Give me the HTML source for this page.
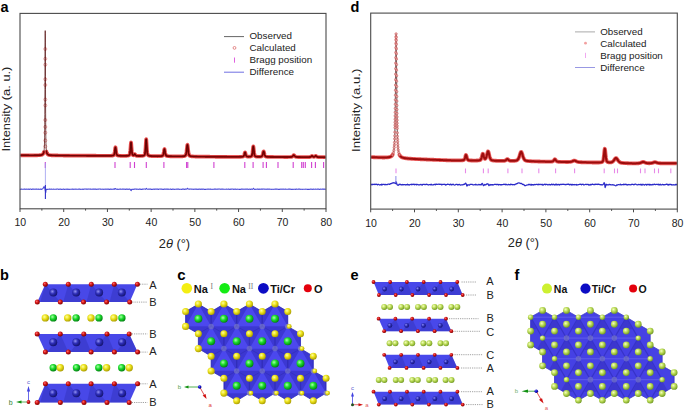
<!DOCTYPE html><html><head><meta charset="utf-8"><title>XRD refinement and crystal structures</title><style>
html,body{margin:0;padding:0;background:#fff;}
body{width:685px;height:411px;overflow:hidden;}
svg{display:block;}
text{font-family:"Liberation Sans",sans-serif;}
.tk{font-size:10.5px;fill:#222;}
.lg{font-size:9.8px;fill:#222;}
.yl{font-size:11.3px;fill:#222;}
.xl{font-size:12.8px;fill:#222;}
.pl{font-size:14.5px;font-weight:bold;fill:#000;}
.ab{font-size:11px;fill:#222;}
.lb{font-size:11px;font-weight:bold;fill:#111;}
.lf{font-size:10.5px;font-weight:bold;fill:#111;}
.rn{font-family:"Liberation Serif",serif;font-size:7.5px;fill:#777;}
.ax{font-size:6px;}
</style></head><body>
<svg width="685" height="411" viewBox="0 0 685 411">
<defs><radialGradient id="gyel" cx="0.38" cy="0.36" r="0.68"><stop offset="0" stop-color="#ffffa0"/><stop offset="0.45" stop-color="#ece21a"/><stop offset="1" stop-color="#a89a00"/></radialGradient><radialGradient id="ggrn" cx="0.38" cy="0.36" r="0.68"><stop offset="0" stop-color="#a8ffa8"/><stop offset="0.45" stop-color="#1cdc2c"/><stop offset="1" stop-color="#007a10"/></radialGradient><radialGradient id="gred" cx="0.38" cy="0.36" r="0.68"><stop offset="0" stop-color="#ff7070"/><stop offset="0.45" stop-color="#d01414"/><stop offset="1" stop-color="#780000"/></radialGradient><radialGradient id="gblu" cx="0.38" cy="0.36" r="0.68"><stop offset="0" stop-color="#7070ff"/><stop offset="0.45" stop-color="#1010d0"/><stop offset="1" stop-color="#00007a"/></radialGradient><radialGradient id="glim" cx="0.38" cy="0.36" r="0.68"><stop offset="0" stop-color="#f4ffc0"/><stop offset="0.45" stop-color="#bcdc58"/><stop offset="1" stop-color="#6e9620"/></radialGradient><radialGradient id="gti" cx="0.38" cy="0.36" r="0.68"><stop offset="0" stop-color="#9090f4"/><stop offset="0.45" stop-color="#2e2eb8"/><stop offset="1" stop-color="#12126a"/></radialGradient></defs>
<rect width="685" height="411" fill="#fff"/>
<text x="0.6" y="12.4" class="pl">a</text>
<text x="350.4" y="12.3" class="pl">d</text>
<text x="0" y="279.9" class="pl">b</text>
<clipPath id="clp20"><rect x="20.5" y="13.4" width="305" height="195.4"/></clipPath>
<g clip-path="url(#clp20)">
<path d="M20 155.3 L20.35 155.3 L20.7 155.3 L21.05 155.29 L21.4 155.3 L21.75 155.3 L22.1 155.3 L22.45 155.3 L22.8 155.3 L23.15 155.3 L23.5 155.31 L23.85 155.31 L24.2 155.31 L24.55 155.31 L24.9 155.31 L25.25 155.31 L25.6 155.31 L25.95 155.32 L26.29 155.32 L26.64 155.32 L26.99 155.32 L27.34 155.32 L27.69 155.32 L28.04 155.32 L28.39 155.32 L28.74 155.32 L29.09 155.33 L29.44 155.33 L29.79 155.33 L30.14 155.33 L30.49 155.33 L30.84 155.33 L31.19 155.33 L31.54 155.33 L31.89 155.33 L32.24 155.33 L32.59 155.33 L32.94 155.33 L33.29 155.33 L33.64 155.33 L33.99 155.32 L34.34 155.32 L34.69 155.32 L35.04 155.32 L35.39 155.32 L35.74 155.31 L36.09 155.31 L36.44 155.3 L36.79 155.3 L37.14 155.29 L37.49 155.28 L37.84 155.27 L38.19 155.26 L38.53 155.25 L38.88 155.23 L39.23 155.21 L39.58 155.19 L39.93 155.16 L40.28 155.13 L40.63 155.09 L40.98 155.03 L41.33 154.96 L41.68 154.87 L42.03 154.74 L42.38 154.57 L42.73 154.32 L43.08 153.93 L43.25 153.68 L43.4 153.38 L43.55 153.01 L43.68 152.58 L43.81 152.06 M46.54 151.61 L46.66 152.18 L46.78 152.66 L46.91 153.06 L47.05 153.4 L47.19 153.69 L47.35 153.93 L47.51 154.14 L47.69 154.32 L48.04 154.58 L48.39 154.77 L48.74 154.9 L49.08 155 L49.43 155.07 L49.78 155.13 L50.13 155.18 L50.48 155.22 L50.83 155.25 L51.18 155.28 L51.53 155.3 L51.88 155.32 L52.23 155.34 L52.58 155.36 L52.93 155.37 L53.28 155.38 L53.63 155.39 L53.98 155.4 L54.33 155.41 L54.68 155.42 L55.03 155.43 L55.38 155.43 L55.73 155.44 L56.08 155.45 L56.43 155.45 L56.78 155.46 L57.13 155.46 L57.48 155.47 L57.83 155.47 L58.18 155.48 L58.53 155.48 L58.88 155.48 L59.23 155.49 L59.58 155.49 L59.93 155.5 L60.28 155.5 L60.63 155.5 L60.98 155.51 L61.32 155.51 L61.67 155.51 L62.02 155.51 L62.37 155.52 L62.72 155.52 L63.07 155.52 L63.42 155.53 L63.77 155.53 L64.12 155.53 L64.47 155.53 L64.82 155.54 L65.17 155.54 L65.52 155.54 L65.87 155.55 L66.22 155.55 L66.57 155.55 L66.92 155.55 L67.27 155.55 L67.62 155.56 L67.97 155.56 L68.32 155.56 L68.67 155.56 L69.02 155.57 L69.37 155.57 L69.72 155.58 L70.07 155.59 L70.42 155.59 L70.77 155.59 L71.12 155.59 L71.47 155.59 L71.82 155.6 L72.17 155.6 L72.52 155.6 L72.87 155.6 L73.22 155.6 L73.56 155.61 L73.91 155.61 L74.26 155.61 L74.61 155.61 L74.96 155.61 L75.31 155.62 L75.66 155.62 L76.01 155.62 L76.36 155.62 L76.71 155.62 L77.06 155.62 L77.41 155.63 L77.76 155.63 L78.11 155.63 L78.46 155.63 L78.81 155.63 L79.16 155.64 L79.51 155.64 L79.86 155.64 L80.21 155.64 L80.56 155.64 L80.91 155.65 L81.26 155.65 L81.61 155.65 L81.96 155.65 L82.31 155.65 L82.66 155.65 L83.01 155.66 L83.36 155.66 L83.71 155.66 L84.06 155.66 L84.41 155.66 L84.76 155.67 L85.11 155.67 L85.46 155.67 L85.8 155.67 L86.15 155.67 L86.5 155.68 L86.85 155.68 L87.2 155.68 L87.55 155.68 L87.9 155.68 L88.25 155.69 L88.6 155.69 L88.95 155.69 L89.3 155.69 L89.65 155.69 L90 155.7 L90.35 155.7 L90.7 155.7 L91.05 155.7 L91.4 155.7 L91.75 155.7 L92.1 155.71 L92.45 155.71 L92.8 155.71 L93.15 155.71 L93.5 155.71 L93.85 155.71 L94.2 155.72 L94.55 155.72 L94.9 155.72 L95.25 155.72 L95.6 155.72 L95.95 155.72 L96.3 155.73 L96.65 155.73 L97 155.73 L97.35 155.73 L97.7 155.73 L98.04 155.73 L98.39 155.74 L98.74 155.74 L99.09 155.74 L99.44 155.74 L99.79 155.74 L100.14 155.74 L100.49 155.75 L100.84 155.75 L101.19 155.75 L101.54 155.75 L101.89 155.75 L102.24 155.75 L102.59 155.75 L102.94 155.75 L103.29 155.76 L103.64 155.76 L103.99 155.76 L104.34 155.76 L104.69 155.76 L105.04 155.76 L105.39 155.76 L105.74 155.76 L106.09 155.76 L106.44 155.76 L106.79 155.76 L107.14 155.76 L107.49 155.76 L107.84 155.76 L108.19 155.76 L108.54 155.76 L108.89 155.75 L109.24 155.75 L109.59 155.75 L109.94 155.74 L110.28 155.74 L110.63 155.73 L110.98 155.72 L111.33 155.7 L111.66 155.68 L111.97 155.66 L112.26 155.63 L112.54 155.6 L112.8 155.55 L113.04 155.5 L113.27 155.43 L113.48 155.33 L113.68 155.19 L113.87 154.99 L114.05 154.68 L114.21 154.25 L114.37 153.66 L114.52 152.93 L114.66 152.07 L114.79 151.12 L114.91 150.15 L115.02 149.22 L115.13 148.41 L115.23 147.79 L115.33 147.4 L115.42 147.26 L115.5 147.34 L115.59 147.64 L115.69 148.16 L115.79 148.86 L115.89 149.69 L116 150.59 L116.12 151.51 L116.25 152.38 L116.38 153.16 L116.52 153.82 L116.67 154.34 L116.83 154.74 L117 155.02 L117.17 155.22 L117.36 155.35 L117.56 155.45 L117.77 155.52 L118 155.58 L118.24 155.62 L118.49 155.66 L118.76 155.7 L119.04 155.72 L119.34 155.75 L119.66 155.77 L120 155.78 L120.35 155.8 L120.7 155.81 L121.05 155.82 L121.4 155.83 L121.75 155.83 L122.1 155.84 L122.45 155.84 L122.8 155.85 L123.15 155.85 L123.5 155.85 L123.84 155.85 L124.19 155.85 L124.54 155.85 L124.89 155.85 L125.24 155.84 L125.59 155.83 L125.94 155.82 L126.29 155.81 L126.64 155.79 L126.98 155.77 L127.31 155.74 L127.61 155.71 L127.89 155.67 L128.16 155.62 L128.41 155.56 L128.65 155.48 L128.87 155.38 L129.08 155.26 L129.27 155.09 L129.46 154.83 L129.63 154.46 L129.79 153.91 L129.95 153.14 L130.09 152.12 L130.23 150.89 L130.35 149.47 L130.47 147.94 L130.59 146.42 L130.69 145 L130.79 143.81 L130.88 142.95 L130.97 142.47 L131.05 142.37 L131.13 142.62 L131.22 143.22 L131.31 144.14 L131.4 145.33 L131.5 146.7 L131.61 148.14 L131.72 149.57 L131.84 150.9 L131.97 152.07 L132.11 153.03 L132.25 153.78 L132.4 154.33 L132.56 154.71 L132.73 154.97 L132.91 155.14 L133.1 155.24 L133.28 155.29 L133.45 155.3 L133.6 155.26 L133.75 155.18 L133.89 155.06 L134.02 154.91 L134.14 154.74 L134.26 154.56 L134.37 154.38 L134.47 154.22 L134.56 154.1 L134.65 154.03 L134.74 154.01 L134.82 154.03 L134.9 154.1 L134.99 154.21 L135.08 154.37 L135.18 154.55 L135.28 154.75 L135.39 154.95 L135.51 155.14 L135.64 155.31 L135.77 155.45 L135.91 155.57 L136.05 155.66 L136.21 155.73 L136.38 155.78 L136.55 155.81 L136.74 155.84 L136.94 155.86 L137.15 155.88 L137.37 155.89 L137.61 155.91 L137.86 155.92 L138.12 155.93 L138.41 155.93 L138.7 155.94 L139.02 155.94 L139.35 155.95 L139.7 155.95 L140.05 155.94 L140.4 155.94 L140.75 155.93 L141.1 155.92 L141.45 155.91 L141.8 155.89 L142.14 155.86 L142.47 155.83 L142.77 155.79 L143.05 155.74 L143.32 155.68 L143.57 155.6 L143.81 155.51 L144.03 155.39 L144.24 155.23 L144.44 155.02 L144.62 154.71 L144.8 154.25 L144.96 153.57 L145.11 152.61 L145.26 151.36 L145.39 149.82 L145.52 148.05 L145.64 146.15 L145.75 144.24 L145.86 142.46 L145.96 140.97 L146.05 139.88 L146.14 139.27 L146.22 139.14 L146.3 139.44 L146.38 140.18 L146.47 141.33 L146.57 142.81 L146.67 144.51 L146.78 146.32 L146.89 148.11 L147.01 149.78 L147.14 151.25 L147.27 152.46 L147.41 153.42 L147.57 154.12 L147.73 154.61 L147.9 154.95 L148.08 155.19 L148.27 155.36 L148.47 155.49 L148.68 155.6 L148.91 155.68 L149.15 155.76 L149.41 155.82 L149.68 155.87 L149.97 155.91 L150.27 155.95 L150.6 155.98 L150.94 156.01 L151.29 156.04 L151.64 156.06 L151.99 156.07 L152.34 156.09 L152.69 156.1 L153.04 156.11 L153.39 156.12 L153.74 156.13 L154.09 156.14 L154.43 156.14 L154.78 156.15 L155.13 156.16 L155.48 156.16 L155.83 156.16 L156.18 156.17 L156.53 156.17 L156.88 156.17 L157.23 156.17 L157.58 156.18 L157.93 156.18 L158.28 156.17 L158.63 156.17 L158.98 156.17 L159.33 156.16 L159.68 156.16 L160.03 156.14 L160.38 156.13 L160.71 156.11 L161.03 156.09 L161.33 156.06 L161.6 156.02 L161.87 155.97 L162.11 155.91 L162.34 155.83 L162.56 155.7 L162.76 155.51 L162.96 155.24 L163.14 154.84 L163.31 154.32 L163.46 153.68 L163.61 152.93 L163.76 152.12 L163.89 151.3 L164.01 150.53 L164.13 149.87 L164.24 149.37 L164.34 149.08 L164.44 149 L164.53 149.1 L164.63 149.4 L164.73 149.87 L164.84 150.48 L164.96 151.21 L165.08 151.98 L165.21 152.75 L165.35 153.48 L165.5 154.13 L165.66 154.67 L165.82 155.09 L166 155.41 L166.18 155.63 L166.38 155.79 L166.59 155.9 L166.81 155.97 L167.04 156.03 L167.29 156.08 L167.55 156.12 L167.83 156.16 L168.13 156.18 L168.44 156.21 L168.78 156.23 L169.13 156.25 L169.48 156.26 L169.83 156.28 L170.17 156.29 L170.52 156.3 L170.87 156.31 L171.22 156.31 L171.57 156.32 L171.92 156.33 L172.27 156.33 L172.62 156.34 L172.97 156.34 L173.32 156.35 L173.67 156.35 L174.02 156.36 L174.37 156.36 L174.72 156.36 L175.07 156.37 L175.42 156.37 L175.77 156.37 L176.12 156.38 L176.47 156.38 L176.82 156.38 L177.17 156.38 L177.52 156.38 L177.87 156.38 L178.22 156.38 L178.57 156.38 L178.92 156.38 L179.27 156.38 L179.62 156.38 L179.97 156.38 L180.32 156.37 L180.67 156.37 L181.02 156.36 L181.37 156.36 L181.72 156.35 L182.07 156.33 L182.41 156.32 L182.76 156.3 L183.11 156.27 L183.46 156.24 L183.8 156.2 L184.12 156.14 L184.42 156.08 L184.7 156 L184.96 155.89 L185.21 155.74 L185.44 155.51 L185.66 155.18 L185.86 154.7 L186.06 154.02 L186.24 153.14 L186.41 152.05 L186.57 150.82 L186.72 149.49 L186.86 148.17 L187 146.95 L187.12 145.93 L187.24 145.2 L187.35 144.8 L187.46 144.74 L187.56 144.97 L187.66 145.51 L187.78 146.32 L187.9 147.37 L188.03 148.56 L188.16 149.82 L188.31 151.06 L188.46 152.21 L188.62 153.21 L188.79 154.05 L188.97 154.69 L189.17 155.17 L189.37 155.5 L189.59 155.73 L189.82 155.89 L190.06 156.01 L190.32 156.1 L190.59 156.18 L190.88 156.24 L191.19 156.29 L191.51 156.33 L191.86 156.37 L192.21 156.4 L192.56 156.42 L192.91 156.44 L193.26 156.46 L193.61 156.48 L193.96 156.49 L194.31 156.51 L194.66 156.52 L195.01 156.53 L195.36 156.54 L195.71 156.54 L196.05 156.55 L196.4 156.56 L196.75 156.57 L197.1 156.57 L197.45 156.58 L197.8 156.58 L198.15 156.59 L198.5 156.6 L198.85 156.6 L199.2 156.61 L199.55 156.61 L199.9 156.62 L200.25 156.62 L200.6 156.63 L200.95 156.63 L201.3 156.63 L201.65 156.64 L202 156.64 L202.35 156.65 L202.7 156.65 L203.05 156.65 L203.4 156.66 L203.75 156.66 L204.1 156.67 L204.45 156.67 L204.8 156.67 L205.15 156.68 L205.5 156.68 L205.85 156.68 L206.2 156.69 L206.55 156.69 L206.9 156.7 L207.25 156.7 L207.6 156.7 L207.95 156.71 L208.29 156.71 L208.64 156.71 L208.99 156.72 L209.34 156.72 L209.69 156.72 L210.04 156.73 L210.39 156.73 L210.74 156.73 L211.09 156.74 L211.44 156.74 L211.79 156.74 L212.14 156.75 L212.49 156.75 L212.84 156.75 L213.19 156.76 L213.54 156.76 L213.89 156.76 L214.24 156.77 L214.59 156.77 L214.94 156.77 L215.29 156.78 L215.64 156.78 L215.99 156.78 L216.34 156.79 L216.69 156.79 L217.04 156.79 L217.39 156.79 L217.74 156.79 L218.09 156.79 L218.44 156.8 L218.79 156.8 L219.14 156.8 L219.49 156.8 L219.84 156.8 L220.19 156.8 L220.53 156.8 L220.88 156.8 L221.23 156.81 L221.58 156.81 L221.93 156.81 L222.28 156.81 L222.63 156.81 L222.98 156.81 L223.33 156.81 L223.68 156.81 L224.03 156.82 L224.38 156.82 L224.73 156.82 L225.08 156.82 L225.43 156.82 L225.78 156.82 L226.13 156.82 L226.48 156.82 L226.83 156.82 L227.18 156.83 L227.53 156.83 L227.88 156.83 L228.23 156.83 L228.58 156.83 L228.93 156.83 L229.28 156.83 L229.63 156.83 L229.98 156.83 L230.33 156.83 L230.68 156.83 L231.03 156.84 L231.38 156.84 L231.73 156.84 L232.08 156.84 L232.43 156.84 L232.77 156.84 L233.12 156.84 L233.47 156.84 L233.82 156.84 L234.17 156.84 L234.52 156.84 L234.87 156.84 L235.22 156.84 L235.57 156.84 L235.92 156.84 L236.27 156.84 L236.62 156.84 L236.97 156.84 L237.32 156.84 L237.67 156.84 L238.02 156.83 L238.37 156.83 L238.72 156.83 L239.07 156.83 L239.42 156.82 L239.77 156.82 L240.12 156.81 L240.47 156.8 L240.82 156.79 L241.16 156.78 L241.49 156.76 L241.79 156.74 L242.08 156.72 L242.35 156.69 L242.6 156.66 L242.84 156.61 L243.06 156.54 L243.27 156.44 L243.47 156.3 L243.66 156.08 L243.83 155.79 L244 155.42 L244.15 154.98 L244.3 154.48 L244.43 153.96 L244.56 153.45 L244.68 153 L244.8 152.63 L244.9 152.38 L245 152.27 L245.1 152.28 L245.19 152.4 L245.29 152.64 L245.4 152.99 L245.51 153.42 L245.63 153.89 L245.76 154.38 L245.89 154.85 L246.04 155.29 L246.19 155.66 L246.35 155.96 L246.52 156.18 L246.7 156.35 L246.89 156.46 L247.1 156.54 L247.31 156.59 L247.54 156.62 L247.78 156.65 L248.04 156.67 L248.31 156.68 L248.6 156.68 L248.9 156.68 L249.22 156.67 L249.57 156.65 L249.88 156.63 L250.17 156.59 L250.44 156.55 L250.7 156.49 L250.94 156.42 L251.17 156.32 L251.39 156.18 L251.59 155.98 L251.78 155.67 L251.96 155.23 L252.12 154.61 L252.28 153.81 L252.43 152.83 L252.57 151.71 L252.7 150.52 L252.82 149.34 L252.94 148.25 L253.05 147.34 L253.15 146.7 L253.24 146.35 L253.33 146.31 L253.42 146.53 L253.52 147.02 L253.61 147.77 L253.72 148.72 L253.83 149.79 L253.95 150.92 L254.08 152.03 L254.21 153.06 L254.35 153.95 L254.5 154.69 L254.66 155.26 L254.82 155.68 L255 155.97 L255.19 156.18 L255.39 156.32 L255.6 156.42 L255.83 156.49 L256.06 156.56 L256.32 156.61 L256.58 156.65 L256.87 156.68 L257.17 156.71 L257.49 156.73 L257.82 156.75 L258.17 156.76 L258.52 156.77 L258.87 156.77 L259.22 156.76 L259.57 156.76 L259.92 156.74 L260.25 156.72 L260.55 156.69 L260.84 156.65 L261.11 156.6 L261.37 156.52 L261.61 156.4 L261.84 156.22 L262.05 155.97 L262.25 155.61 L262.43 155.16 L262.61 154.62 L262.78 154.02 L262.93 153.38 L263.08 152.77 L263.21 152.22 L263.34 151.78 L263.47 151.48 L263.58 151.35 L263.69 151.37 L263.8 151.53 L263.91 151.83 L264.03 152.26 L264.16 152.78 L264.3 153.37 L264.45 153.96 L264.6 154.54 L264.77 155.07 L264.94 155.52 L265.12 155.88 L265.32 156.16 L265.52 156.36 L265.74 156.5 L265.98 156.6 L266.22 156.67 L266.48 156.72 L266.76 156.76 L267.05 156.79 L267.36 156.82 L267.69 156.85 L268.04 156.87 L268.39 156.88 L268.74 156.9 L269.09 156.91 L269.44 156.92 L269.79 156.92 L270.14 156.93 L270.49 156.94 L270.84 156.94 L271.19 156.95 L271.54 156.95 L271.89 156.96 L272.24 156.96 L272.59 156.97 L272.94 156.97 L273.29 156.97 L273.64 156.98 L273.99 156.98 L274.34 156.98 L274.69 156.98 L275.04 156.99 L275.39 156.99 L275.74 156.99 L276.09 156.99 L276.44 157 L276.79 157 L277.14 157 L277.49 157 L277.84 157 L278.19 157 L278.54 157.01 L278.89 157.01 L279.23 157.01 L279.58 157.01 L279.93 157.01 L280.28 157.01 L280.63 157.02 L280.98 157.02 L281.33 157.02 L281.68 157.02 L282.03 157.02 L282.38 157.02 L282.73 157.02 L283.08 157.02 L283.43 157.02 L283.78 157.03 L284.13 157.03 L284.48 157.03 L284.83 157.03 L285.18 157.03 L285.53 157.03 L285.88 157.03 L286.23 157.03 L286.58 157.03 L286.93 157.03 L287.28 157.03 L287.63 157.03 L287.98 157.03 L288.33 157.02 L288.68 157.02 L289.03 157.02 L289.38 157.01 L289.73 157.01 L290.08 157 L290.42 156.99 L290.74 156.97 L291.04 156.95 L291.33 156.92 L291.6 156.88 L291.85 156.81 L292.09 156.71 L292.31 156.58 L292.52 156.42 L292.71 156.22 L292.9 156 L293.07 155.78 L293.24 155.56 L293.39 155.37 L293.53 155.22 L293.67 155.12 L293.8 155.08 L293.92 155.09 L294.04 155.15 L294.17 155.27 L294.31 155.43 L294.46 155.62 L294.61 155.83 L294.78 156.04 L294.95 156.24 L295.14 156.43 L295.33 156.59 L295.54 156.71 L295.76 156.81 L296 156.88 L296.25 156.93 L296.51 156.96 L296.79 156.98 L297.08 157 L297.4 157.02 L297.73 157.03 L298.08 157.04 L298.43 157.05 L298.78 157.05 L299.13 157.06 L299.48 157.07 L299.83 157.07 L300.18 157.07 L300.53 157.08 L300.88 157.08 L301.23 157.08 L301.58 157.09 L301.93 157.09 L302.28 157.09 L302.63 157.09 L302.98 157.09 L303.33 157.09 L303.68 157.1 L304.03 157.1 L304.38 157.1 L304.73 157.1 L305.07 157.1 L305.42 157.1 L305.77 157.1 L306.12 157.1 L306.47 157.1 L306.82 157.1 L307.17 157.1 L307.52 157.1 L307.87 157.09 L308.22 157.09 L308.55 157.08 L308.87 157.08 L309.16 157.07 L309.44 157.06 L309.7 157.04 L309.94 157.02 L310.17 156.98 L310.38 156.93 L310.59 156.86 L310.78 156.77 L310.96 156.66 L311.12 156.53 L311.28 156.39 L311.43 156.26 L311.57 156.13 L311.7 156.03 L311.83 155.96 L311.94 155.92 L312.05 155.91 L312.16 155.94 L312.27 155.99 L312.39 156.07 L312.52 156.18 L312.66 156.3 L312.8 156.42 L312.95 156.54 L313.11 156.65 L313.28 156.74 L313.46 156.81 L313.66 156.86 L313.86 156.87 L314.08 156.85 L314.28 156.8 L314.47 156.72 L314.65 156.61 L314.82 156.48 L314.98 156.34 L315.13 156.2 L315.27 156.07 L315.4 155.96 L315.53 155.88 L315.64 155.84 L315.75 155.83 L315.86 155.86 L315.97 155.92 L316.09 156.01 L316.22 156.12 L316.36 156.26 L316.5 156.4 L316.65 156.53 L316.81 156.66 L316.98 156.78 L317.16 156.87 L317.35 156.94 L317.55 157 L317.77 157.04 L317.99 157.07 L318.24 157.09 L318.49 157.1 L318.76 157.11 L319.05 157.12 L319.35 157.13 L319.68 157.14 L320.02 157.14 L320.37 157.15 L320.72 157.15 L321.07 157.16 L321.42 157.16 L321.77 157.16 L322.12 157.17 L322.46 157.17 L322.81 157.17 L323.16 157.18 L323.51 157.18 L323.86 157.18 L324.21 157.18 L324.56 157.18 L324.91 157.19 L325.26 157.19 L325.61 157.19 L325.96 157.19" fill="none" stroke="#e42c2c" stroke-width="3.7" stroke-linejoin="round" stroke-linecap="round" opacity="0.8"/>
<path d="M20 155.3 L20.35 155.3 L20.7 155.3 L21.05 155.29 L21.4 155.3 L21.75 155.3 L22.1 155.3 L22.45 155.3 L22.8 155.3 L23.15 155.3 L23.5 155.31 L23.85 155.31 L24.2 155.31 L24.55 155.31 L24.9 155.31 L25.25 155.31 L25.6 155.31 L25.95 155.32 L26.29 155.32 L26.64 155.32 L26.99 155.32 L27.34 155.32 L27.69 155.32 L28.04 155.32 L28.39 155.32 L28.74 155.32 L29.09 155.33 L29.44 155.33 L29.79 155.33 L30.14 155.33 L30.49 155.33 L30.84 155.33 L31.19 155.33 L31.54 155.33 L31.89 155.33 L32.24 155.33 L32.59 155.33 L32.94 155.33 L33.29 155.33 L33.64 155.33 L33.99 155.32 L34.34 155.32 L34.69 155.32 L35.04 155.32 L35.39 155.32 L35.74 155.31 L36.09 155.31 L36.44 155.3 L36.79 155.3 L37.14 155.29 L37.49 155.28 L37.84 155.27 L38.19 155.26 L38.53 155.25 L38.88 155.23 L39.23 155.21 L39.58 155.19 L39.93 155.16 L40.28 155.13 L40.63 155.09 L40.98 155.03 L41.33 154.96 L41.68 154.87 L42.03 154.74 L42.38 154.57 L42.73 154.32 L43.08 153.93 L43.25 153.68 L43.4 153.38 L43.55 153.01 L43.68 152.58 L43.81 152.06 M46.54 151.61 L46.66 152.18 L46.78 152.66 L46.91 153.06 L47.05 153.4 L47.19 153.69 L47.35 153.93 L47.51 154.14 L47.69 154.32 L48.04 154.58 L48.39 154.77 L48.74 154.9 L49.08 155 L49.43 155.07 L49.78 155.13 L50.13 155.18 L50.48 155.22 L50.83 155.25 L51.18 155.28 L51.53 155.3 L51.88 155.32 L52.23 155.34 L52.58 155.36 L52.93 155.37 L53.28 155.38 L53.63 155.39 L53.98 155.4 L54.33 155.41 L54.68 155.42 L55.03 155.43 L55.38 155.43 L55.73 155.44 L56.08 155.45 L56.43 155.45 L56.78 155.46 L57.13 155.46 L57.48 155.47 L57.83 155.47 L58.18 155.48 L58.53 155.48 L58.88 155.48 L59.23 155.49 L59.58 155.49 L59.93 155.5 L60.28 155.5 L60.63 155.5 L60.98 155.51 L61.32 155.51 L61.67 155.51 L62.02 155.51 L62.37 155.52 L62.72 155.52 L63.07 155.52 L63.42 155.53 L63.77 155.53 L64.12 155.53 L64.47 155.53 L64.82 155.54 L65.17 155.54 L65.52 155.54 L65.87 155.55 L66.22 155.55 L66.57 155.55 L66.92 155.55 L67.27 155.55 L67.62 155.56 L67.97 155.56 L68.32 155.56 L68.67 155.56 L69.02 155.57 L69.37 155.57 L69.72 155.58 L70.07 155.59 L70.42 155.59 L70.77 155.59 L71.12 155.59 L71.47 155.59 L71.82 155.6 L72.17 155.6 L72.52 155.6 L72.87 155.6 L73.22 155.6 L73.56 155.61 L73.91 155.61 L74.26 155.61 L74.61 155.61 L74.96 155.61 L75.31 155.62 L75.66 155.62 L76.01 155.62 L76.36 155.62 L76.71 155.62 L77.06 155.62 L77.41 155.63 L77.76 155.63 L78.11 155.63 L78.46 155.63 L78.81 155.63 L79.16 155.64 L79.51 155.64 L79.86 155.64 L80.21 155.64 L80.56 155.64 L80.91 155.65 L81.26 155.65 L81.61 155.65 L81.96 155.65 L82.31 155.65 L82.66 155.65 L83.01 155.66 L83.36 155.66 L83.71 155.66 L84.06 155.66 L84.41 155.66 L84.76 155.67 L85.11 155.67 L85.46 155.67 L85.8 155.67 L86.15 155.67 L86.5 155.68 L86.85 155.68 L87.2 155.68 L87.55 155.68 L87.9 155.68 L88.25 155.69 L88.6 155.69 L88.95 155.69 L89.3 155.69 L89.65 155.69 L90 155.7 L90.35 155.7 L90.7 155.7 L91.05 155.7 L91.4 155.7 L91.75 155.7 L92.1 155.71 L92.45 155.71 L92.8 155.71 L93.15 155.71 L93.5 155.71 L93.85 155.71 L94.2 155.72 L94.55 155.72 L94.9 155.72 L95.25 155.72 L95.6 155.72 L95.95 155.72 L96.3 155.73 L96.65 155.73 L97 155.73 L97.35 155.73 L97.7 155.73 L98.04 155.73 L98.39 155.74 L98.74 155.74 L99.09 155.74 L99.44 155.74 L99.79 155.74 L100.14 155.74 L100.49 155.75 L100.84 155.75 L101.19 155.75 L101.54 155.75 L101.89 155.75 L102.24 155.75 L102.59 155.75 L102.94 155.75 L103.29 155.76 L103.64 155.76 L103.99 155.76 L104.34 155.76 L104.69 155.76 L105.04 155.76 L105.39 155.76 L105.74 155.76 L106.09 155.76 L106.44 155.76 L106.79 155.76 L107.14 155.76 L107.49 155.76 L107.84 155.76 L108.19 155.76 L108.54 155.76 L108.89 155.75 L109.24 155.75 L109.59 155.75 L109.94 155.74 L110.28 155.74 L110.63 155.73 L110.98 155.72 L111.33 155.7 L111.66 155.68 L111.97 155.66 L112.26 155.63 L112.54 155.6 L112.8 155.55 L113.04 155.5 L113.27 155.43 L113.48 155.33 L113.68 155.19 L113.87 154.99 L114.05 154.68 L114.21 154.25 L114.37 153.66 L114.52 152.93 L114.66 152.07 L114.79 151.12 L114.91 150.15 L115.02 149.22 L115.13 148.41 L115.23 147.79 L115.33 147.4 L115.42 147.26 L115.5 147.34 L115.59 147.64 L115.69 148.16 L115.79 148.86 L115.89 149.69 L116 150.59 L116.12 151.51 L116.25 152.38 L116.38 153.16 L116.52 153.82 L116.67 154.34 L116.83 154.74 L117 155.02 L117.17 155.22 L117.36 155.35 L117.56 155.45 L117.77 155.52 L118 155.58 L118.24 155.62 L118.49 155.66 L118.76 155.7 L119.04 155.72 L119.34 155.75 L119.66 155.77 L120 155.78 L120.35 155.8 L120.7 155.81 L121.05 155.82 L121.4 155.83 L121.75 155.83 L122.1 155.84 L122.45 155.84 L122.8 155.85 L123.15 155.85 L123.5 155.85 L123.84 155.85 L124.19 155.85 L124.54 155.85 L124.89 155.85 L125.24 155.84 L125.59 155.83 L125.94 155.82 L126.29 155.81 L126.64 155.79 L126.98 155.77 L127.31 155.74 L127.61 155.71 L127.89 155.67 L128.16 155.62 L128.41 155.56 L128.65 155.48 L128.87 155.38 L129.08 155.26 L129.27 155.09 L129.46 154.83 L129.63 154.46 L129.79 153.91 L129.95 153.14 L130.09 152.12 L130.23 150.89 L130.35 149.47 L130.47 147.94 L130.59 146.42 L130.69 145 L130.79 143.81 L130.88 142.95 L130.97 142.47 L131.05 142.37 L131.13 142.62 L131.22 143.22 L131.31 144.14 L131.4 145.33 L131.5 146.7 L131.61 148.14 L131.72 149.57 L131.84 150.9 L131.97 152.07 L132.11 153.03 L132.25 153.78 L132.4 154.33 L132.56 154.71 L132.73 154.97 L132.91 155.14 L133.1 155.24 L133.28 155.29 L133.45 155.3 L133.6 155.26 L133.75 155.18 L133.89 155.06 L134.02 154.91 L134.14 154.74 L134.26 154.56 L134.37 154.38 L134.47 154.22 L134.56 154.1 L134.65 154.03 L134.74 154.01 L134.82 154.03 L134.9 154.1 L134.99 154.21 L135.08 154.37 L135.18 154.55 L135.28 154.75 L135.39 154.95 L135.51 155.14 L135.64 155.31 L135.77 155.45 L135.91 155.57 L136.05 155.66 L136.21 155.73 L136.38 155.78 L136.55 155.81 L136.74 155.84 L136.94 155.86 L137.15 155.88 L137.37 155.89 L137.61 155.91 L137.86 155.92 L138.12 155.93 L138.41 155.93 L138.7 155.94 L139.02 155.94 L139.35 155.95 L139.7 155.95 L140.05 155.94 L140.4 155.94 L140.75 155.93 L141.1 155.92 L141.45 155.91 L141.8 155.89 L142.14 155.86 L142.47 155.83 L142.77 155.79 L143.05 155.74 L143.32 155.68 L143.57 155.6 L143.81 155.51 L144.03 155.39 L144.24 155.23 L144.44 155.02 L144.62 154.71 L144.8 154.25 L144.96 153.57 L145.11 152.61 L145.26 151.36 L145.39 149.82 L145.52 148.05 L145.64 146.15 L145.75 144.24 L145.86 142.46 L145.96 140.97 L146.05 139.88 L146.14 139.27 L146.22 139.14 L146.3 139.44 L146.38 140.18 L146.47 141.33 L146.57 142.81 L146.67 144.51 L146.78 146.32 L146.89 148.11 L147.01 149.78 L147.14 151.25 L147.27 152.46 L147.41 153.42 L147.57 154.12 L147.73 154.61 L147.9 154.95 L148.08 155.19 L148.27 155.36 L148.47 155.49 L148.68 155.6 L148.91 155.68 L149.15 155.76 L149.41 155.82 L149.68 155.87 L149.97 155.91 L150.27 155.95 L150.6 155.98 L150.94 156.01 L151.29 156.04 L151.64 156.06 L151.99 156.07 L152.34 156.09 L152.69 156.1 L153.04 156.11 L153.39 156.12 L153.74 156.13 L154.09 156.14 L154.43 156.14 L154.78 156.15 L155.13 156.16 L155.48 156.16 L155.83 156.16 L156.18 156.17 L156.53 156.17 L156.88 156.17 L157.23 156.17 L157.58 156.18 L157.93 156.18 L158.28 156.17 L158.63 156.17 L158.98 156.17 L159.33 156.16 L159.68 156.16 L160.03 156.14 L160.38 156.13 L160.71 156.11 L161.03 156.09 L161.33 156.06 L161.6 156.02 L161.87 155.97 L162.11 155.91 L162.34 155.83 L162.56 155.7 L162.76 155.51 L162.96 155.24 L163.14 154.84 L163.31 154.32 L163.46 153.68 L163.61 152.93 L163.76 152.12 L163.89 151.3 L164.01 150.53 L164.13 149.87 L164.24 149.37 L164.34 149.08 L164.44 149 L164.53 149.1 L164.63 149.4 L164.73 149.87 L164.84 150.48 L164.96 151.21 L165.08 151.98 L165.21 152.75 L165.35 153.48 L165.5 154.13 L165.66 154.67 L165.82 155.09 L166 155.41 L166.18 155.63 L166.38 155.79 L166.59 155.9 L166.81 155.97 L167.04 156.03 L167.29 156.08 L167.55 156.12 L167.83 156.16 L168.13 156.18 L168.44 156.21 L168.78 156.23 L169.13 156.25 L169.48 156.26 L169.83 156.28 L170.17 156.29 L170.52 156.3 L170.87 156.31 L171.22 156.31 L171.57 156.32 L171.92 156.33 L172.27 156.33 L172.62 156.34 L172.97 156.34 L173.32 156.35 L173.67 156.35 L174.02 156.36 L174.37 156.36 L174.72 156.36 L175.07 156.37 L175.42 156.37 L175.77 156.37 L176.12 156.38 L176.47 156.38 L176.82 156.38 L177.17 156.38 L177.52 156.38 L177.87 156.38 L178.22 156.38 L178.57 156.38 L178.92 156.38 L179.27 156.38 L179.62 156.38 L179.97 156.38 L180.32 156.37 L180.67 156.37 L181.02 156.36 L181.37 156.36 L181.72 156.35 L182.07 156.33 L182.41 156.32 L182.76 156.3 L183.11 156.27 L183.46 156.24 L183.8 156.2 L184.12 156.14 L184.42 156.08 L184.7 156 L184.96 155.89 L185.21 155.74 L185.44 155.51 L185.66 155.18 L185.86 154.7 L186.06 154.02 L186.24 153.14 L186.41 152.05 L186.57 150.82 L186.72 149.49 L186.86 148.17 L187 146.95 L187.12 145.93 L187.24 145.2 L187.35 144.8 L187.46 144.74 L187.56 144.97 L187.66 145.51 L187.78 146.32 L187.9 147.37 L188.03 148.56 L188.16 149.82 L188.31 151.06 L188.46 152.21 L188.62 153.21 L188.79 154.05 L188.97 154.69 L189.17 155.17 L189.37 155.5 L189.59 155.73 L189.82 155.89 L190.06 156.01 L190.32 156.1 L190.59 156.18 L190.88 156.24 L191.19 156.29 L191.51 156.33 L191.86 156.37 L192.21 156.4 L192.56 156.42 L192.91 156.44 L193.26 156.46 L193.61 156.48 L193.96 156.49 L194.31 156.51 L194.66 156.52 L195.01 156.53 L195.36 156.54 L195.71 156.54 L196.05 156.55 L196.4 156.56 L196.75 156.57 L197.1 156.57 L197.45 156.58 L197.8 156.58 L198.15 156.59 L198.5 156.6 L198.85 156.6 L199.2 156.61 L199.55 156.61 L199.9 156.62 L200.25 156.62 L200.6 156.63 L200.95 156.63 L201.3 156.63 L201.65 156.64 L202 156.64 L202.35 156.65 L202.7 156.65 L203.05 156.65 L203.4 156.66 L203.75 156.66 L204.1 156.67 L204.45 156.67 L204.8 156.67 L205.15 156.68 L205.5 156.68 L205.85 156.68 L206.2 156.69 L206.55 156.69 L206.9 156.7 L207.25 156.7 L207.6 156.7 L207.95 156.71 L208.29 156.71 L208.64 156.71 L208.99 156.72 L209.34 156.72 L209.69 156.72 L210.04 156.73 L210.39 156.73 L210.74 156.73 L211.09 156.74 L211.44 156.74 L211.79 156.74 L212.14 156.75 L212.49 156.75 L212.84 156.75 L213.19 156.76 L213.54 156.76 L213.89 156.76 L214.24 156.77 L214.59 156.77 L214.94 156.77 L215.29 156.78 L215.64 156.78 L215.99 156.78 L216.34 156.79 L216.69 156.79 L217.04 156.79 L217.39 156.79 L217.74 156.79 L218.09 156.79 L218.44 156.8 L218.79 156.8 L219.14 156.8 L219.49 156.8 L219.84 156.8 L220.19 156.8 L220.53 156.8 L220.88 156.8 L221.23 156.81 L221.58 156.81 L221.93 156.81 L222.28 156.81 L222.63 156.81 L222.98 156.81 L223.33 156.81 L223.68 156.81 L224.03 156.82 L224.38 156.82 L224.73 156.82 L225.08 156.82 L225.43 156.82 L225.78 156.82 L226.13 156.82 L226.48 156.82 L226.83 156.82 L227.18 156.83 L227.53 156.83 L227.88 156.83 L228.23 156.83 L228.58 156.83 L228.93 156.83 L229.28 156.83 L229.63 156.83 L229.98 156.83 L230.33 156.83 L230.68 156.83 L231.03 156.84 L231.38 156.84 L231.73 156.84 L232.08 156.84 L232.43 156.84 L232.77 156.84 L233.12 156.84 L233.47 156.84 L233.82 156.84 L234.17 156.84 L234.52 156.84 L234.87 156.84 L235.22 156.84 L235.57 156.84 L235.92 156.84 L236.27 156.84 L236.62 156.84 L236.97 156.84 L237.32 156.84 L237.67 156.84 L238.02 156.83 L238.37 156.83 L238.72 156.83 L239.07 156.83 L239.42 156.82 L239.77 156.82 L240.12 156.81 L240.47 156.8 L240.82 156.79 L241.16 156.78 L241.49 156.76 L241.79 156.74 L242.08 156.72 L242.35 156.69 L242.6 156.66 L242.84 156.61 L243.06 156.54 L243.27 156.44 L243.47 156.3 L243.66 156.08 L243.83 155.79 L244 155.42 L244.15 154.98 L244.3 154.48 L244.43 153.96 L244.56 153.45 L244.68 153 L244.8 152.63 L244.9 152.38 L245 152.27 L245.1 152.28 L245.19 152.4 L245.29 152.64 L245.4 152.99 L245.51 153.42 L245.63 153.89 L245.76 154.38 L245.89 154.85 L246.04 155.29 L246.19 155.66 L246.35 155.96 L246.52 156.18 L246.7 156.35 L246.89 156.46 L247.1 156.54 L247.31 156.59 L247.54 156.62 L247.78 156.65 L248.04 156.67 L248.31 156.68 L248.6 156.68 L248.9 156.68 L249.22 156.67 L249.57 156.65 L249.88 156.63 L250.17 156.59 L250.44 156.55 L250.7 156.49 L250.94 156.42 L251.17 156.32 L251.39 156.18 L251.59 155.98 L251.78 155.67 L251.96 155.23 L252.12 154.61 L252.28 153.81 L252.43 152.83 L252.57 151.71 L252.7 150.52 L252.82 149.34 L252.94 148.25 L253.05 147.34 L253.15 146.7 L253.24 146.35 L253.33 146.31 L253.42 146.53 L253.52 147.02 L253.61 147.77 L253.72 148.72 L253.83 149.79 L253.95 150.92 L254.08 152.03 L254.21 153.06 L254.35 153.95 L254.5 154.69 L254.66 155.26 L254.82 155.68 L255 155.97 L255.19 156.18 L255.39 156.32 L255.6 156.42 L255.83 156.49 L256.06 156.56 L256.32 156.61 L256.58 156.65 L256.87 156.68 L257.17 156.71 L257.49 156.73 L257.82 156.75 L258.17 156.76 L258.52 156.77 L258.87 156.77 L259.22 156.76 L259.57 156.76 L259.92 156.74 L260.25 156.72 L260.55 156.69 L260.84 156.65 L261.11 156.6 L261.37 156.52 L261.61 156.4 L261.84 156.22 L262.05 155.97 L262.25 155.61 L262.43 155.16 L262.61 154.62 L262.78 154.02 L262.93 153.38 L263.08 152.77 L263.21 152.22 L263.34 151.78 L263.47 151.48 L263.58 151.35 L263.69 151.37 L263.8 151.53 L263.91 151.83 L264.03 152.26 L264.16 152.78 L264.3 153.37 L264.45 153.96 L264.6 154.54 L264.77 155.07 L264.94 155.52 L265.12 155.88 L265.32 156.16 L265.52 156.36 L265.74 156.5 L265.98 156.6 L266.22 156.67 L266.48 156.72 L266.76 156.76 L267.05 156.79 L267.36 156.82 L267.69 156.85 L268.04 156.87 L268.39 156.88 L268.74 156.9 L269.09 156.91 L269.44 156.92 L269.79 156.92 L270.14 156.93 L270.49 156.94 L270.84 156.94 L271.19 156.95 L271.54 156.95 L271.89 156.96 L272.24 156.96 L272.59 156.97 L272.94 156.97 L273.29 156.97 L273.64 156.98 L273.99 156.98 L274.34 156.98 L274.69 156.98 L275.04 156.99 L275.39 156.99 L275.74 156.99 L276.09 156.99 L276.44 157 L276.79 157 L277.14 157 L277.49 157 L277.84 157 L278.19 157 L278.54 157.01 L278.89 157.01 L279.23 157.01 L279.58 157.01 L279.93 157.01 L280.28 157.01 L280.63 157.02 L280.98 157.02 L281.33 157.02 L281.68 157.02 L282.03 157.02 L282.38 157.02 L282.73 157.02 L283.08 157.02 L283.43 157.02 L283.78 157.03 L284.13 157.03 L284.48 157.03 L284.83 157.03 L285.18 157.03 L285.53 157.03 L285.88 157.03 L286.23 157.03 L286.58 157.03 L286.93 157.03 L287.28 157.03 L287.63 157.03 L287.98 157.03 L288.33 157.02 L288.68 157.02 L289.03 157.02 L289.38 157.01 L289.73 157.01 L290.08 157 L290.42 156.99 L290.74 156.97 L291.04 156.95 L291.33 156.92 L291.6 156.88 L291.85 156.81 L292.09 156.71 L292.31 156.58 L292.52 156.42 L292.71 156.22 L292.9 156 L293.07 155.78 L293.24 155.56 L293.39 155.37 L293.53 155.22 L293.67 155.12 L293.8 155.08 L293.92 155.09 L294.04 155.15 L294.17 155.27 L294.31 155.43 L294.46 155.62 L294.61 155.83 L294.78 156.04 L294.95 156.24 L295.14 156.43 L295.33 156.59 L295.54 156.71 L295.76 156.81 L296 156.88 L296.25 156.93 L296.51 156.96 L296.79 156.98 L297.08 157 L297.4 157.02 L297.73 157.03 L298.08 157.04 L298.43 157.05 L298.78 157.05 L299.13 157.06 L299.48 157.07 L299.83 157.07 L300.18 157.07 L300.53 157.08 L300.88 157.08 L301.23 157.08 L301.58 157.09 L301.93 157.09 L302.28 157.09 L302.63 157.09 L302.98 157.09 L303.33 157.09 L303.68 157.1 L304.03 157.1 L304.38 157.1 L304.73 157.1 L305.07 157.1 L305.42 157.1 L305.77 157.1 L306.12 157.1 L306.47 157.1 L306.82 157.1 L307.17 157.1 L307.52 157.1 L307.87 157.09 L308.22 157.09 L308.55 157.08 L308.87 157.08 L309.16 157.07 L309.44 157.06 L309.7 157.04 L309.94 157.02 L310.17 156.98 L310.38 156.93 L310.59 156.86 L310.78 156.77 L310.96 156.66 L311.12 156.53 L311.28 156.39 L311.43 156.26 L311.57 156.13 L311.7 156.03 L311.83 155.96 L311.94 155.92 L312.05 155.91 L312.16 155.94 L312.27 155.99 L312.39 156.07 L312.52 156.18 L312.66 156.3 L312.8 156.42 L312.95 156.54 L313.11 156.65 L313.28 156.74 L313.46 156.81 L313.66 156.86 L313.86 156.87 L314.08 156.85 L314.28 156.8 L314.47 156.72 L314.65 156.61 L314.82 156.48 L314.98 156.34 L315.13 156.2 L315.27 156.07 L315.4 155.96 L315.53 155.88 L315.64 155.84 L315.75 155.83 L315.86 155.86 L315.97 155.92 L316.09 156.01 L316.22 156.12 L316.36 156.26 L316.5 156.4 L316.65 156.53 L316.81 156.66 L316.98 156.78 L317.16 156.87 L317.35 156.94 L317.55 157 L317.77 157.04 L317.99 157.07 L318.24 157.09 L318.49 157.1 L318.76 157.11 L319.05 157.12 L319.35 157.13 L319.68 157.14 L320.02 157.14 L320.37 157.15 L320.72 157.15 L321.07 157.16 L321.42 157.16 L321.77 157.16 L322.12 157.17 L322.46 157.17 L322.81 157.17 L323.16 157.18 L323.51 157.18 L323.86 157.18 L324.21 157.18 L324.56 157.18 L324.91 157.19 L325.26 157.19 L325.61 157.19 L325.96 157.19" fill="none" stroke="#9a0a0a" stroke-width="1.9" stroke-linejoin="round" stroke-linecap="round"/>
<circle cx="45.3" cy="49" r="1.5" fill="none" stroke="#e07070" stroke-width="0.8" opacity="0.8"/>
<circle cx="45.3" cy="58.8" r="1.5" fill="none" stroke="#e07070" stroke-width="0.8" opacity="0.8"/>
<circle cx="45.3" cy="64.7" r="1.5" fill="none" stroke="#e07070" stroke-width="0.8" opacity="0.8"/>
<circle cx="45.3" cy="79.2" r="1.5" fill="none" stroke="#e07070" stroke-width="0.8" opacity="0.8"/>
<circle cx="45.3" cy="85" r="1.5" fill="none" stroke="#e07070" stroke-width="0.8" opacity="0.8"/>
<circle cx="45.3" cy="99.5" r="1.5" fill="none" stroke="#e07070" stroke-width="0.8" opacity="0.8"/>
<circle cx="45.3" cy="105.4" r="1.5" fill="none" stroke="#e07070" stroke-width="0.8" opacity="0.8"/>
<circle cx="45.3" cy="120" r="1.5" fill="none" stroke="#e07070" stroke-width="0.8" opacity="0.8"/>
<circle cx="45.3" cy="126.9" r="1.5" fill="none" stroke="#e07070" stroke-width="0.8" opacity="0.8"/>
<circle cx="45.3" cy="132.7" r="1.5" fill="none" stroke="#e07070" stroke-width="0.8" opacity="0.8"/>
<circle cx="45.3" cy="140.5" r="1.5" fill="none" stroke="#e07070" stroke-width="0.8" opacity="0.8"/>
<circle cx="45.3" cy="146.4" r="1.5" fill="none" stroke="#e07070" stroke-width="0.8" opacity="0.8"/>
<path d="M20 155.3 L20.35 155.3 L20.7 155.3 L21.05 155.29 L21.4 155.3 L21.75 155.3 L22.1 155.3 L22.45 155.3 L22.8 155.3 L23.15 155.3 L23.5 155.31 L23.85 155.31 L24.2 155.31 L24.55 155.31 L24.9 155.31 L25.25 155.31 L25.6 155.31 L25.95 155.32 L26.29 155.32 L26.64 155.32 L26.99 155.32 L27.34 155.32 L27.69 155.32 L28.04 155.32 L28.39 155.32 L28.74 155.32 L29.09 155.33 L29.44 155.33 L29.79 155.33 L30.14 155.33 L30.49 155.33 L30.84 155.33 L31.19 155.33 L31.54 155.33 L31.89 155.33 L32.24 155.33 L32.59 155.33 L32.94 155.33 L33.29 155.33 L33.64 155.33 L33.99 155.32 L34.34 155.32 L34.69 155.32 L35.04 155.32 L35.39 155.32 L35.74 155.31 L36.09 155.31 L36.44 155.3 L36.79 155.3 L37.14 155.29 L37.49 155.28 L37.84 155.27 L38.19 155.26 L38.53 155.25 L38.88 155.23 L39.23 155.21 L39.58 155.19 L39.93 155.16 L40.28 155.13 L40.63 155.09 L40.98 155.03 L41.33 154.96 L41.68 154.87 L42.03 154.74 L42.38 154.57 L42.73 154.32 L43.08 153.93 L43.25 153.68 L43.4 153.38 L43.55 153.01 L43.68 152.58 L43.81 152.06 L43.94 151.43 L44.05 150.66 L44.16 149.73 L44.26 148.55 L44.35 147.02 L44.44 144.95 L44.52 142.02 L44.6 137.85 L44.68 132.02 L44.75 124.25 L44.81 114.43 L44.87 102.74 L44.93 89.64 L44.99 75.82 L45.04 62.23 L45.08 49.94 L45.13 40.07 L45.17 33.49 L45.21 30.61 L45.25 31.21 L45.29 35.07 L45.33 42.15 L45.37 52.01 L45.42 63.84 L45.46 76.71 L45.52 89.72 L45.57 102.09 L45.63 113.22 L45.69 122.73 L45.75 130.44 L45.82 136.37 L45.89 140.75 L45.97 143.9 L46.05 146.16 L46.14 147.82 L46.23 149.09 L46.33 150.1 L46.43 150.93 L46.54 151.61 L46.66 152.18 L46.78 152.66 L46.91 153.06 L47.05 153.4 L47.19 153.69 L47.35 153.93 L47.51 154.14 L47.69 154.32 L48.04 154.58 L48.39 154.77 L48.74 154.9 L49.08 155 L49.43 155.07 L49.78 155.13 L50.13 155.18 L50.48 155.22 L50.83 155.25 L51.18 155.28 L51.53 155.3 L51.88 155.32 L52.23 155.34 L52.58 155.36 L52.93 155.37 L53.28 155.38 L53.63 155.39 L53.98 155.4 L54.33 155.41 L54.68 155.42 L55.03 155.43 L55.38 155.43 L55.73 155.44 L56.08 155.45 L56.43 155.45 L56.78 155.46 L57.13 155.46 L57.48 155.47 L57.83 155.47 L58.18 155.48 L58.53 155.48 L58.88 155.48 L59.23 155.49 L59.58 155.49 L59.93 155.5 L60.28 155.5 L60.63 155.5 L60.98 155.51 L61.32 155.51 L61.67 155.51 L62.02 155.51 L62.37 155.52 L62.72 155.52 L63.07 155.52 L63.42 155.53 L63.77 155.53 L64.12 155.53 L64.47 155.53 L64.82 155.54 L65.17 155.54 L65.52 155.54 L65.87 155.55 L66.22 155.55 L66.57 155.55 L66.92 155.55 L67.27 155.55 L67.62 155.56 L67.97 155.56 L68.32 155.56 L68.67 155.56 L69.02 155.57 L69.37 155.57 L69.72 155.58 L70.07 155.59 L70.42 155.59 L70.77 155.59 L71.12 155.59 L71.47 155.59 L71.82 155.6 L72.17 155.6 L72.52 155.6 L72.87 155.6 L73.22 155.6 L73.56 155.61 L73.91 155.61 L74.26 155.61 L74.61 155.61 L74.96 155.61 L75.31 155.62 L75.66 155.62 L76.01 155.62 L76.36 155.62 L76.71 155.62 L77.06 155.62 L77.41 155.63 L77.76 155.63 L78.11 155.63 L78.46 155.63 L78.81 155.63 L79.16 155.64 L79.51 155.64 L79.86 155.64 L80.21 155.64 L80.56 155.64 L80.91 155.65 L81.26 155.65 L81.61 155.65 L81.96 155.65 L82.31 155.65 L82.66 155.65 L83.01 155.66 L83.36 155.66 L83.71 155.66 L84.06 155.66 L84.41 155.66 L84.76 155.67 L85.11 155.67 L85.46 155.67 L85.8 155.67 L86.15 155.67 L86.5 155.68 L86.85 155.68 L87.2 155.68 L87.55 155.68 L87.9 155.68 L88.25 155.69 L88.6 155.69 L88.95 155.69 L89.3 155.69 L89.65 155.69 L90 155.7 L90.35 155.7 L90.7 155.7 L91.05 155.7 L91.4 155.7 L91.75 155.7 L92.1 155.71 L92.45 155.71 L92.8 155.71 L93.15 155.71 L93.5 155.71 L93.85 155.71 L94.2 155.72 L94.55 155.72 L94.9 155.72 L95.25 155.72 L95.6 155.72 L95.95 155.72 L96.3 155.73 L96.65 155.73 L97 155.73 L97.35 155.73 L97.7 155.73 L98.04 155.73 L98.39 155.74 L98.74 155.74 L99.09 155.74 L99.44 155.74 L99.79 155.74 L100.14 155.74 L100.49 155.75 L100.84 155.75 L101.19 155.75 L101.54 155.75 L101.89 155.75 L102.24 155.75 L102.59 155.75 L102.94 155.75 L103.29 155.76 L103.64 155.76 L103.99 155.76 L104.34 155.76 L104.69 155.76 L105.04 155.76 L105.39 155.76 L105.74 155.76 L106.09 155.76 L106.44 155.76 L106.79 155.76 L107.14 155.76 L107.49 155.76 L107.84 155.76 L108.19 155.76 L108.54 155.76 L108.89 155.75 L109.24 155.75 L109.59 155.75 L109.94 155.74 L110.28 155.74 L110.63 155.73 L110.98 155.72 L111.33 155.7 L111.66 155.68 L111.97 155.66 L112.26 155.63 L112.54 155.6 L112.8 155.55 L113.04 155.5 L113.27 155.43 L113.48 155.33 L113.68 155.19 L113.87 154.99 L114.05 154.68 L114.21 154.25 L114.37 153.66 L114.52 152.93 L114.66 152.07 L114.79 151.12 L114.91 150.15 L115.02 149.22 L115.13 148.41 L115.23 147.79 L115.33 147.4 L115.42 147.26 L115.5 147.34 L115.59 147.64 L115.69 148.16 L115.79 148.86 L115.89 149.69 L116 150.59 L116.12 151.51 L116.25 152.38 L116.38 153.16 L116.52 153.82 L116.67 154.34 L116.83 154.74 L117 155.02 L117.17 155.22 L117.36 155.35 L117.56 155.45 L117.77 155.52 L118 155.58 L118.24 155.62 L118.49 155.66 L118.76 155.7 L119.04 155.72 L119.34 155.75 L119.66 155.77 L120 155.78 L120.35 155.8 L120.7 155.81 L121.05 155.82 L121.4 155.83 L121.75 155.83 L122.1 155.84 L122.45 155.84 L122.8 155.85 L123.15 155.85 L123.5 155.85 L123.84 155.85 L124.19 155.85 L124.54 155.85 L124.89 155.85 L125.24 155.84 L125.59 155.83 L125.94 155.82 L126.29 155.81 L126.64 155.79 L126.98 155.77 L127.31 155.74 L127.61 155.71 L127.89 155.67 L128.16 155.62 L128.41 155.56 L128.65 155.48 L128.87 155.38 L129.08 155.26 L129.27 155.09 L129.46 154.83 L129.63 154.46 L129.79 153.91 L129.95 153.14 L130.09 152.12 L130.23 150.89 L130.35 149.47 L130.47 147.94 L130.59 146.42 L130.69 145 L130.79 143.81 L130.88 142.95 L130.97 142.47 L131.05 142.37 L131.13 142.62 L131.22 143.22 L131.31 144.14 L131.4 145.33 L131.5 146.7 L131.61 148.14 L131.72 149.57 L131.84 150.9 L131.97 152.07 L132.11 153.03 L132.25 153.78 L132.4 154.33 L132.56 154.71 L132.73 154.97 L132.91 155.14 L133.1 155.24 L133.28 155.29 L133.45 155.3 L133.6 155.26 L133.75 155.18 L133.89 155.06 L134.02 154.91 L134.14 154.74 L134.26 154.56 L134.37 154.38 L134.47 154.22 L134.56 154.1 L134.65 154.03 L134.74 154.01 L134.82 154.03 L134.9 154.1 L134.99 154.21 L135.08 154.37 L135.18 154.55 L135.28 154.75 L135.39 154.95 L135.51 155.14 L135.64 155.31 L135.77 155.45 L135.91 155.57 L136.05 155.66 L136.21 155.73 L136.38 155.78 L136.55 155.81 L136.74 155.84 L136.94 155.86 L137.15 155.88 L137.37 155.89 L137.61 155.91 L137.86 155.92 L138.12 155.93 L138.41 155.93 L138.7 155.94 L139.02 155.94 L139.35 155.95 L139.7 155.95 L140.05 155.94 L140.4 155.94 L140.75 155.93 L141.1 155.92 L141.45 155.91 L141.8 155.89 L142.14 155.86 L142.47 155.83 L142.77 155.79 L143.05 155.74 L143.32 155.68 L143.57 155.6 L143.81 155.51 L144.03 155.39 L144.24 155.23 L144.44 155.02 L144.62 154.71 L144.8 154.25 L144.96 153.57 L145.11 152.61 L145.26 151.36 L145.39 149.82 L145.52 148.05 L145.64 146.15 L145.75 144.24 L145.86 142.46 L145.96 140.97 L146.05 139.88 L146.14 139.27 L146.22 139.14 L146.3 139.44 L146.38 140.18 L146.47 141.33 L146.57 142.81 L146.67 144.51 L146.78 146.32 L146.89 148.11 L147.01 149.78 L147.14 151.25 L147.27 152.46 L147.41 153.42 L147.57 154.12 L147.73 154.61 L147.9 154.95 L148.08 155.19 L148.27 155.36 L148.47 155.49 L148.68 155.6 L148.91 155.68 L149.15 155.76 L149.41 155.82 L149.68 155.87 L149.97 155.91 L150.27 155.95 L150.6 155.98 L150.94 156.01 L151.29 156.04 L151.64 156.06 L151.99 156.07 L152.34 156.09 L152.69 156.1 L153.04 156.11 L153.39 156.12 L153.74 156.13 L154.09 156.14 L154.43 156.14 L154.78 156.15 L155.13 156.16 L155.48 156.16 L155.83 156.16 L156.18 156.17 L156.53 156.17 L156.88 156.17 L157.23 156.17 L157.58 156.18 L157.93 156.18 L158.28 156.17 L158.63 156.17 L158.98 156.17 L159.33 156.16 L159.68 156.16 L160.03 156.14 L160.38 156.13 L160.71 156.11 L161.03 156.09 L161.33 156.06 L161.6 156.02 L161.87 155.97 L162.11 155.91 L162.34 155.83 L162.56 155.7 L162.76 155.51 L162.96 155.24 L163.14 154.84 L163.31 154.32 L163.46 153.68 L163.61 152.93 L163.76 152.12 L163.89 151.3 L164.01 150.53 L164.13 149.87 L164.24 149.37 L164.34 149.08 L164.44 149 L164.53 149.1 L164.63 149.4 L164.73 149.87 L164.84 150.48 L164.96 151.21 L165.08 151.98 L165.21 152.75 L165.35 153.48 L165.5 154.13 L165.66 154.67 L165.82 155.09 L166 155.41 L166.18 155.63 L166.38 155.79 L166.59 155.9 L166.81 155.97 L167.04 156.03 L167.29 156.08 L167.55 156.12 L167.83 156.16 L168.13 156.18 L168.44 156.21 L168.78 156.23 L169.13 156.25 L169.48 156.26 L169.83 156.28 L170.17 156.29 L170.52 156.3 L170.87 156.31 L171.22 156.31 L171.57 156.32 L171.92 156.33 L172.27 156.33 L172.62 156.34 L172.97 156.34 L173.32 156.35 L173.67 156.35 L174.02 156.36 L174.37 156.36 L174.72 156.36 L175.07 156.37 L175.42 156.37 L175.77 156.37 L176.12 156.38 L176.47 156.38 L176.82 156.38 L177.17 156.38 L177.52 156.38 L177.87 156.38 L178.22 156.38 L178.57 156.38 L178.92 156.38 L179.27 156.38 L179.62 156.38 L179.97 156.38 L180.32 156.37 L180.67 156.37 L181.02 156.36 L181.37 156.36 L181.72 156.35 L182.07 156.33 L182.41 156.32 L182.76 156.3 L183.11 156.27 L183.46 156.24 L183.8 156.2 L184.12 156.14 L184.42 156.08 L184.7 156 L184.96 155.89 L185.21 155.74 L185.44 155.51 L185.66 155.18 L185.86 154.7 L186.06 154.02 L186.24 153.14 L186.41 152.05 L186.57 150.82 L186.72 149.49 L186.86 148.17 L187 146.95 L187.12 145.93 L187.24 145.2 L187.35 144.8 L187.46 144.74 L187.56 144.97 L187.66 145.51 L187.78 146.32 L187.9 147.37 L188.03 148.56 L188.16 149.82 L188.31 151.06 L188.46 152.21 L188.62 153.21 L188.79 154.05 L188.97 154.69 L189.17 155.17 L189.37 155.5 L189.59 155.73 L189.82 155.89 L190.06 156.01 L190.32 156.1 L190.59 156.18 L190.88 156.24 L191.19 156.29 L191.51 156.33 L191.86 156.37 L192.21 156.4 L192.56 156.42 L192.91 156.44 L193.26 156.46 L193.61 156.48 L193.96 156.49 L194.31 156.51 L194.66 156.52 L195.01 156.53 L195.36 156.54 L195.71 156.54 L196.05 156.55 L196.4 156.56 L196.75 156.57 L197.1 156.57 L197.45 156.58 L197.8 156.58 L198.15 156.59 L198.5 156.6 L198.85 156.6 L199.2 156.61 L199.55 156.61 L199.9 156.62 L200.25 156.62 L200.6 156.63 L200.95 156.63 L201.3 156.63 L201.65 156.64 L202 156.64 L202.35 156.65 L202.7 156.65 L203.05 156.65 L203.4 156.66 L203.75 156.66 L204.1 156.67 L204.45 156.67 L204.8 156.67 L205.15 156.68 L205.5 156.68 L205.85 156.68 L206.2 156.69 L206.55 156.69 L206.9 156.7 L207.25 156.7 L207.6 156.7 L207.95 156.71 L208.29 156.71 L208.64 156.71 L208.99 156.72 L209.34 156.72 L209.69 156.72 L210.04 156.73 L210.39 156.73 L210.74 156.73 L211.09 156.74 L211.44 156.74 L211.79 156.74 L212.14 156.75 L212.49 156.75 L212.84 156.75 L213.19 156.76 L213.54 156.76 L213.89 156.76 L214.24 156.77 L214.59 156.77 L214.94 156.77 L215.29 156.78 L215.64 156.78 L215.99 156.78 L216.34 156.79 L216.69 156.79 L217.04 156.79 L217.39 156.79 L217.74 156.79 L218.09 156.79 L218.44 156.8 L218.79 156.8 L219.14 156.8 L219.49 156.8 L219.84 156.8 L220.19 156.8 L220.53 156.8 L220.88 156.8 L221.23 156.81 L221.58 156.81 L221.93 156.81 L222.28 156.81 L222.63 156.81 L222.98 156.81 L223.33 156.81 L223.68 156.81 L224.03 156.82 L224.38 156.82 L224.73 156.82 L225.08 156.82 L225.43 156.82 L225.78 156.82 L226.13 156.82 L226.48 156.82 L226.83 156.82 L227.18 156.83 L227.53 156.83 L227.88 156.83 L228.23 156.83 L228.58 156.83 L228.93 156.83 L229.28 156.83 L229.63 156.83 L229.98 156.83 L230.33 156.83 L230.68 156.83 L231.03 156.84 L231.38 156.84 L231.73 156.84 L232.08 156.84 L232.43 156.84 L232.77 156.84 L233.12 156.84 L233.47 156.84 L233.82 156.84 L234.17 156.84 L234.52 156.84 L234.87 156.84 L235.22 156.84 L235.57 156.84 L235.92 156.84 L236.27 156.84 L236.62 156.84 L236.97 156.84 L237.32 156.84 L237.67 156.84 L238.02 156.83 L238.37 156.83 L238.72 156.83 L239.07 156.83 L239.42 156.82 L239.77 156.82 L240.12 156.81 L240.47 156.8 L240.82 156.79 L241.16 156.78 L241.49 156.76 L241.79 156.74 L242.08 156.72 L242.35 156.69 L242.6 156.66 L242.84 156.61 L243.06 156.54 L243.27 156.44 L243.47 156.3 L243.66 156.08 L243.83 155.79 L244 155.42 L244.15 154.98 L244.3 154.48 L244.43 153.96 L244.56 153.45 L244.68 153 L244.8 152.63 L244.9 152.38 L245 152.27 L245.1 152.28 L245.19 152.4 L245.29 152.64 L245.4 152.99 L245.51 153.42 L245.63 153.89 L245.76 154.38 L245.89 154.85 L246.04 155.29 L246.19 155.66 L246.35 155.96 L246.52 156.18 L246.7 156.35 L246.89 156.46 L247.1 156.54 L247.31 156.59 L247.54 156.62 L247.78 156.65 L248.04 156.67 L248.31 156.68 L248.6 156.68 L248.9 156.68 L249.22 156.67 L249.57 156.65 L249.88 156.63 L250.17 156.59 L250.44 156.55 L250.7 156.49 L250.94 156.42 L251.17 156.32 L251.39 156.18 L251.59 155.98 L251.78 155.67 L251.96 155.23 L252.12 154.61 L252.28 153.81 L252.43 152.83 L252.57 151.71 L252.7 150.52 L252.82 149.34 L252.94 148.25 L253.05 147.34 L253.15 146.7 L253.24 146.35 L253.33 146.31 L253.42 146.53 L253.52 147.02 L253.61 147.77 L253.72 148.72 L253.83 149.79 L253.95 150.92 L254.08 152.03 L254.21 153.06 L254.35 153.95 L254.5 154.69 L254.66 155.26 L254.82 155.68 L255 155.97 L255.19 156.18 L255.39 156.32 L255.6 156.42 L255.83 156.49 L256.06 156.56 L256.32 156.61 L256.58 156.65 L256.87 156.68 L257.17 156.71 L257.49 156.73 L257.82 156.75 L258.17 156.76 L258.52 156.77 L258.87 156.77 L259.22 156.76 L259.57 156.76 L259.92 156.74 L260.25 156.72 L260.55 156.69 L260.84 156.65 L261.11 156.6 L261.37 156.52 L261.61 156.4 L261.84 156.22 L262.05 155.97 L262.25 155.61 L262.43 155.16 L262.61 154.62 L262.78 154.02 L262.93 153.38 L263.08 152.77 L263.21 152.22 L263.34 151.78 L263.47 151.48 L263.58 151.35 L263.69 151.37 L263.8 151.53 L263.91 151.83 L264.03 152.26 L264.16 152.78 L264.3 153.37 L264.45 153.96 L264.6 154.54 L264.77 155.07 L264.94 155.52 L265.12 155.88 L265.32 156.16 L265.52 156.36 L265.74 156.5 L265.98 156.6 L266.22 156.67 L266.48 156.72 L266.76 156.76 L267.05 156.79 L267.36 156.82 L267.69 156.85 L268.04 156.87 L268.39 156.88 L268.74 156.9 L269.09 156.91 L269.44 156.92 L269.79 156.92 L270.14 156.93 L270.49 156.94 L270.84 156.94 L271.19 156.95 L271.54 156.95 L271.89 156.96 L272.24 156.96 L272.59 156.97 L272.94 156.97 L273.29 156.97 L273.64 156.98 L273.99 156.98 L274.34 156.98 L274.69 156.98 L275.04 156.99 L275.39 156.99 L275.74 156.99 L276.09 156.99 L276.44 157 L276.79 157 L277.14 157 L277.49 157 L277.84 157 L278.19 157 L278.54 157.01 L278.89 157.01 L279.23 157.01 L279.58 157.01 L279.93 157.01 L280.28 157.01 L280.63 157.02 L280.98 157.02 L281.33 157.02 L281.68 157.02 L282.03 157.02 L282.38 157.02 L282.73 157.02 L283.08 157.02 L283.43 157.02 L283.78 157.03 L284.13 157.03 L284.48 157.03 L284.83 157.03 L285.18 157.03 L285.53 157.03 L285.88 157.03 L286.23 157.03 L286.58 157.03 L286.93 157.03 L287.28 157.03 L287.63 157.03 L287.98 157.03 L288.33 157.02 L288.68 157.02 L289.03 157.02 L289.38 157.01 L289.73 157.01 L290.08 157 L290.42 156.99 L290.74 156.97 L291.04 156.95 L291.33 156.92 L291.6 156.88 L291.85 156.81 L292.09 156.71 L292.31 156.58 L292.52 156.42 L292.71 156.22 L292.9 156 L293.07 155.78 L293.24 155.56 L293.39 155.37 L293.53 155.22 L293.67 155.12 L293.8 155.08 L293.92 155.09 L294.04 155.15 L294.17 155.27 L294.31 155.43 L294.46 155.62 L294.61 155.83 L294.78 156.04 L294.95 156.24 L295.14 156.43 L295.33 156.59 L295.54 156.71 L295.76 156.81 L296 156.88 L296.25 156.93 L296.51 156.96 L296.79 156.98 L297.08 157 L297.4 157.02 L297.73 157.03 L298.08 157.04 L298.43 157.05 L298.78 157.05 L299.13 157.06 L299.48 157.07 L299.83 157.07 L300.18 157.07 L300.53 157.08 L300.88 157.08 L301.23 157.08 L301.58 157.09 L301.93 157.09 L302.28 157.09 L302.63 157.09 L302.98 157.09 L303.33 157.09 L303.68 157.1 L304.03 157.1 L304.38 157.1 L304.73 157.1 L305.07 157.1 L305.42 157.1 L305.77 157.1 L306.12 157.1 L306.47 157.1 L306.82 157.1 L307.17 157.1 L307.52 157.1 L307.87 157.09 L308.22 157.09 L308.55 157.08 L308.87 157.08 L309.16 157.07 L309.44 157.06 L309.7 157.04 L309.94 157.02 L310.17 156.98 L310.38 156.93 L310.59 156.86 L310.78 156.77 L310.96 156.66 L311.12 156.53 L311.28 156.39 L311.43 156.26 L311.57 156.13 L311.7 156.03 L311.83 155.96 L311.94 155.92 L312.05 155.91 L312.16 155.94 L312.27 155.99 L312.39 156.07 L312.52 156.18 L312.66 156.3 L312.8 156.42 L312.95 156.54 L313.11 156.65 L313.28 156.74 L313.46 156.81 L313.66 156.86 L313.86 156.87 L314.08 156.85 L314.28 156.8 L314.47 156.72 L314.65 156.61 L314.82 156.48 L314.98 156.34 L315.13 156.2 L315.27 156.07 L315.4 155.96 L315.53 155.88 L315.64 155.84 L315.75 155.83 L315.86 155.86 L315.97 155.92 L316.09 156.01 L316.22 156.12 L316.36 156.26 L316.5 156.4 L316.65 156.53 L316.81 156.66 L316.98 156.78 L317.16 156.87 L317.35 156.94 L317.55 157 L317.77 157.04 L317.99 157.07 L318.24 157.09 L318.49 157.1 L318.76 157.11 L319.05 157.12 L319.35 157.13 L319.68 157.14 L320.02 157.14 L320.37 157.15 L320.72 157.15 L321.07 157.16 L321.42 157.16 L321.77 157.16 L322.12 157.17 L322.46 157.17 L322.81 157.17 L323.16 157.18 L323.51 157.18 L323.86 157.18 L324.21 157.18 L324.56 157.18 L324.91 157.19 L325.26 157.19 L325.61 157.19 L325.96 157.19" fill="none" stroke="#4a0000" stroke-width="0.7" stroke-linejoin="round"/>
<line x1="45.3" y1="161.9" x2="45.3" y2="168.1" stroke="#d040d0" stroke-width="1.1"/>
<line x1="115" y1="161.9" x2="115" y2="168.1" stroke="#d040d0" stroke-width="1.1"/>
<line x1="130.2" y1="161.9" x2="130.2" y2="168.1" stroke="#d040d0" stroke-width="1.1"/>
<line x1="134.5" y1="161.9" x2="134.5" y2="168.1" stroke="#d040d0" stroke-width="1.1"/>
<line x1="146.3" y1="161.9" x2="146.3" y2="168.1" stroke="#d040d0" stroke-width="1.1"/>
<line x1="163.9" y1="161.9" x2="163.9" y2="168.1" stroke="#d040d0" stroke-width="1.1"/>
<line x1="186.6" y1="161.9" x2="186.6" y2="168.1" stroke="#d040d0" stroke-width="1.1"/>
<line x1="187.8" y1="161.9" x2="187.8" y2="168.1" stroke="#d040d0" stroke-width="1.1"/>
<line x1="213.9" y1="161.9" x2="213.9" y2="168.1" stroke="#d040d0" stroke-width="1.1"/>
<line x1="244.8" y1="161.9" x2="244.8" y2="168.1" stroke="#d040d0" stroke-width="1.1"/>
<line x1="253.1" y1="161.9" x2="253.1" y2="168.1" stroke="#d040d0" stroke-width="1.1"/>
<line x1="263.1" y1="161.9" x2="263.1" y2="168.1" stroke="#d040d0" stroke-width="1.1"/>
<line x1="266.4" y1="161.9" x2="266.4" y2="168.1" stroke="#d040d0" stroke-width="1.1"/>
<line x1="278" y1="161.9" x2="278" y2="168.1" stroke="#d040d0" stroke-width="1.1"/>
<line x1="293.2" y1="161.9" x2="293.2" y2="168.1" stroke="#d040d0" stroke-width="1.1"/>
<line x1="301.7" y1="161.9" x2="301.7" y2="168.1" stroke="#d040d0" stroke-width="1.1"/>
<line x1="303.3" y1="161.9" x2="303.3" y2="168.1" stroke="#d040d0" stroke-width="1.1"/>
<line x1="305.3" y1="161.9" x2="305.3" y2="168.1" stroke="#d040d0" stroke-width="1.1"/>
<line x1="311.6" y1="161.9" x2="311.6" y2="168.1" stroke="#d040d0" stroke-width="1.1"/>
<line x1="315.4" y1="161.9" x2="315.4" y2="168.1" stroke="#d040d0" stroke-width="1.1"/>
<line x1="323.6" y1="161.9" x2="323.6" y2="168.1" stroke="#d040d0" stroke-width="1.1"/>
</g>
<path d="M20 189.05 L20.52 189.34 L21.05 189.31 L21.57 189.1 L22.1 189.2 L22.62 189.18 L23.15 189.26 L23.67 189.32 L24.2 189.04 L24.72 189.01 L25.25 189.33 L25.77 189.17 L26.29 189.3 L26.82 189 L27.34 189.18 L27.87 189.29 L28.39 189.09 L28.92 189.38 L29.44 189.36 L29.97 189.01 L30.49 189.01 L31.02 189.22 L31.54 189.38 L32.07 189.15 L32.59 189.09 L33.11 189.17 L33.64 189.01 L34.16 189.09 L34.69 189.18 L35.21 189.2 L35.74 189.09 L36.26 189.09 L36.79 189.09 L37.31 189.18 L37.84 189.12 L38.36 189.01 L38.88 189.34 L39.41 189.22 L39.93 189.26 L40.46 189.07 L40.98 189.4 L41.51 189.34 L42.03 189.03 L42.56 188.98 L43.08 188.45 L43.61 187.1 L44.13 186.6 L44.65 187.46 L45.18 189.94 L45.7 192.67 L46.23 189.23 L46.75 189.23 L47.28 189.35 L47.8 189.34 L48.33 189.2 L48.85 189.24 L49.38 189.01 L49.9 189.1 L50.43 189.32 L50.95 189.17 L51.47 189.07 L52 189.22 L52.52 189.28 L53.05 189.27 L53.57 189.15 L54.1 189.18 L54.62 189.2 L55.15 189.31 L55.67 189.21 L56.2 189.16 L56.72 189.2 L57.24 189.01 L57.77 189.02 L58.29 189.28 L58.82 189.39 L59.34 189.24 L59.87 189.16 L60.39 189.07 L60.92 189.2 L61.44 189.39 L61.97 189.31 L62.49 189.22 L63.01 189.34 L63.54 189.09 L64.06 189.21 L64.59 189.38 L65.11 189.23 L65.64 189.18 L66.16 189.11 L66.69 189.22 L67.21 189.38 L67.74 189 L68.26 189.31 L68.79 189.33 L69.31 189.35 L69.83 189.3 L70.36 189.32 L70.88 189.21 L71.41 189.22 L71.93 189.17 L72.46 189.02 L72.98 189.35 L73.51 189.23 L74.03 189.08 L74.56 189.2 L75.08 189.19 L75.6 189.14 L76.13 189.14 L76.65 189.22 L77.18 189.25 L77.7 189.24 L78.23 189.18 L78.75 189.01 L79.28 189.09 L79.8 189.07 L80.33 189.23 L80.85 189.34 L81.37 189.32 L81.9 189.32 L82.42 189.33 L82.95 189.1 L83.47 189.34 L84 189.27 L84.52 189.03 L85.05 189.01 L85.57 189.01 L86.1 189.3 L86.62 189.1 L87.15 189.04 L87.67 189.25 L88.19 189.14 L88.72 189.03 L89.24 189.06 L89.77 189.21 L90.29 189.07 L90.82 189.11 L91.34 189.28 L91.87 189.18 L92.39 189.13 L92.92 189.19 L93.44 189.01 L93.96 189.15 L94.49 189.17 L95.01 189.08 L95.54 189.04 L96.06 189.36 L96.59 189.2 L97.11 189.08 L97.64 189.24 L98.16 189.33 L98.69 189.01 L99.21 189.01 L99.73 189.06 L100.26 189.29 L100.78 189.06 L101.31 189.28 L101.83 189.27 L102.36 189.22 L102.88 189.09 L103.41 189.39 L103.93 189.32 L104.46 189.21 L104.98 189.09 L105.51 189.26 L106.03 189.16 L106.55 189.23 L107.08 189.13 L107.6 189.25 L108.13 189.02 L108.65 189.12 L109.18 189.39 L109.7 189.35 L110.23 189.12 L110.75 189.34 L111.28 189.12 L111.8 189.38 L112.32 189.3 L112.85 189.17 L113.37 189.1 L113.9 189 L114.42 189.33 L114.95 188.49 L115.47 188.48 L116 189.31 L116.52 189.23 L117.05 189.07 L117.57 189.35 L118.09 189.39 L118.62 189.28 L119.14 189.2 L119.67 189.15 L120.19 189.14 L120.72 189.08 L121.24 189.27 L121.77 189.17 L122.29 189.08 L122.82 189.04 L123.34 189.27 L123.87 189.12 L124.39 189.2 L124.91 189.13 L125.44 189.35 L125.96 189.36 L126.49 189.01 L127.01 189.08 L127.54 189.13 L128.06 189.39 L128.59 189.31 L129.11 189.14 L129.64 189.09 L130.16 189.3 L130.68 190.13 L131.21 190.65 L131.73 189.25 L132.26 189.35 L132.78 189.27 L133.31 189.19 L133.83 189.39 L134.36 189.09 L134.88 189.29 L135.41 189.03 L135.93 189.07 L136.45 189.36 L136.98 189.09 L137.5 189.3 L138.03 189.24 L138.55 189.34 L139.08 189.15 L139.6 189.14 L140.13 189.12 L140.65 189.35 L141.18 189.24 L141.7 189.38 L142.23 189.35 L142.75 189.05 L143.27 189.22 L143.8 189.04 L144.32 189.02 L144.85 189.03 L145.37 189.34 L145.9 188.95 L146.42 188.37 L146.95 189 L147.47 189.24 L148 189.31 L148.52 189.15 L149.04 189.23 L149.57 189.09 L150.09 189.03 L150.62 189.11 L151.14 189.36 L151.67 189.23 L152.19 189.37 L152.72 189.18 L153.24 189.11 L153.77 189.31 L154.29 189.33 L154.81 189 L155.34 189.27 L155.86 189.04 L156.39 189.05 L156.91 189.35 L157.44 189.02 L157.96 189.1 L158.49 189.4 L159.01 189.17 L159.54 189.05 L160.06 189.07 L160.59 189.1 L161.11 189.3 L161.63 189.04 L162.16 189.36 L162.68 189.15 L163.21 189.39 L163.73 189.36 L164.26 189.12 L164.78 189.1 L165.31 189.19 L165.83 189.04 L166.36 189.26 L166.88 189.02 L167.4 189 L167.93 189.39 L168.45 189.12 L168.98 189.24 L169.5 189.18 L170.03 189.13 L170.55 189.03 L171.08 189.37 L171.6 189.39 L172.13 189.39 L172.65 189.04 L173.17 189.09 L173.7 189.25 L174.22 189.39 L174.75 189.22 L175.27 189.28 L175.8 189.26 L176.32 189.1 L176.85 189.22 L177.37 189.12 L177.9 189.1 L178.42 189.03 L178.95 189.11 L179.47 189.39 L179.99 189.18 L180.52 189.26 L181.04 189.26 L181.57 189.38 L182.09 189.16 L182.62 189.12 L183.14 189.13 L183.67 189.13 L184.19 189.34 L184.72 189.36 L185.24 189.12 L185.76 189.13 L186.29 189.22 L186.81 189.09 L187.34 188.28 L187.86 188.73 L188.39 189 L188.91 189.1 L189.44 189.03 L189.96 189.22 L190.49 189.03 L191.01 189.03 L191.53 189.25 L192.06 189.12 L192.58 189.32 L193.11 189.2 L193.63 189.35 L194.16 189.06 L194.68 189.2 L195.21 189.32 L195.73 189.03 L196.26 189.38 L196.78 189.07 L197.31 189.31 L197.83 189.39 L198.35 189.33 L198.88 189.13 L199.4 189.04 L199.93 189.21 L200.45 189.37 L200.98 189.12 L201.5 189.36 L202.03 189.06 L202.55 189.36 L203.08 189.01 L203.6 189.13 L204.12 189.36 L204.65 189.32 L205.17 189.36 L205.7 189.34 L206.22 189.3 L206.75 189.28 L207.27 189.07 L207.8 189.17 L208.32 189.06 L208.85 189.29 L209.37 189.27 L209.89 189.1 L210.42 189.03 L210.94 189.39 L211.47 189.32 L211.99 189.22 L212.52 189.22 L213.04 189.34 L213.57 189.18 L214.09 189.16 L214.62 189.14 L215.14 189.1 L215.67 189.01 L216.19 189.26 L216.71 189.17 L217.24 189.23 L217.76 189.02 L218.29 189.14 L218.81 189.06 L219.34 189.05 L219.86 189.1 L220.39 189.33 L220.91 189.16 L221.44 189.16 L221.96 189.24 L222.48 189.09 L223.01 189 L223.53 189.21 L224.06 189.2 L224.58 189.26 L225.11 189.18 L225.63 189.27 L226.16 189.29 L226.68 189.1 L227.21 189.2 L227.73 189.19 L228.25 189.09 L228.78 189.16 L229.3 189.22 L229.83 189.36 L230.35 189.37 L230.88 189.11 L231.4 189.26 L231.93 189.02 L232.45 189.03 L232.98 189.2 L233.5 189.35 L234.03 189.06 L234.55 189.31 L235.07 189.35 L235.6 189.12 L236.12 189.28 L236.65 189.34 L237.17 189.15 L237.7 189.28 L238.22 189.29 L238.75 189.24 L239.27 189.34 L239.8 189.36 L240.32 189.38 L240.84 189.23 L241.37 189.07 L241.89 189.1 L242.42 189.09 L242.94 189.23 L243.47 189.3 L243.99 189.02 L244.52 189.27 L245.04 189.29 L245.57 189.14 L246.09 189.21 L246.61 189.07 L247.14 189.29 L247.66 189.02 L248.19 189.39 L248.71 189.32 L249.24 189.25 L249.76 189.11 L250.29 189.37 L250.81 189.38 L251.34 189.06 L251.86 189.31 L252.39 189.33 L252.91 189.03 L253.43 188.28 L253.96 188.94 L254.48 189.37 L255.01 189.39 L255.53 189.15 L256.06 189.32 L256.58 189.17 L257.11 189.07 L257.63 189.13 L258.16 189.05 L258.68 189.36 L259.2 189.38 L259.73 189.05 L260.25 189.24 L260.78 189.16 L261.3 189.05 L261.83 189.12 L262.35 189.1 L262.88 189.3 L263.4 189 L263.93 189.08 L264.45 189.18 L264.97 189.01 L265.5 189.25 L266.02 189.24 L266.55 189.33 L267.07 189.08 L267.6 189.11 L268.12 189.22 L268.65 189.11 L269.17 189.23 L269.7 189.1 L270.22 189.27 L270.75 189.32 L271.27 189.32 L271.79 189.39 L272.32 189.22 L272.84 189.2 L273.37 189.34 L273.89 189.31 L274.42 189.23 L274.94 189.15 L275.47 189.11 L275.99 189.04 L276.52 189.32 L277.04 189.05 L277.56 189.3 L278.09 189.22 L278.61 189.39 L279.14 189.3 L279.66 189.39 L280.19 189.05 L280.71 189.2 L281.24 189.23 L281.76 189.12 L282.29 189.2 L282.81 189.14 L283.33 189.21 L283.86 189 L284.38 189.18 L284.91 189.18 L285.43 189.12 L285.96 189.16 L286.48 189.31 L287.01 189.27 L287.53 189.2 L288.06 189.26 L288.58 189.15 L289.11 189.08 L289.63 189 L290.15 189.11 L290.68 189.24 L291.2 189.35 L291.73 189.33 L292.25 189.2 L292.78 189.39 L293.3 189.18 L293.83 189.33 L294.35 189.16 L294.88 189.3 L295.4 189.4 L295.92 189.12 L296.45 189.07 L296.97 189.25 L297.5 189.21 L298.02 189.14 L298.55 189 L299.07 189.16 L299.6 189.17 L300.12 189.16 L300.65 189.34 L301.17 189.23 L301.69 189.29 L302.22 189.36 L302.74 189.3 L303.27 189.2 L303.79 189.3 L304.32 189.26 L304.84 189.26 L305.37 189.25 L305.89 189.16 L306.42 189.25 L306.94 189.25 L307.47 189.37 L307.99 189.31 L308.51 189.34 L309.04 189.31 L309.56 189.33 L310.09 189.24 L310.61 189.14 L311.14 189.11 L311.66 189.28 L312.19 189.35 L312.71 189.22 L313.24 189.06 L313.76 189.33 L314.28 189.19 L314.81 189.19 L315.33 189.02 L315.86 189.2 L316.38 189.3 L316.91 189.17 L317.43 189.14 L317.96 189.26 L318.48 189.01 L319.01 189.2 L319.53 189.38 L320.05 189.28 L320.58 189.16 L321.1 189.28 L321.63 189.24 L322.15 189.08 L322.68 189.08 L323.2 189.35 L323.73 189.11 L324.25 189.03 L324.78 189.33 L325.3 189.21 L325.83 189.15" fill="none" stroke="#4a4ad8" stroke-width="1.1" stroke-linejoin="round"/>
<line x1="45.4" y1="163" x2="45.4" y2="185.5" stroke="#9c9cf0" stroke-width="0.8"/>
<line x1="45.4" y1="185" x2="45.4" y2="199" stroke="#3030c8" stroke-width="1.1"/>
<rect x="20" y="13.4" width="306" height="195.4" fill="none" stroke="#4a4a4a" stroke-width="1.1"/>
<line x1="20" y1="208.8" x2="20" y2="212" stroke="#4a4a4a" stroke-width="1"/>
<text x="20.3" y="226.4" text-anchor="middle" class="tk">10</text>
<line x1="41.86" y1="208.8" x2="41.86" y2="210.6" stroke="#4a4a4a" stroke-width="1"/>
<line x1="63.71" y1="208.8" x2="63.71" y2="212" stroke="#4a4a4a" stroke-width="1"/>
<text x="64.01" y="226.4" text-anchor="middle" class="tk">20</text>
<line x1="85.57" y1="208.8" x2="85.57" y2="210.6" stroke="#4a4a4a" stroke-width="1"/>
<line x1="107.43" y1="208.8" x2="107.43" y2="212" stroke="#4a4a4a" stroke-width="1"/>
<text x="107.73" y="226.4" text-anchor="middle" class="tk">30</text>
<line x1="129.29" y1="208.8" x2="129.29" y2="210.6" stroke="#4a4a4a" stroke-width="1"/>
<line x1="151.14" y1="208.8" x2="151.14" y2="212" stroke="#4a4a4a" stroke-width="1"/>
<text x="151.44" y="226.4" text-anchor="middle" class="tk">40</text>
<line x1="173" y1="208.8" x2="173" y2="210.6" stroke="#4a4a4a" stroke-width="1"/>
<line x1="194.86" y1="208.8" x2="194.86" y2="212" stroke="#4a4a4a" stroke-width="1"/>
<text x="195.16" y="226.4" text-anchor="middle" class="tk">50</text>
<line x1="216.71" y1="208.8" x2="216.71" y2="210.6" stroke="#4a4a4a" stroke-width="1"/>
<line x1="238.57" y1="208.8" x2="238.57" y2="212" stroke="#4a4a4a" stroke-width="1"/>
<text x="238.87" y="226.4" text-anchor="middle" class="tk">60</text>
<line x1="260.43" y1="208.8" x2="260.43" y2="210.6" stroke="#4a4a4a" stroke-width="1"/>
<line x1="282.29" y1="208.8" x2="282.29" y2="212" stroke="#4a4a4a" stroke-width="1"/>
<text x="282.59" y="226.4" text-anchor="middle" class="tk">70</text>
<line x1="304.14" y1="208.8" x2="304.14" y2="210.6" stroke="#4a4a4a" stroke-width="1"/>
<line x1="326" y1="208.8" x2="326" y2="212" stroke="#4a4a4a" stroke-width="1"/>
<text x="326.3" y="226.4" text-anchor="middle" class="tk">80</text>
<line x1="224" y1="36.6" x2="244" y2="36.6" stroke="#555555" stroke-width="0.9"/>
<circle cx="234.5" cy="47.9" r="1.4" fill="none" stroke="#e07a7a" stroke-width="0.9"/>
<line x1="234.5" y1="57.5" x2="234.5" y2="62.7" stroke="#e060e0" stroke-width="1"/>
<line x1="224" y1="72.2" x2="244" y2="72.2" stroke="#6060e0" stroke-width="0.9"/>
<text x="249.5" y="38.8" class="lg">Observed</text>
<text x="249.5" y="50.8" class="lg">Calculated</text>
<text x="249.5" y="62.8" class="lg">Bragg position</text>
<text x="249.5" y="74.8" class="lg">Difference</text>
<text transform="translate(9.7 109.1) rotate(-90)" text-anchor="middle" class="yl" textLength="85" lengthAdjust="spacingAndGlyphs">Intensity (a. u.)</text>
<text x="174.5" y="247.6" class="xl" text-anchor="middle">2<tspan font-style="italic">&#952;</tspan> (&#176;)</text>
<clipPath id="clp370"><rect x="371.2" y="13.1" width="305.6" height="196"/></clipPath>
<g clip-path="url(#clp370)">
<path d="M370.7 157.13 L371.05 157.15 L371.4 157.16 L371.75 157.17 L372.1 157.19 L372.45 157.2 L372.8 157.21 L373.15 157.22 L373.5 157.24 L373.85 157.25 L374.2 157.26 L374.55 157.27 L374.9 157.29 L375.26 157.3 L375.61 157.31 L375.96 157.32 L376.31 157.33 L376.66 157.34 L377.01 157.35 L377.36 157.37 L377.71 157.38 L378.06 157.39 L378.41 157.4 L378.76 157.41 L379.11 157.42 L379.46 157.42 L379.81 157.43 L380.16 157.44 L380.51 157.45 L380.86 157.46 L381.21 157.46 L381.56 157.47 L381.91 157.47 L382.26 157.48 L382.61 157.48 L382.96 157.48 L383.31 157.48 L383.66 157.48 L384.02 157.48 L384.37 157.48 L384.72 157.48 L385.07 157.47 L385.42 157.46 L385.77 157.45 L386.12 157.44 L386.47 157.42 L386.82 157.4 L387.17 157.38 L387.52 157.35 L387.87 157.32 L388.22 157.27 L388.57 157.23 L388.92 157.17 L389.27 157.1 L389.62 157.01 L389.97 156.91 L390.32 156.79 L390.67 156.64 L391.02 156.45 L391.37 156.22 L391.72 155.93 L392.07 155.57 L392.4 155.13 L392.7 154.6 L392.99 153.96 L393.26 153.18 L393.52 152.23 L393.76 151.05 L393.98 149.58 L394.19 147.67 L394.39 145.13 L394.58 141.65 L394.75 136.89 L394.92 130.51 L395.07 122.3 L395.22 112.22 L395.36 100.45 L395.49 87.44 L395.61 73.89 L395.72 60.78 L395.83 49.26 L395.93 40.49 L396.02 35.27 L396.11 33.82 L396.2 35.77 L396.29 41.08 L396.38 49.5 L396.48 60.34 L396.59 72.64 L396.7 85.42 L396.82 97.83 L396.95 109.26 L397.08 119.27 L397.23 127.65 L397.38 134.37 L397.54 139.56 L397.71 143.45 L397.89 146.34 L398.08 148.51 L398.28 150.19 L398.5 151.52 L398.73 152.6 L398.97 153.5 L399.22 154.25 L399.5 154.88 L399.78 155.41 L400.09 155.86 L400.41 156.24 L400.75 156.56 L401.1 156.84 L401.46 157.06 L401.81 157.25 L402.16 157.41 L402.51 157.54 L402.86 157.66 L403.21 157.77 L403.56 157.86 L403.91 157.94 L404.26 158.01 L404.61 158.08 L404.96 158.14 L405.31 158.19 L405.66 158.25 L406.01 158.29 L406.36 158.34 L406.71 158.38 L407.06 158.42 L407.41 158.45 L407.76 158.49 L408.11 158.52 L408.46 158.55 L408.81 158.58 L409.16 158.61 L409.51 158.64 L409.86 158.67 L410.22 158.69 L410.57 158.72 L410.92 158.74 L411.27 158.77 L411.62 158.79 L411.97 158.82 L412.32 158.84 L412.67 158.86 L413.02 158.88 L413.37 158.9 L413.72 158.92 L414.07 158.94 L414.42 158.96 L414.77 158.98 L415.12 159 L415.47 159.02 L415.82 159.03 L416.17 159.05 L416.52 159.07 L416.87 159.08 L417.22 159.1 L417.57 159.12 L417.92 159.13 L418.27 159.15 L418.62 159.16 L418.98 159.18 L419.33 159.19 L419.68 159.21 L420.03 159.22 L420.38 159.24 L420.73 159.25 L421.08 159.27 L421.43 159.28 L421.78 159.3 L422.13 159.31 L422.48 159.33 L422.83 159.34 L423.18 159.36 L423.53 159.37 L423.88 159.39 L424.23 159.4 L424.58 159.41 L424.93 159.43 L425.28 159.44 L425.63 159.46 L425.98 159.47 L426.33 159.48 L426.68 159.5 L427.03 159.51 L427.38 159.53 L427.74 159.54 L428.09 159.55 L428.44 159.57 L428.79 159.58 L429.14 159.6 L429.49 159.61 L429.84 159.62 L430.19 159.64 L430.54 159.65 L430.89 159.66 L431.24 159.68 L431.59 159.69 L431.94 159.7 L432.29 159.72 L432.64 159.73 L432.99 159.74 L433.34 159.76 L433.69 159.77 L434.04 159.79 L434.39 159.8 L434.74 159.81 L435.09 159.83 L435.44 159.84 L435.79 159.85 L436.14 159.87 L436.5 159.88 L436.85 159.89 L437.2 159.9 L437.55 159.92 L437.9 159.93 L438.25 159.94 L438.6 159.96 L438.95 159.97 L439.3 159.98 L439.65 160 L440 160.01 L440.35 160.02 L440.7 160.04 L441.05 160.05 L441.4 160.06 L441.75 160.08 L442.1 160.09 L442.45 160.1 L442.8 160.11 L443.15 160.13 L443.5 160.14 L443.85 160.15 L444.2 160.17 L444.55 160.18 L444.9 160.19 L445.26 160.21 L445.61 160.22 L445.96 160.23 L446.31 160.24 L446.66 160.26 L447.01 160.27 L447.36 160.28 L447.71 160.29 L448.06 160.31 L448.41 160.32 L448.76 160.33 L449.11 160.35 L449.46 160.36 L449.81 160.36 L450.16 160.37 L450.51 160.37 L450.86 160.37 L451.21 160.38 L451.56 160.38 L451.91 160.39 L452.26 160.4 L452.61 160.41 L452.96 160.41 L453.31 160.41 L453.66 160.41 L454.02 160.42 L454.37 160.42 L454.72 160.42 L455.07 160.43 L455.42 160.43 L455.77 160.43 L456.12 160.43 L456.47 160.43 L456.82 160.43 L457.17 160.44 L457.52 160.44 L457.87 160.44 L458.22 160.44 L458.57 160.44 L458.92 160.44 L459.27 160.43 L459.62 160.43 L459.97 160.43 L460.32 160.42 L460.67 160.41 L461.02 160.4 L461.37 160.39 L461.72 160.37 L462.07 160.35 L462.42 160.32 L462.76 160.29 L463.07 160.23 L463.36 160.16 L463.63 160.05 L463.89 159.89 L464.13 159.66 L464.36 159.33 L464.58 158.9 L464.78 158.38 L464.97 157.79 L465.15 157.16 L465.31 156.54 L465.47 155.97 L465.62 155.49 L465.76 155.16 L465.89 154.99 L466.01 154.97 L466.13 155.09 L466.26 155.36 L466.4 155.76 L466.54 156.26 L466.69 156.83 L466.86 157.43 L467.03 158.02 L467.21 158.56 L467.4 159.03 L467.61 159.42 L467.82 159.72 L468.05 159.94 L468.3 160.09 L468.55 160.2 L468.83 160.27 L469.12 160.33 L469.43 160.37 L469.75 160.41 L470.1 160.43 L470.45 160.46 L470.8 160.48 L471.15 160.49 L471.5 160.5 L471.85 160.51 L472.2 160.52 L472.55 160.53 L472.9 160.54 L473.25 160.54 L473.6 160.54 L473.95 160.54 L474.3 160.55 L474.65 160.55 L475 160.54 L475.35 160.54 L475.7 160.54 L476.05 160.53 L476.4 160.52 L476.75 160.51 L477.1 160.5 L477.46 160.49 L477.81 160.47 L478.16 160.44 L478.51 160.41 L478.86 160.38 L479.21 160.33 L479.56 160.26 L479.88 160.17 L480.19 160.03 L480.48 159.84 L480.75 159.56 L481.01 159.16 L481.25 158.65 L481.48 158.02 L481.69 157.3 L481.89 156.53 L482.08 155.76 L482.25 155.03 L482.42 154.42 L482.57 153.98 L482.72 153.72 L482.86 153.66 L482.99 153.77 L483.13 154.04 L483.28 154.49 L483.44 155.06 L483.61 155.71 L483.79 156.4 L483.98 157.07 L484.18 157.68 L484.39 158.19 L484.62 158.58 L484.85 158.82 L485.11 158.9 L485.37 158.8 L485.71 158.43 L486.02 157.84 L486.32 157.05 L486.59 156.12 L486.85 155.1 L487.1 154.07 L487.33 153.11 L487.54 152.3 L487.75 151.7 L487.94 151.37 L488.12 151.3 L488.29 151.48 L488.47 151.89 L488.67 152.53 L488.87 153.35 L489.09 154.3 L489.32 155.31 L489.57 156.31 L489.83 157.24 L490.1 158.06 L490.4 158.75 L490.71 159.29 L491.03 159.68 L491.38 159.97 L491.73 160.16 L492.08 160.29 L492.43 160.38 L492.78 160.45 L493.13 160.51 L493.48 160.55 L493.83 160.59 L494.18 160.63 L494.54 160.66 L494.89 160.68 L495.24 160.71 L495.59 160.73 L495.94 160.74 L496.29 160.76 L496.64 160.78 L496.99 160.79 L497.34 160.8 L497.69 160.81 L498.04 160.82 L498.39 160.83 L498.74 160.84 L499.09 160.84 L499.44 160.85 L499.79 160.86 L500.14 160.86 L500.49 160.87 L500.84 160.87 L501.19 160.87 L501.54 160.87 L501.89 160.87 L502.24 160.87 L502.59 160.87 L502.94 160.86 L503.3 160.85 L503.65 160.84 L504 160.82 L504.35 160.78 L504.68 160.72 L505 160.63 L505.3 160.52 L505.58 160.36 L505.85 160.18 L506.09 159.98 L506.33 159.76 L506.55 159.55 L506.75 159.37 L506.95 159.22 L507.13 159.12 L507.3 159.08 L507.46 159.09 L507.63 159.14 L507.8 159.25 L507.98 159.4 L508.18 159.57 L508.39 159.77 L508.61 159.97 L508.84 160.17 L509.09 160.34 L509.35 160.5 L509.62 160.62 L509.92 160.71 L510.23 160.77 L510.56 160.82 L510.91 160.84 L511.26 160.86 L511.61 160.87 L511.96 160.87 L512.31 160.87 L512.66 160.87 L513.01 160.86 L513.36 160.85 L513.71 160.84 L514.06 160.82 L514.41 160.8 L514.76 160.77 L515.11 160.73 L515.46 160.69 L515.81 160.63 L516.17 160.56 L516.52 160.45 L516.87 160.31 L517.22 160.11 L517.57 159.83 L517.92 159.45 L518.27 158.93 L518.62 158.26 L518.97 157.42 L519.32 156.43 L519.65 155.37 L519.97 154.34 L520.26 153.4 L520.54 152.64 L520.8 152.12 L521.04 151.87 L521.27 151.87 L521.5 152.12 L521.75 152.6 L522.01 153.3 L522.28 154.17 L522.57 155.14 L522.88 156.15 L523.21 157.13 L523.55 158.02 L523.9 158.77 L524.25 159.35 L524.61 159.8 L524.96 160.13 L525.31 160.37 L525.66 160.54 L526.01 160.67 L526.36 160.77 L526.71 160.85 L527.06 160.91 L527.41 160.96 L527.76 161 L528.11 161.04 L528.46 161.08 L528.81 161.11 L529.16 161.13 L529.51 161.16 L529.86 161.18 L530.21 161.2 L530.56 161.22 L530.91 161.24 L531.26 161.26 L531.61 161.28 L531.96 161.29 L532.31 161.31 L532.66 161.32 L533.01 161.33 L533.37 161.35 L533.72 161.36 L534.07 161.37 L534.42 161.38 L534.77 161.39 L535.12 161.4 L535.47 161.41 L535.82 161.42 L536.17 161.43 L536.52 161.44 L536.87 161.45 L537.22 161.46 L537.57 161.47 L537.92 161.48 L538.27 161.48 L538.62 161.49 L538.97 161.5 L539.32 161.51 L539.67 161.52 L540.02 161.52 L540.37 161.53 L540.72 161.54 L541.07 161.55 L541.42 161.55 L541.77 161.56 L542.13 161.57 L542.48 161.58 L542.83 161.58 L543.18 161.59 L543.53 161.6 L543.88 161.6 L544.23 161.61 L544.58 161.61 L544.93 161.62 L545.28 161.63 L545.63 161.63 L545.98 161.64 L546.33 161.64 L546.68 161.65 L547.03 161.65 L547.38 161.66 L547.73 161.66 L548.08 161.66 L548.43 161.67 L548.78 161.67 L549.13 161.67 L549.48 161.67 L549.83 161.67 L550.18 161.66 L550.53 161.66 L550.89 161.65 L551.24 161.63 L551.59 161.61 L551.93 161.57 L552.25 161.51 L552.55 161.41 L552.84 161.28 L553.1 161.1 L553.35 160.87 L553.59 160.61 L553.81 160.33 L554.02 160.04 L554.22 159.77 L554.4 159.53 L554.57 159.36 L554.74 159.26 L554.89 159.23 L555.04 159.27 L555.19 159.37 L555.35 159.54 L555.53 159.77 L555.71 160.03 L555.9 160.31 L556.11 160.58 L556.33 160.85 L556.56 161.08 L556.8 161.28 L557.06 161.43 L557.34 161.55 L557.63 161.63 L557.94 161.69 L558.27 161.74 L558.62 161.77 L558.97 161.8 L559.32 161.82 L559.67 161.84 L560.02 161.85 L560.37 161.86 L560.72 161.88 L561.07 161.89 L561.42 161.9 L561.77 161.91 L562.12 161.92 L562.47 161.92 L562.82 161.93 L563.17 161.94 L563.52 161.95 L563.87 161.95 L564.22 161.96 L564.58 161.96 L564.93 161.97 L565.28 161.97 L565.63 161.98 L565.98 161.98 L566.33 161.98 L566.68 161.99 L567.03 161.99 L567.38 161.99 L567.73 161.99 L568.08 161.98 L568.43 161.98 L568.78 161.97 L569.13 161.96 L569.48 161.94 L569.83 161.92 L570.18 161.88 L570.53 161.83 L570.88 161.76 L571.23 161.68 L571.58 161.58 L571.93 161.45 L572.28 161.31 L572.63 161.15 L572.98 160.99 L573.33 160.84 L573.66 160.71 L573.96 160.63 L574.25 160.6 L574.52 160.6 L574.79 160.65 L575.08 160.74 L575.38 160.86 L575.71 161.02 L576.05 161.19 L576.4 161.36 L576.75 161.52 L577.1 161.66 L577.45 161.78 L577.8 161.88 L578.15 161.96 L578.5 162.02 L578.85 162.08 L579.2 162.12 L579.55 162.15 L579.9 162.17 L580.26 162.2 L580.61 162.21 L580.96 162.23 L581.31 162.24 L581.66 162.26 L582.01 162.27 L582.36 162.28 L582.71 162.29 L583.06 162.3 L583.41 162.31 L583.76 162.32 L584.11 162.32 L584.46 162.33 L584.81 162.34 L585.16 162.35 L585.51 162.36 L585.86 162.36 L586.21 162.37 L586.56 162.38 L586.91 162.38 L587.26 162.39 L587.61 162.4 L587.96 162.4 L588.31 162.41 L588.66 162.42 L589.02 162.42 L589.37 162.43 L589.72 162.43 L590.07 162.44 L590.42 162.45 L590.77 162.45 L591.12 162.46 L591.47 162.47 L591.82 162.47 L592.17 162.48 L592.52 162.48 L592.87 162.49 L593.22 162.5 L593.57 162.5 L593.92 162.5 L594.27 162.51 L594.62 162.51 L594.97 162.52 L595.32 162.52 L595.67 162.52 L596.02 162.52 L596.37 162.52 L596.72 162.52 L597.07 162.52 L597.42 162.52 L597.78 162.52 L598.13 162.51 L598.48 162.5 L598.83 162.49 L599.18 162.48 L599.53 162.46 L599.88 162.44 L600.23 162.41 L600.58 162.37 L600.93 162.32 L601.27 162.25 L601.59 162.17 L601.9 162.07 L602.18 161.92 L602.45 161.72 L602.7 161.42 L602.94 160.96 L603.16 160.31 L603.37 159.41 L603.57 158.27 L603.75 156.91 L603.93 155.4 L604.09 153.82 L604.24 152.28 L604.39 150.91 L604.52 149.81 L604.65 149.09 L604.77 148.76 L604.88 148.82 L605 149.23 L605.12 149.99 L605.25 151.07 L605.39 152.38 L605.53 153.84 L605.69 155.33 L605.85 156.77 L606.02 158.07 L606.2 159.19 L606.4 160.1 L606.6 160.78 L606.82 161.28 L607.05 161.62 L607.3 161.85 L607.56 162.02 L607.83 162.14 L608.12 162.23 L608.47 162.31 L608.82 162.36 L609.17 162.4 L609.53 162.42 L609.88 162.43 L610.23 162.42 L610.58 162.4 L610.93 162.36 L611.28 162.3 L611.63 162.2 L611.98 162.06 L612.33 161.88 L612.68 161.64 L613.03 161.34 L613.38 160.97 L613.73 160.55 L614.08 160.07 L614.43 159.56 L614.78 159.05 L615.12 158.61 L615.43 158.28 L615.73 158.09 L616 158.04 L616.27 158.12 L616.55 158.33 L616.85 158.66 L617.16 159.1 L617.49 159.6 L617.84 160.13 L618.19 160.64 L618.55 161.1 L618.9 161.49 L619.25 161.82 L619.6 162.09 L619.95 162.31 L620.3 162.48 L620.65 162.61 L621 162.71 L621.35 162.79 L621.7 162.85 L622.05 162.9 L622.4 162.95 L622.75 162.98 L623.1 163.01 L623.45 163.04 L623.8 163.06 L624.15 163.09 L624.5 163.11 L624.85 163.13 L625.2 163.15 L625.55 163.16 L625.9 163.18 L626.25 163.19 L626.6 163.21 L626.95 163.22 L627.31 163.24 L627.66 163.25 L628.01 163.26 L628.36 163.27 L628.71 163.28 L629.06 163.3 L629.41 163.31 L629.76 163.32 L630.11 163.33 L630.46 163.34 L630.81 163.35 L631.16 163.35 L631.51 163.36 L631.86 163.37 L632.21 163.38 L632.56 163.39 L632.91 163.4 L633.26 163.4 L633.61 163.41 L633.96 163.4 L634.31 163.4 L634.66 163.4 L635.01 163.39 L635.36 163.39 L635.71 163.38 L636.07 163.38 L636.42 163.37 L636.77 163.36 L637.12 163.35 L637.47 163.33 L637.82 163.32 L638.17 163.29 L638.52 163.26 L638.87 163.22 L639.22 163.17 L639.57 163.11 L639.92 163.02 L640.27 162.92 L640.62 162.8 L640.97 162.67 L641.32 162.51 L641.67 162.35 L642.02 162.2 L642.35 162.07 L642.66 161.97 L642.95 161.92 L643.23 161.92 L643.49 161.94 L643.78 162.01 L644.08 162.12 L644.4 162.25 L644.74 162.4 L645.09 162.55 L645.44 162.69 L645.79 162.82 L646.14 162.93 L646.49 163.01 L646.84 163.08 L647.19 163.14 L647.54 163.18 L647.89 163.2 L648.24 163.22 L648.59 163.24 L648.94 163.24 L649.29 163.24 L649.64 163.24 L649.99 163.22 L650.35 163.21 L650.7 163.18 L651.05 163.14 L651.4 163.1 L651.75 163.03 L652.1 162.95 L652.45 162.86 L652.8 162.75 L653.15 162.63 L653.5 162.51 L653.85 162.39 L654.18 162.28 L654.49 162.21 L654.78 162.17 L655.05 162.17 L655.32 162.19 L655.61 162.25 L655.91 162.33 L656.23 162.44 L656.57 162.56 L656.92 162.68 L657.27 162.8 L657.62 162.9 L657.97 162.99 L658.32 163.06 L658.67 163.12 L659.02 163.17 L659.37 163.2 L659.72 163.23 L660.07 163.25 L660.42 163.26 L660.77 163.28 L661.12 163.28 L661.47 163.29 L661.82 163.3 L662.17 163.3 L662.52 163.3 L662.87 163.31 L663.22 163.31 L663.57 163.31 L663.92 163.31 L664.27 163.31 L664.62 163.31 L664.98 163.31 L665.33 163.31 L665.68 163.31 L666.03 163.31 L666.38 163.31 L666.73 163.31 L667.08 163.31 L667.43 163.31 L667.78 163.31 L668.13 163.31 L668.48 163.31 L668.83 163.31 L669.18 163.31 L669.53 163.31 L669.88 163.31 L670.23 163.31 L670.58 163.31 L670.93 163.31 L671.28 163.31 L671.63 163.31 L671.98 163.3 L672.33 163.3 L672.68 163.3 L673.03 163.3 L673.38 163.3 L673.74 163.3 L674.09 163.3 L674.44 163.3 L674.79 163.3 L675.14 163.29 L675.49 163.29 L675.84 163.29 L676.19 163.29 L676.54 163.29 L676.89 163.29 L677.24 163.29" fill="none" stroke="#6a6a6a" stroke-width="1.1" stroke-linejoin="round"/>
<path d="M370.7 157.13 L371.05 157.15 L371.4 157.16 L371.75 157.17 L372.1 157.19 L372.45 157.2 L372.8 157.21 L373.15 157.22 L373.5 157.24 L373.85 157.25 L374.2 157.26 L374.55 157.27 L374.9 157.29 L375.26 157.3 L375.61 157.31 L375.96 157.32 L376.31 157.33 L376.66 157.34 L377.01 157.35 L377.36 157.37 L377.71 157.38 L378.06 157.39 L378.41 157.4 L378.76 157.41 L379.11 157.42 L379.46 157.42 L379.81 157.43 L380.16 157.44 L380.51 157.45 L380.86 157.46 L381.21 157.46 L381.56 157.47 L381.91 157.47 L382.26 157.48 L382.61 157.48 L382.96 157.48 L383.31 157.48 L383.66 157.48 L384.02 157.48 L384.37 157.48 L384.72 157.48 L385.07 157.47 L385.42 157.46 L385.77 157.45 L386.12 157.44 L386.47 157.42 L386.82 157.4 L387.17 157.38 L387.52 157.35 L387.87 157.32 L388.22 157.27 L388.57 157.23 L388.92 157.17 L389.27 157.1 L389.62 157.01 L389.97 156.91 L390.32 156.79 L390.67 156.64 L391.02 156.45 L391.37 156.22 L391.72 155.93 L392.07 155.57 L392.4 155.13 L392.7 154.6 M399.5 154.88 L399.78 155.41 L400.09 155.86 L400.41 156.24 L400.75 156.56 L401.1 156.84 L401.46 157.06 L401.81 157.25 L402.16 157.41 L402.51 157.54 L402.86 157.66 L403.21 157.77 L403.56 157.86 L403.91 157.94 L404.26 158.01 L404.61 158.08 L404.96 158.14 L405.31 158.19 L405.66 158.25 L406.01 158.29 L406.36 158.34 L406.71 158.38 L407.06 158.42 L407.41 158.45 L407.76 158.49 L408.11 158.52 L408.46 158.55 L408.81 158.58 L409.16 158.61 L409.51 158.64 L409.86 158.67 L410.22 158.69 L410.57 158.72 L410.92 158.74 L411.27 158.77 L411.62 158.79 L411.97 158.82 L412.32 158.84 L412.67 158.86 L413.02 158.88 L413.37 158.9 L413.72 158.92 L414.07 158.94 L414.42 158.96 L414.77 158.98 L415.12 159 L415.47 159.02 L415.82 159.03 L416.17 159.05 L416.52 159.07 L416.87 159.08 L417.22 159.1 L417.57 159.12 L417.92 159.13 L418.27 159.15 L418.62 159.16 L418.98 159.18 L419.33 159.19 L419.68 159.21 L420.03 159.22 L420.38 159.24 L420.73 159.25 L421.08 159.27 L421.43 159.28 L421.78 159.3 L422.13 159.31 L422.48 159.33 L422.83 159.34 L423.18 159.36 L423.53 159.37 L423.88 159.39 L424.23 159.4 L424.58 159.41 L424.93 159.43 L425.28 159.44 L425.63 159.46 L425.98 159.47 L426.33 159.48 L426.68 159.5 L427.03 159.51 L427.38 159.53 L427.74 159.54 L428.09 159.55 L428.44 159.57 L428.79 159.58 L429.14 159.6 L429.49 159.61 L429.84 159.62 L430.19 159.64 L430.54 159.65 L430.89 159.66 L431.24 159.68 L431.59 159.69 L431.94 159.7 L432.29 159.72 L432.64 159.73 L432.99 159.74 L433.34 159.76 L433.69 159.77 L434.04 159.79 L434.39 159.8 L434.74 159.81 L435.09 159.83 L435.44 159.84 L435.79 159.85 L436.14 159.87 L436.5 159.88 L436.85 159.89 L437.2 159.9 L437.55 159.92 L437.9 159.93 L438.25 159.94 L438.6 159.96 L438.95 159.97 L439.3 159.98 L439.65 160 L440 160.01 L440.35 160.02 L440.7 160.04 L441.05 160.05 L441.4 160.06 L441.75 160.08 L442.1 160.09 L442.45 160.1 L442.8 160.11 L443.15 160.13 L443.5 160.14 L443.85 160.15 L444.2 160.17 L444.55 160.18 L444.9 160.19 L445.26 160.21 L445.61 160.22 L445.96 160.23 L446.31 160.24 L446.66 160.26 L447.01 160.27 L447.36 160.28 L447.71 160.29 L448.06 160.31 L448.41 160.32 L448.76 160.33 L449.11 160.35 L449.46 160.36 L449.81 160.36 L450.16 160.37 L450.51 160.37 L450.86 160.37 L451.21 160.38 L451.56 160.38 L451.91 160.39 L452.26 160.4 L452.61 160.41 L452.96 160.41 L453.31 160.41 L453.66 160.41 L454.02 160.42 L454.37 160.42 L454.72 160.42 L455.07 160.43 L455.42 160.43 L455.77 160.43 L456.12 160.43 L456.47 160.43 L456.82 160.43 L457.17 160.44 L457.52 160.44 L457.87 160.44 L458.22 160.44 L458.57 160.44 L458.92 160.44 L459.27 160.43 L459.62 160.43 L459.97 160.43 L460.32 160.42 L460.67 160.41 L461.02 160.4 L461.37 160.39 L461.72 160.37 L462.07 160.35 L462.42 160.32 L462.76 160.29 L463.07 160.23 L463.36 160.16 L463.63 160.05 L463.89 159.89 L464.13 159.66 L464.36 159.33 L464.58 158.9 L464.78 158.38 L464.97 157.79 L465.15 157.16 L465.31 156.54 L465.47 155.97 L465.62 155.49 L465.76 155.16 L465.89 154.99 L466.01 154.97 L466.13 155.09 L466.26 155.36 L466.4 155.76 L466.54 156.26 L466.69 156.83 L466.86 157.43 L467.03 158.02 L467.21 158.56 L467.4 159.03 L467.61 159.42 L467.82 159.72 L468.05 159.94 L468.3 160.09 L468.55 160.2 L468.83 160.27 L469.12 160.33 L469.43 160.37 L469.75 160.41 L470.1 160.43 L470.45 160.46 L470.8 160.48 L471.15 160.49 L471.5 160.5 L471.85 160.51 L472.2 160.52 L472.55 160.53 L472.9 160.54 L473.25 160.54 L473.6 160.54 L473.95 160.54 L474.3 160.55 L474.65 160.55 L475 160.54 L475.35 160.54 L475.7 160.54 L476.05 160.53 L476.4 160.52 L476.75 160.51 L477.1 160.5 L477.46 160.49 L477.81 160.47 L478.16 160.44 L478.51 160.41 L478.86 160.38 L479.21 160.33 L479.56 160.26 L479.88 160.17 L480.19 160.03 L480.48 159.84 L480.75 159.56 L481.01 159.16 L481.25 158.65 L481.48 158.02 L481.69 157.3 L481.89 156.53 L482.08 155.76 L482.25 155.03 L482.42 154.42 L482.57 153.98 L482.72 153.72 L482.86 153.66 L482.99 153.77 L483.13 154.04 L483.28 154.49 L483.44 155.06 L483.61 155.71 L483.79 156.4 L483.98 157.07 L484.18 157.68 L484.39 158.19 L484.62 158.58 L484.85 158.82 L485.11 158.9 L485.37 158.8 L485.71 158.43 L486.02 157.84 L486.32 157.05 L486.59 156.12 L486.85 155.1 L487.1 154.07 L487.33 153.11 L487.54 152.3 L487.75 151.7 L487.94 151.37 L488.12 151.3 L488.29 151.48 L488.47 151.89 L488.67 152.53 L488.87 153.35 L489.09 154.3 L489.32 155.31 L489.57 156.31 L489.83 157.24 L490.1 158.06 L490.4 158.75 L490.71 159.29 L491.03 159.68 L491.38 159.97 L491.73 160.16 L492.08 160.29 L492.43 160.38 L492.78 160.45 L493.13 160.51 L493.48 160.55 L493.83 160.59 L494.18 160.63 L494.54 160.66 L494.89 160.68 L495.24 160.71 L495.59 160.73 L495.94 160.74 L496.29 160.76 L496.64 160.78 L496.99 160.79 L497.34 160.8 L497.69 160.81 L498.04 160.82 L498.39 160.83 L498.74 160.84 L499.09 160.84 L499.44 160.85 L499.79 160.86 L500.14 160.86 L500.49 160.87 L500.84 160.87 L501.19 160.87 L501.54 160.87 L501.89 160.87 L502.24 160.87 L502.59 160.87 L502.94 160.86 L503.3 160.85 L503.65 160.84 L504 160.82 L504.35 160.78 L504.68 160.72 L505 160.63 L505.3 160.52 L505.58 160.36 L505.85 160.18 L506.09 159.98 L506.33 159.76 L506.55 159.55 L506.75 159.37 L506.95 159.22 L507.13 159.12 L507.3 159.08 L507.46 159.09 L507.63 159.14 L507.8 159.25 L507.98 159.4 L508.18 159.57 L508.39 159.77 L508.61 159.97 L508.84 160.17 L509.09 160.34 L509.35 160.5 L509.62 160.62 L509.92 160.71 L510.23 160.77 L510.56 160.82 L510.91 160.84 L511.26 160.86 L511.61 160.87 L511.96 160.87 L512.31 160.87 L512.66 160.87 L513.01 160.86 L513.36 160.85 L513.71 160.84 L514.06 160.82 L514.41 160.8 L514.76 160.77 L515.11 160.73 L515.46 160.69 L515.81 160.63 L516.17 160.56 L516.52 160.45 L516.87 160.31 L517.22 160.11 L517.57 159.83 L517.92 159.45 L518.27 158.93 L518.62 158.26 L518.97 157.42 L519.32 156.43 L519.65 155.37 L519.97 154.34 L520.26 153.4 L520.54 152.64 L520.8 152.12 L521.04 151.87 L521.27 151.87 L521.5 152.12 L521.75 152.6 L522.01 153.3 L522.28 154.17 L522.57 155.14 L522.88 156.15 L523.21 157.13 L523.55 158.02 L523.9 158.77 L524.25 159.35 L524.61 159.8 L524.96 160.13 L525.31 160.37 L525.66 160.54 L526.01 160.67 L526.36 160.77 L526.71 160.85 L527.06 160.91 L527.41 160.96 L527.76 161 L528.11 161.04 L528.46 161.08 L528.81 161.11 L529.16 161.13 L529.51 161.16 L529.86 161.18 L530.21 161.2 L530.56 161.22 L530.91 161.24 L531.26 161.26 L531.61 161.28 L531.96 161.29 L532.31 161.31 L532.66 161.32 L533.01 161.33 L533.37 161.35 L533.72 161.36 L534.07 161.37 L534.42 161.38 L534.77 161.39 L535.12 161.4 L535.47 161.41 L535.82 161.42 L536.17 161.43 L536.52 161.44 L536.87 161.45 L537.22 161.46 L537.57 161.47 L537.92 161.48 L538.27 161.48 L538.62 161.49 L538.97 161.5 L539.32 161.51 L539.67 161.52 L540.02 161.52 L540.37 161.53 L540.72 161.54 L541.07 161.55 L541.42 161.55 L541.77 161.56 L542.13 161.57 L542.48 161.58 L542.83 161.58 L543.18 161.59 L543.53 161.6 L543.88 161.6 L544.23 161.61 L544.58 161.61 L544.93 161.62 L545.28 161.63 L545.63 161.63 L545.98 161.64 L546.33 161.64 L546.68 161.65 L547.03 161.65 L547.38 161.66 L547.73 161.66 L548.08 161.66 L548.43 161.67 L548.78 161.67 L549.13 161.67 L549.48 161.67 L549.83 161.67 L550.18 161.66 L550.53 161.66 L550.89 161.65 L551.24 161.63 L551.59 161.61 L551.93 161.57 L552.25 161.51 L552.55 161.41 L552.84 161.28 L553.1 161.1 L553.35 160.87 L553.59 160.61 L553.81 160.33 L554.02 160.04 L554.22 159.77 L554.4 159.53 L554.57 159.36 L554.74 159.26 L554.89 159.23 L555.04 159.27 L555.19 159.37 L555.35 159.54 L555.53 159.77 L555.71 160.03 L555.9 160.31 L556.11 160.58 L556.33 160.85 L556.56 161.08 L556.8 161.28 L557.06 161.43 L557.34 161.55 L557.63 161.63 L557.94 161.69 L558.27 161.74 L558.62 161.77 L558.97 161.8 L559.32 161.82 L559.67 161.84 L560.02 161.85 L560.37 161.86 L560.72 161.88 L561.07 161.89 L561.42 161.9 L561.77 161.91 L562.12 161.92 L562.47 161.92 L562.82 161.93 L563.17 161.94 L563.52 161.95 L563.87 161.95 L564.22 161.96 L564.58 161.96 L564.93 161.97 L565.28 161.97 L565.63 161.98 L565.98 161.98 L566.33 161.98 L566.68 161.99 L567.03 161.99 L567.38 161.99 L567.73 161.99 L568.08 161.98 L568.43 161.98 L568.78 161.97 L569.13 161.96 L569.48 161.94 L569.83 161.92 L570.18 161.88 L570.53 161.83 L570.88 161.76 L571.23 161.68 L571.58 161.58 L571.93 161.45 L572.28 161.31 L572.63 161.15 L572.98 160.99 L573.33 160.84 L573.66 160.71 L573.96 160.63 L574.25 160.6 L574.52 160.6 L574.79 160.65 L575.08 160.74 L575.38 160.86 L575.71 161.02 L576.05 161.19 L576.4 161.36 L576.75 161.52 L577.1 161.66 L577.45 161.78 L577.8 161.88 L578.15 161.96 L578.5 162.02 L578.85 162.08 L579.2 162.12 L579.55 162.15 L579.9 162.17 L580.26 162.2 L580.61 162.21 L580.96 162.23 L581.31 162.24 L581.66 162.26 L582.01 162.27 L582.36 162.28 L582.71 162.29 L583.06 162.3 L583.41 162.31 L583.76 162.32 L584.11 162.32 L584.46 162.33 L584.81 162.34 L585.16 162.35 L585.51 162.36 L585.86 162.36 L586.21 162.37 L586.56 162.38 L586.91 162.38 L587.26 162.39 L587.61 162.4 L587.96 162.4 L588.31 162.41 L588.66 162.42 L589.02 162.42 L589.37 162.43 L589.72 162.43 L590.07 162.44 L590.42 162.45 L590.77 162.45 L591.12 162.46 L591.47 162.47 L591.82 162.47 L592.17 162.48 L592.52 162.48 L592.87 162.49 L593.22 162.5 L593.57 162.5 L593.92 162.5 L594.27 162.51 L594.62 162.51 L594.97 162.52 L595.32 162.52 L595.67 162.52 L596.02 162.52 L596.37 162.52 L596.72 162.52 L597.07 162.52 L597.42 162.52 L597.78 162.52 L598.13 162.51 L598.48 162.5 L598.83 162.49 L599.18 162.48 L599.53 162.46 L599.88 162.44 L600.23 162.41 L600.58 162.37 L600.93 162.32 L601.27 162.25 L601.59 162.17 L601.9 162.07 L602.18 161.92 L602.45 161.72 L602.7 161.42 L602.94 160.96 L603.16 160.31 L603.37 159.41 L603.57 158.27 L603.75 156.91 L603.93 155.4 L604.09 153.82 L604.24 152.28 L604.39 150.91 L604.52 149.81 L604.65 149.09 L604.77 148.76 L604.88 148.82 L605 149.23 L605.12 149.99 L605.25 151.07 L605.39 152.38 L605.53 153.84 L605.69 155.33 L605.85 156.77 L606.02 158.07 L606.2 159.19 L606.4 160.1 L606.6 160.78 L606.82 161.28 L607.05 161.62 L607.3 161.85 L607.56 162.02 L607.83 162.14 L608.12 162.23 L608.47 162.31 L608.82 162.36 L609.17 162.4 L609.53 162.42 L609.88 162.43 L610.23 162.42 L610.58 162.4 L610.93 162.36 L611.28 162.3 L611.63 162.2 L611.98 162.06 L612.33 161.88 L612.68 161.64 L613.03 161.34 L613.38 160.97 L613.73 160.55 L614.08 160.07 L614.43 159.56 L614.78 159.05 L615.12 158.61 L615.43 158.28 L615.73 158.09 L616 158.04 L616.27 158.12 L616.55 158.33 L616.85 158.66 L617.16 159.1 L617.49 159.6 L617.84 160.13 L618.19 160.64 L618.55 161.1 L618.9 161.49 L619.25 161.82 L619.6 162.09 L619.95 162.31 L620.3 162.48 L620.65 162.61 L621 162.71 L621.35 162.79 L621.7 162.85 L622.05 162.9 L622.4 162.95 L622.75 162.98 L623.1 163.01 L623.45 163.04 L623.8 163.06 L624.15 163.09 L624.5 163.11 L624.85 163.13 L625.2 163.15 L625.55 163.16 L625.9 163.18 L626.25 163.19 L626.6 163.21 L626.95 163.22 L627.31 163.24 L627.66 163.25 L628.01 163.26 L628.36 163.27 L628.71 163.28 L629.06 163.3 L629.41 163.31 L629.76 163.32 L630.11 163.33 L630.46 163.34 L630.81 163.35 L631.16 163.35 L631.51 163.36 L631.86 163.37 L632.21 163.38 L632.56 163.39 L632.91 163.4 L633.26 163.4 L633.61 163.41 L633.96 163.4 L634.31 163.4 L634.66 163.4 L635.01 163.39 L635.36 163.39 L635.71 163.38 L636.07 163.38 L636.42 163.37 L636.77 163.36 L637.12 163.35 L637.47 163.33 L637.82 163.32 L638.17 163.29 L638.52 163.26 L638.87 163.22 L639.22 163.17 L639.57 163.11 L639.92 163.02 L640.27 162.92 L640.62 162.8 L640.97 162.67 L641.32 162.51 L641.67 162.35 L642.02 162.2 L642.35 162.07 L642.66 161.97 L642.95 161.92 L643.23 161.92 L643.49 161.94 L643.78 162.01 L644.08 162.12 L644.4 162.25 L644.74 162.4 L645.09 162.55 L645.44 162.69 L645.79 162.82 L646.14 162.93 L646.49 163.01 L646.84 163.08 L647.19 163.14 L647.54 163.18 L647.89 163.2 L648.24 163.22 L648.59 163.24 L648.94 163.24 L649.29 163.24 L649.64 163.24 L649.99 163.22 L650.35 163.21 L650.7 163.18 L651.05 163.14 L651.4 163.1 L651.75 163.03 L652.1 162.95 L652.45 162.86 L652.8 162.75 L653.15 162.63 L653.5 162.51 L653.85 162.39 L654.18 162.28 L654.49 162.21 L654.78 162.17 L655.05 162.17 L655.32 162.19 L655.61 162.25 L655.91 162.33 L656.23 162.44 L656.57 162.56 L656.92 162.68 L657.27 162.8 L657.62 162.9 L657.97 162.99 L658.32 163.06 L658.67 163.12 L659.02 163.17 L659.37 163.2 L659.72 163.23 L660.07 163.25 L660.42 163.26 L660.77 163.28 L661.12 163.28 L661.47 163.29 L661.82 163.3 L662.17 163.3 L662.52 163.3 L662.87 163.31 L663.22 163.31 L663.57 163.31 L663.92 163.31 L664.27 163.31 L664.62 163.31 L664.98 163.31 L665.33 163.31 L665.68 163.31 L666.03 163.31 L666.38 163.31 L666.73 163.31 L667.08 163.31 L667.43 163.31 L667.78 163.31 L668.13 163.31 L668.48 163.31 L668.83 163.31 L669.18 163.31 L669.53 163.31 L669.88 163.31 L670.23 163.31 L670.58 163.31 L670.93 163.31 L671.28 163.31 L671.63 163.31 L671.98 163.3 L672.33 163.3 L672.68 163.3 L673.03 163.3 L673.38 163.3 L673.74 163.3 L674.09 163.3 L674.44 163.3 L674.79 163.3 L675.14 163.29 L675.49 163.29 L675.84 163.29 L676.19 163.29 L676.54 163.29 L676.89 163.29 L677.24 163.29" fill="none" stroke="#e43232" stroke-width="3.8" stroke-linejoin="round" stroke-linecap="round" opacity="0.8"/>
<path d="M370.7 157.13 L371.05 157.15 L371.4 157.16 L371.75 157.17 L372.1 157.19 L372.45 157.2 L372.8 157.21 L373.15 157.22 L373.5 157.24 L373.85 157.25 L374.2 157.26 L374.55 157.27 L374.9 157.29 L375.26 157.3 L375.61 157.31 L375.96 157.32 L376.31 157.33 L376.66 157.34 L377.01 157.35 L377.36 157.37 L377.71 157.38 L378.06 157.39 L378.41 157.4 L378.76 157.41 L379.11 157.42 L379.46 157.42 L379.81 157.43 L380.16 157.44 L380.51 157.45 L380.86 157.46 L381.21 157.46 L381.56 157.47 L381.91 157.47 L382.26 157.48 L382.61 157.48 L382.96 157.48 L383.31 157.48 L383.66 157.48 L384.02 157.48 L384.37 157.48 L384.72 157.48 L385.07 157.47 L385.42 157.46 L385.77 157.45 L386.12 157.44 L386.47 157.42 L386.82 157.4 L387.17 157.38 L387.52 157.35 L387.87 157.32 L388.22 157.27 L388.57 157.23 L388.92 157.17 L389.27 157.1 L389.62 157.01 L389.97 156.91 L390.32 156.79 L390.67 156.64 L391.02 156.45 L391.37 156.22 L391.72 155.93 L392.07 155.57 L392.4 155.13 L392.7 154.6 M399.5 154.88 L399.78 155.41 L400.09 155.86 L400.41 156.24 L400.75 156.56 L401.1 156.84 L401.46 157.06 L401.81 157.25 L402.16 157.41 L402.51 157.54 L402.86 157.66 L403.21 157.77 L403.56 157.86 L403.91 157.94 L404.26 158.01 L404.61 158.08 L404.96 158.14 L405.31 158.19 L405.66 158.25 L406.01 158.29 L406.36 158.34 L406.71 158.38 L407.06 158.42 L407.41 158.45 L407.76 158.49 L408.11 158.52 L408.46 158.55 L408.81 158.58 L409.16 158.61 L409.51 158.64 L409.86 158.67 L410.22 158.69 L410.57 158.72 L410.92 158.74 L411.27 158.77 L411.62 158.79 L411.97 158.82 L412.32 158.84 L412.67 158.86 L413.02 158.88 L413.37 158.9 L413.72 158.92 L414.07 158.94 L414.42 158.96 L414.77 158.98 L415.12 159 L415.47 159.02 L415.82 159.03 L416.17 159.05 L416.52 159.07 L416.87 159.08 L417.22 159.1 L417.57 159.12 L417.92 159.13 L418.27 159.15 L418.62 159.16 L418.98 159.18 L419.33 159.19 L419.68 159.21 L420.03 159.22 L420.38 159.24 L420.73 159.25 L421.08 159.27 L421.43 159.28 L421.78 159.3 L422.13 159.31 L422.48 159.33 L422.83 159.34 L423.18 159.36 L423.53 159.37 L423.88 159.39 L424.23 159.4 L424.58 159.41 L424.93 159.43 L425.28 159.44 L425.63 159.46 L425.98 159.47 L426.33 159.48 L426.68 159.5 L427.03 159.51 L427.38 159.53 L427.74 159.54 L428.09 159.55 L428.44 159.57 L428.79 159.58 L429.14 159.6 L429.49 159.61 L429.84 159.62 L430.19 159.64 L430.54 159.65 L430.89 159.66 L431.24 159.68 L431.59 159.69 L431.94 159.7 L432.29 159.72 L432.64 159.73 L432.99 159.74 L433.34 159.76 L433.69 159.77 L434.04 159.79 L434.39 159.8 L434.74 159.81 L435.09 159.83 L435.44 159.84 L435.79 159.85 L436.14 159.87 L436.5 159.88 L436.85 159.89 L437.2 159.9 L437.55 159.92 L437.9 159.93 L438.25 159.94 L438.6 159.96 L438.95 159.97 L439.3 159.98 L439.65 160 L440 160.01 L440.35 160.02 L440.7 160.04 L441.05 160.05 L441.4 160.06 L441.75 160.08 L442.1 160.09 L442.45 160.1 L442.8 160.11 L443.15 160.13 L443.5 160.14 L443.85 160.15 L444.2 160.17 L444.55 160.18 L444.9 160.19 L445.26 160.21 L445.61 160.22 L445.96 160.23 L446.31 160.24 L446.66 160.26 L447.01 160.27 L447.36 160.28 L447.71 160.29 L448.06 160.31 L448.41 160.32 L448.76 160.33 L449.11 160.35 L449.46 160.36 L449.81 160.36 L450.16 160.37 L450.51 160.37 L450.86 160.37 L451.21 160.38 L451.56 160.38 L451.91 160.39 L452.26 160.4 L452.61 160.41 L452.96 160.41 L453.31 160.41 L453.66 160.41 L454.02 160.42 L454.37 160.42 L454.72 160.42 L455.07 160.43 L455.42 160.43 L455.77 160.43 L456.12 160.43 L456.47 160.43 L456.82 160.43 L457.17 160.44 L457.52 160.44 L457.87 160.44 L458.22 160.44 L458.57 160.44 L458.92 160.44 L459.27 160.43 L459.62 160.43 L459.97 160.43 L460.32 160.42 L460.67 160.41 L461.02 160.4 L461.37 160.39 L461.72 160.37 L462.07 160.35 L462.42 160.32 L462.76 160.29 L463.07 160.23 L463.36 160.16 L463.63 160.05 L463.89 159.89 L464.13 159.66 L464.36 159.33 L464.58 158.9 L464.78 158.38 L464.97 157.79 L465.15 157.16 L465.31 156.54 L465.47 155.97 L465.62 155.49 L465.76 155.16 L465.89 154.99 L466.01 154.97 L466.13 155.09 L466.26 155.36 L466.4 155.76 L466.54 156.26 L466.69 156.83 L466.86 157.43 L467.03 158.02 L467.21 158.56 L467.4 159.03 L467.61 159.42 L467.82 159.72 L468.05 159.94 L468.3 160.09 L468.55 160.2 L468.83 160.27 L469.12 160.33 L469.43 160.37 L469.75 160.41 L470.1 160.43 L470.45 160.46 L470.8 160.48 L471.15 160.49 L471.5 160.5 L471.85 160.51 L472.2 160.52 L472.55 160.53 L472.9 160.54 L473.25 160.54 L473.6 160.54 L473.95 160.54 L474.3 160.55 L474.65 160.55 L475 160.54 L475.35 160.54 L475.7 160.54 L476.05 160.53 L476.4 160.52 L476.75 160.51 L477.1 160.5 L477.46 160.49 L477.81 160.47 L478.16 160.44 L478.51 160.41 L478.86 160.38 L479.21 160.33 L479.56 160.26 L479.88 160.17 L480.19 160.03 L480.48 159.84 L480.75 159.56 L481.01 159.16 L481.25 158.65 L481.48 158.02 L481.69 157.3 L481.89 156.53 L482.08 155.76 L482.25 155.03 L482.42 154.42 L482.57 153.98 L482.72 153.72 L482.86 153.66 L482.99 153.77 L483.13 154.04 L483.28 154.49 L483.44 155.06 L483.61 155.71 L483.79 156.4 L483.98 157.07 L484.18 157.68 L484.39 158.19 L484.62 158.58 L484.85 158.82 L485.11 158.9 L485.37 158.8 L485.71 158.43 L486.02 157.84 L486.32 157.05 L486.59 156.12 L486.85 155.1 L487.1 154.07 L487.33 153.11 L487.54 152.3 L487.75 151.7 L487.94 151.37 L488.12 151.3 L488.29 151.48 L488.47 151.89 L488.67 152.53 L488.87 153.35 L489.09 154.3 L489.32 155.31 L489.57 156.31 L489.83 157.24 L490.1 158.06 L490.4 158.75 L490.71 159.29 L491.03 159.68 L491.38 159.97 L491.73 160.16 L492.08 160.29 L492.43 160.38 L492.78 160.45 L493.13 160.51 L493.48 160.55 L493.83 160.59 L494.18 160.63 L494.54 160.66 L494.89 160.68 L495.24 160.71 L495.59 160.73 L495.94 160.74 L496.29 160.76 L496.64 160.78 L496.99 160.79 L497.34 160.8 L497.69 160.81 L498.04 160.82 L498.39 160.83 L498.74 160.84 L499.09 160.84 L499.44 160.85 L499.79 160.86 L500.14 160.86 L500.49 160.87 L500.84 160.87 L501.19 160.87 L501.54 160.87 L501.89 160.87 L502.24 160.87 L502.59 160.87 L502.94 160.86 L503.3 160.85 L503.65 160.84 L504 160.82 L504.35 160.78 L504.68 160.72 L505 160.63 L505.3 160.52 L505.58 160.36 L505.85 160.18 L506.09 159.98 L506.33 159.76 L506.55 159.55 L506.75 159.37 L506.95 159.22 L507.13 159.12 L507.3 159.08 L507.46 159.09 L507.63 159.14 L507.8 159.25 L507.98 159.4 L508.18 159.57 L508.39 159.77 L508.61 159.97 L508.84 160.17 L509.09 160.34 L509.35 160.5 L509.62 160.62 L509.92 160.71 L510.23 160.77 L510.56 160.82 L510.91 160.84 L511.26 160.86 L511.61 160.87 L511.96 160.87 L512.31 160.87 L512.66 160.87 L513.01 160.86 L513.36 160.85 L513.71 160.84 L514.06 160.82 L514.41 160.8 L514.76 160.77 L515.11 160.73 L515.46 160.69 L515.81 160.63 L516.17 160.56 L516.52 160.45 L516.87 160.31 L517.22 160.11 L517.57 159.83 L517.92 159.45 L518.27 158.93 L518.62 158.26 L518.97 157.42 L519.32 156.43 L519.65 155.37 L519.97 154.34 L520.26 153.4 L520.54 152.64 L520.8 152.12 L521.04 151.87 L521.27 151.87 L521.5 152.12 L521.75 152.6 L522.01 153.3 L522.28 154.17 L522.57 155.14 L522.88 156.15 L523.21 157.13 L523.55 158.02 L523.9 158.77 L524.25 159.35 L524.61 159.8 L524.96 160.13 L525.31 160.37 L525.66 160.54 L526.01 160.67 L526.36 160.77 L526.71 160.85 L527.06 160.91 L527.41 160.96 L527.76 161 L528.11 161.04 L528.46 161.08 L528.81 161.11 L529.16 161.13 L529.51 161.16 L529.86 161.18 L530.21 161.2 L530.56 161.22 L530.91 161.24 L531.26 161.26 L531.61 161.28 L531.96 161.29 L532.31 161.31 L532.66 161.32 L533.01 161.33 L533.37 161.35 L533.72 161.36 L534.07 161.37 L534.42 161.38 L534.77 161.39 L535.12 161.4 L535.47 161.41 L535.82 161.42 L536.17 161.43 L536.52 161.44 L536.87 161.45 L537.22 161.46 L537.57 161.47 L537.92 161.48 L538.27 161.48 L538.62 161.49 L538.97 161.5 L539.32 161.51 L539.67 161.52 L540.02 161.52 L540.37 161.53 L540.72 161.54 L541.07 161.55 L541.42 161.55 L541.77 161.56 L542.13 161.57 L542.48 161.58 L542.83 161.58 L543.18 161.59 L543.53 161.6 L543.88 161.6 L544.23 161.61 L544.58 161.61 L544.93 161.62 L545.28 161.63 L545.63 161.63 L545.98 161.64 L546.33 161.64 L546.68 161.65 L547.03 161.65 L547.38 161.66 L547.73 161.66 L548.08 161.66 L548.43 161.67 L548.78 161.67 L549.13 161.67 L549.48 161.67 L549.83 161.67 L550.18 161.66 L550.53 161.66 L550.89 161.65 L551.24 161.63 L551.59 161.61 L551.93 161.57 L552.25 161.51 L552.55 161.41 L552.84 161.28 L553.1 161.1 L553.35 160.87 L553.59 160.61 L553.81 160.33 L554.02 160.04 L554.22 159.77 L554.4 159.53 L554.57 159.36 L554.74 159.26 L554.89 159.23 L555.04 159.27 L555.19 159.37 L555.35 159.54 L555.53 159.77 L555.71 160.03 L555.9 160.31 L556.11 160.58 L556.33 160.85 L556.56 161.08 L556.8 161.28 L557.06 161.43 L557.34 161.55 L557.63 161.63 L557.94 161.69 L558.27 161.74 L558.62 161.77 L558.97 161.8 L559.32 161.82 L559.67 161.84 L560.02 161.85 L560.37 161.86 L560.72 161.88 L561.07 161.89 L561.42 161.9 L561.77 161.91 L562.12 161.92 L562.47 161.92 L562.82 161.93 L563.17 161.94 L563.52 161.95 L563.87 161.95 L564.22 161.96 L564.58 161.96 L564.93 161.97 L565.28 161.97 L565.63 161.98 L565.98 161.98 L566.33 161.98 L566.68 161.99 L567.03 161.99 L567.38 161.99 L567.73 161.99 L568.08 161.98 L568.43 161.98 L568.78 161.97 L569.13 161.96 L569.48 161.94 L569.83 161.92 L570.18 161.88 L570.53 161.83 L570.88 161.76 L571.23 161.68 L571.58 161.58 L571.93 161.45 L572.28 161.31 L572.63 161.15 L572.98 160.99 L573.33 160.84 L573.66 160.71 L573.96 160.63 L574.25 160.6 L574.52 160.6 L574.79 160.65 L575.08 160.74 L575.38 160.86 L575.71 161.02 L576.05 161.19 L576.4 161.36 L576.75 161.52 L577.1 161.66 L577.45 161.78 L577.8 161.88 L578.15 161.96 L578.5 162.02 L578.85 162.08 L579.2 162.12 L579.55 162.15 L579.9 162.17 L580.26 162.2 L580.61 162.21 L580.96 162.23 L581.31 162.24 L581.66 162.26 L582.01 162.27 L582.36 162.28 L582.71 162.29 L583.06 162.3 L583.41 162.31 L583.76 162.32 L584.11 162.32 L584.46 162.33 L584.81 162.34 L585.16 162.35 L585.51 162.36 L585.86 162.36 L586.21 162.37 L586.56 162.38 L586.91 162.38 L587.26 162.39 L587.61 162.4 L587.96 162.4 L588.31 162.41 L588.66 162.42 L589.02 162.42 L589.37 162.43 L589.72 162.43 L590.07 162.44 L590.42 162.45 L590.77 162.45 L591.12 162.46 L591.47 162.47 L591.82 162.47 L592.17 162.48 L592.52 162.48 L592.87 162.49 L593.22 162.5 L593.57 162.5 L593.92 162.5 L594.27 162.51 L594.62 162.51 L594.97 162.52 L595.32 162.52 L595.67 162.52 L596.02 162.52 L596.37 162.52 L596.72 162.52 L597.07 162.52 L597.42 162.52 L597.78 162.52 L598.13 162.51 L598.48 162.5 L598.83 162.49 L599.18 162.48 L599.53 162.46 L599.88 162.44 L600.23 162.41 L600.58 162.37 L600.93 162.32 L601.27 162.25 L601.59 162.17 L601.9 162.07 L602.18 161.92 L602.45 161.72 L602.7 161.42 L602.94 160.96 L603.16 160.31 L603.37 159.41 L603.57 158.27 L603.75 156.91 L603.93 155.4 L604.09 153.82 L604.24 152.28 L604.39 150.91 L604.52 149.81 L604.65 149.09 L604.77 148.76 L604.88 148.82 L605 149.23 L605.12 149.99 L605.25 151.07 L605.39 152.38 L605.53 153.84 L605.69 155.33 L605.85 156.77 L606.02 158.07 L606.2 159.19 L606.4 160.1 L606.6 160.78 L606.82 161.28 L607.05 161.62 L607.3 161.85 L607.56 162.02 L607.83 162.14 L608.12 162.23 L608.47 162.31 L608.82 162.36 L609.17 162.4 L609.53 162.42 L609.88 162.43 L610.23 162.42 L610.58 162.4 L610.93 162.36 L611.28 162.3 L611.63 162.2 L611.98 162.06 L612.33 161.88 L612.68 161.64 L613.03 161.34 L613.38 160.97 L613.73 160.55 L614.08 160.07 L614.43 159.56 L614.78 159.05 L615.12 158.61 L615.43 158.28 L615.73 158.09 L616 158.04 L616.27 158.12 L616.55 158.33 L616.85 158.66 L617.16 159.1 L617.49 159.6 L617.84 160.13 L618.19 160.64 L618.55 161.1 L618.9 161.49 L619.25 161.82 L619.6 162.09 L619.95 162.31 L620.3 162.48 L620.65 162.61 L621 162.71 L621.35 162.79 L621.7 162.85 L622.05 162.9 L622.4 162.95 L622.75 162.98 L623.1 163.01 L623.45 163.04 L623.8 163.06 L624.15 163.09 L624.5 163.11 L624.85 163.13 L625.2 163.15 L625.55 163.16 L625.9 163.18 L626.25 163.19 L626.6 163.21 L626.95 163.22 L627.31 163.24 L627.66 163.25 L628.01 163.26 L628.36 163.27 L628.71 163.28 L629.06 163.3 L629.41 163.31 L629.76 163.32 L630.11 163.33 L630.46 163.34 L630.81 163.35 L631.16 163.35 L631.51 163.36 L631.86 163.37 L632.21 163.38 L632.56 163.39 L632.91 163.4 L633.26 163.4 L633.61 163.41 L633.96 163.4 L634.31 163.4 L634.66 163.4 L635.01 163.39 L635.36 163.39 L635.71 163.38 L636.07 163.38 L636.42 163.37 L636.77 163.36 L637.12 163.35 L637.47 163.33 L637.82 163.32 L638.17 163.29 L638.52 163.26 L638.87 163.22 L639.22 163.17 L639.57 163.11 L639.92 163.02 L640.27 162.92 L640.62 162.8 L640.97 162.67 L641.32 162.51 L641.67 162.35 L642.02 162.2 L642.35 162.07 L642.66 161.97 L642.95 161.92 L643.23 161.92 L643.49 161.94 L643.78 162.01 L644.08 162.12 L644.4 162.25 L644.74 162.4 L645.09 162.55 L645.44 162.69 L645.79 162.82 L646.14 162.93 L646.49 163.01 L646.84 163.08 L647.19 163.14 L647.54 163.18 L647.89 163.2 L648.24 163.22 L648.59 163.24 L648.94 163.24 L649.29 163.24 L649.64 163.24 L649.99 163.22 L650.35 163.21 L650.7 163.18 L651.05 163.14 L651.4 163.1 L651.75 163.03 L652.1 162.95 L652.45 162.86 L652.8 162.75 L653.15 162.63 L653.5 162.51 L653.85 162.39 L654.18 162.28 L654.49 162.21 L654.78 162.17 L655.05 162.17 L655.32 162.19 L655.61 162.25 L655.91 162.33 L656.23 162.44 L656.57 162.56 L656.92 162.68 L657.27 162.8 L657.62 162.9 L657.97 162.99 L658.32 163.06 L658.67 163.12 L659.02 163.17 L659.37 163.2 L659.72 163.23 L660.07 163.25 L660.42 163.26 L660.77 163.28 L661.12 163.28 L661.47 163.29 L661.82 163.3 L662.17 163.3 L662.52 163.3 L662.87 163.31 L663.22 163.31 L663.57 163.31 L663.92 163.31 L664.27 163.31 L664.62 163.31 L664.98 163.31 L665.33 163.31 L665.68 163.31 L666.03 163.31 L666.38 163.31 L666.73 163.31 L667.08 163.31 L667.43 163.31 L667.78 163.31 L668.13 163.31 L668.48 163.31 L668.83 163.31 L669.18 163.31 L669.53 163.31 L669.88 163.31 L670.23 163.31 L670.58 163.31 L670.93 163.31 L671.28 163.31 L671.63 163.31 L671.98 163.3 L672.33 163.3 L672.68 163.3 L673.03 163.3 L673.38 163.3 L673.74 163.3 L674.09 163.3 L674.44 163.3 L674.79 163.3 L675.14 163.29 L675.49 163.29 L675.84 163.29 L676.19 163.29 L676.54 163.29 L676.89 163.29 L677.24 163.29" fill="none" stroke="#9c0c0c" stroke-width="2.0" stroke-linejoin="round" stroke-linecap="round"/>
<circle cx="392.42" cy="155.09" r="1.15" fill="#f0b4b4" stroke="#d05050" stroke-width="0.8" opacity="0.8"/>
<circle cx="393.39" cy="152.74" r="1.15" fill="#f0b4b4" stroke="#d05050" stroke-width="0.8" opacity="0.8"/>
<circle cx="393.87" cy="150.36" r="1.15" fill="#f0b4b4" stroke="#d05050" stroke-width="0.8" opacity="0.8"/>
<circle cx="394.21" cy="147.51" r="1.15" fill="#f0b4b4" stroke="#d05050" stroke-width="0.8" opacity="0.8"/>
<circle cx="394.4" cy="144.99" r="1.15" fill="#f0b4b4" stroke="#d05050" stroke-width="0.8" opacity="0.8"/>
<circle cx="394.54" cy="142.38" r="1.15" fill="#f0b4b4" stroke="#d05050" stroke-width="0.8" opacity="0.8"/>
<circle cx="394.69" cy="138.85" r="1.15" fill="#f0b4b4" stroke="#d05050" stroke-width="0.8" opacity="0.8"/>
<circle cx="394.79" cy="135.83" r="1.15" fill="#f0b4b4" stroke="#d05050" stroke-width="0.8" opacity="0.8"/>
<circle cx="394.88" cy="132.14" r="1.15" fill="#f0b4b4" stroke="#d05050" stroke-width="0.8" opacity="0.8"/>
<circle cx="394.98" cy="127.66" r="1.15" fill="#f0b4b4" stroke="#d05050" stroke-width="0.8" opacity="0.8"/>
<circle cx="395.03" cy="125.09" r="1.15" fill="#f0b4b4" stroke="#d05050" stroke-width="0.8" opacity="0.8"/>
<circle cx="395.07" cy="122.28" r="1.15" fill="#f0b4b4" stroke="#d05050" stroke-width="0.8" opacity="0.8"/>
<circle cx="395.12" cy="119.21" r="1.15" fill="#f0b4b4" stroke="#d05050" stroke-width="0.8" opacity="0.8"/>
<circle cx="395.17" cy="115.89" r="1.15" fill="#f0b4b4" stroke="#d05050" stroke-width="0.8" opacity="0.8"/>
<circle cx="395.22" cy="112.29" r="1.15" fill="#f0b4b4" stroke="#d05050" stroke-width="0.8" opacity="0.8"/>
<circle cx="395.27" cy="108.42" r="1.15" fill="#f0b4b4" stroke="#d05050" stroke-width="0.8" opacity="0.8"/>
<circle cx="395.32" cy="104.26" r="1.15" fill="#f0b4b4" stroke="#d05050" stroke-width="0.8" opacity="0.8"/>
<circle cx="395.36" cy="99.84" r="1.15" fill="#f0b4b4" stroke="#d05050" stroke-width="0.8" opacity="0.8"/>
<circle cx="395.41" cy="95.15" r="1.15" fill="#f0b4b4" stroke="#d05050" stroke-width="0.8" opacity="0.8"/>
<circle cx="395.46" cy="90.21" r="1.15" fill="#f0b4b4" stroke="#d05050" stroke-width="0.8" opacity="0.8"/>
<circle cx="395.51" cy="85.04" r="1.15" fill="#f0b4b4" stroke="#d05050" stroke-width="0.8" opacity="0.8"/>
<circle cx="395.56" cy="79.69" r="1.15" fill="#f0b4b4" stroke="#d05050" stroke-width="0.8" opacity="0.8"/>
<circle cx="395.6" cy="74.2" r="1.15" fill="#f0b4b4" stroke="#d05050" stroke-width="0.8" opacity="0.8"/>
<circle cx="395.65" cy="68.64" r="1.15" fill="#f0b4b4" stroke="#d05050" stroke-width="0.8" opacity="0.8"/>
<circle cx="395.7" cy="63.09" r="1.15" fill="#f0b4b4" stroke="#d05050" stroke-width="0.8" opacity="0.8"/>
<circle cx="395.75" cy="57.64" r="1.15" fill="#f0b4b4" stroke="#d05050" stroke-width="0.8" opacity="0.8"/>
<circle cx="395.8" cy="52.43" r="1.15" fill="#f0b4b4" stroke="#d05050" stroke-width="0.8" opacity="0.8"/>
<circle cx="395.85" cy="47.58" r="1.15" fill="#f0b4b4" stroke="#d05050" stroke-width="0.8" opacity="0.8"/>
<circle cx="395.89" cy="43.24" r="1.15" fill="#f0b4b4" stroke="#d05050" stroke-width="0.8" opacity="0.8"/>
<circle cx="395.94" cy="39.57" r="1.15" fill="#f0b4b4" stroke="#d05050" stroke-width="0.8" opacity="0.8"/>
<circle cx="395.99" cy="36.71" r="1.15" fill="#f0b4b4" stroke="#d05050" stroke-width="0.8" opacity="0.8"/>
<circle cx="396.09" cy="33.87" r="1.15" fill="#f0b4b4" stroke="#d05050" stroke-width="0.8" opacity="0.8"/>
<circle cx="396.23" cy="37.42" r="1.15" fill="#f0b4b4" stroke="#d05050" stroke-width="0.8" opacity="0.8"/>
<circle cx="396.28" cy="40.52" r="1.15" fill="#f0b4b4" stroke="#d05050" stroke-width="0.8" opacity="0.8"/>
<circle cx="396.33" cy="44.39" r="1.15" fill="#f0b4b4" stroke="#d05050" stroke-width="0.8" opacity="0.8"/>
<circle cx="396.38" cy="48.88" r="1.15" fill="#f0b4b4" stroke="#d05050" stroke-width="0.8" opacity="0.8"/>
<circle cx="396.42" cy="53.85" r="1.15" fill="#f0b4b4" stroke="#d05050" stroke-width="0.8" opacity="0.8"/>
<circle cx="396.47" cy="59.14" r="1.15" fill="#f0b4b4" stroke="#d05050" stroke-width="0.8" opacity="0.8"/>
<circle cx="396.52" cy="64.63" r="1.15" fill="#f0b4b4" stroke="#d05050" stroke-width="0.8" opacity="0.8"/>
<circle cx="396.57" cy="70.2" r="1.15" fill="#f0b4b4" stroke="#d05050" stroke-width="0.8" opacity="0.8"/>
<circle cx="396.62" cy="75.75" r="1.15" fill="#f0b4b4" stroke="#d05050" stroke-width="0.8" opacity="0.8"/>
<circle cx="396.66" cy="81.21" r="1.15" fill="#f0b4b4" stroke="#d05050" stroke-width="0.8" opacity="0.8"/>
<circle cx="396.71" cy="86.52" r="1.15" fill="#f0b4b4" stroke="#d05050" stroke-width="0.8" opacity="0.8"/>
<circle cx="396.76" cy="91.63" r="1.15" fill="#f0b4b4" stroke="#d05050" stroke-width="0.8" opacity="0.8"/>
<circle cx="396.81" cy="96.51" r="1.15" fill="#f0b4b4" stroke="#d05050" stroke-width="0.8" opacity="0.8"/>
<circle cx="396.86" cy="101.14" r="1.15" fill="#f0b4b4" stroke="#d05050" stroke-width="0.8" opacity="0.8"/>
<circle cx="396.91" cy="105.49" r="1.15" fill="#f0b4b4" stroke="#d05050" stroke-width="0.8" opacity="0.8"/>
<circle cx="396.95" cy="109.57" r="1.15" fill="#f0b4b4" stroke="#d05050" stroke-width="0.8" opacity="0.8"/>
<circle cx="397" cy="113.38" r="1.15" fill="#f0b4b4" stroke="#d05050" stroke-width="0.8" opacity="0.8"/>
<circle cx="397.05" cy="116.9" r="1.15" fill="#f0b4b4" stroke="#d05050" stroke-width="0.8" opacity="0.8"/>
<circle cx="397.1" cy="120.16" r="1.15" fill="#f0b4b4" stroke="#d05050" stroke-width="0.8" opacity="0.8"/>
<circle cx="397.15" cy="123.16" r="1.15" fill="#f0b4b4" stroke="#d05050" stroke-width="0.8" opacity="0.8"/>
<circle cx="397.19" cy="125.91" r="1.15" fill="#f0b4b4" stroke="#d05050" stroke-width="0.8" opacity="0.8"/>
<circle cx="397.24" cy="128.42" r="1.15" fill="#f0b4b4" stroke="#d05050" stroke-width="0.8" opacity="0.8"/>
<circle cx="397.34" cy="132.79" r="1.15" fill="#f0b4b4" stroke="#d05050" stroke-width="0.8" opacity="0.8"/>
<circle cx="397.44" cy="136.39" r="1.15" fill="#f0b4b4" stroke="#d05050" stroke-width="0.8" opacity="0.8"/>
<circle cx="397.53" cy="139.34" r="1.15" fill="#f0b4b4" stroke="#d05050" stroke-width="0.8" opacity="0.8"/>
<circle cx="397.63" cy="141.75" r="1.15" fill="#f0b4b4" stroke="#d05050" stroke-width="0.8" opacity="0.8"/>
<circle cx="397.77" cy="144.57" r="1.15" fill="#f0b4b4" stroke="#d05050" stroke-width="0.8" opacity="0.8"/>
<circle cx="397.97" cy="147.28" r="1.15" fill="#f0b4b4" stroke="#d05050" stroke-width="0.8" opacity="0.8"/>
<circle cx="398.25" cy="149.97" r="1.15" fill="#f0b4b4" stroke="#d05050" stroke-width="0.8" opacity="0.8"/>
<circle cx="398.69" cy="152.44" r="1.15" fill="#f0b4b4" stroke="#d05050" stroke-width="0.8" opacity="0.8"/>
<circle cx="399.46" cy="154.8" r="1.15" fill="#f0b4b4" stroke="#d05050" stroke-width="0.8" opacity="0.8"/>
<line x1="396" y1="168.4" x2="396" y2="173.3" stroke="#e88ae8" stroke-width="1.1"/>
<line x1="465.5" y1="168.4" x2="465.5" y2="173.3" stroke="#e88ae8" stroke-width="1.1"/>
<line x1="483.4" y1="168.4" x2="483.4" y2="173.3" stroke="#e88ae8" stroke-width="1.1"/>
<line x1="488.2" y1="168.4" x2="488.2" y2="173.3" stroke="#e88ae8" stroke-width="1.1"/>
<line x1="507.9" y1="168.4" x2="507.9" y2="173.3" stroke="#e88ae8" stroke-width="1.1"/>
<line x1="522" y1="168.4" x2="522" y2="173.3" stroke="#e88ae8" stroke-width="1.1"/>
<line x1="538.8" y1="168.4" x2="538.8" y2="173.3" stroke="#e88ae8" stroke-width="1.1"/>
<line x1="555.6" y1="168.4" x2="555.6" y2="173.3" stroke="#e88ae8" stroke-width="1.1"/>
<line x1="574.6" y1="168.4" x2="574.6" y2="173.3" stroke="#e88ae8" stroke-width="1.1"/>
<line x1="604.2" y1="168.4" x2="604.2" y2="173.3" stroke="#e88ae8" stroke-width="1.1"/>
<line x1="614.5" y1="168.4" x2="614.5" y2="173.3" stroke="#e88ae8" stroke-width="1.1"/>
<line x1="617.5" y1="168.4" x2="617.5" y2="173.3" stroke="#e88ae8" stroke-width="1.1"/>
<line x1="640.5" y1="168.4" x2="640.5" y2="173.3" stroke="#e88ae8" stroke-width="1.1"/>
<line x1="645" y1="168.4" x2="645" y2="173.3" stroke="#e88ae8" stroke-width="1.1"/>
<line x1="654.5" y1="168.4" x2="654.5" y2="173.3" stroke="#e88ae8" stroke-width="1.1"/>
<line x1="658.5" y1="168.4" x2="658.5" y2="173.3" stroke="#e88ae8" stroke-width="1.1"/>
<line x1="670.8" y1="168.4" x2="670.8" y2="173.3" stroke="#e88ae8" stroke-width="1.1"/>
</g>
<path d="M370.7 184.44 L371.23 184.29 L371.75 184.74 L372.28 184.22 L372.8 184.63 L373.33 184.48 L373.85 184.2 L374.38 184.61 L374.9 184.18 L375.43 184.54 L375.96 184.21 L376.48 184.23 L377.01 184.53 L377.53 184.89 L378.06 184.26 L378.58 184.35 L379.11 184.71 L379.64 185 L380.16 184.67 L380.69 184.51 L381.21 185.03 L381.74 184.19 L382.26 184.92 L382.79 184.41 L383.31 184.28 L383.84 184.26 L384.37 184.43 L384.89 184.88 L385.42 184.31 L385.94 184.67 L386.47 184.72 L386.99 184.46 L387.52 184.6 L388.04 184.13 L388.57 184.06 L389.1 184.1 L389.62 184.39 L390.15 183.98 L390.67 183.65 L391.2 183.64 L391.72 183.26 L392.25 182.89 L392.78 183.16 L393.3 182.98 L393.83 182.59 L394.35 183.01 L394.88 183.16 L395.4 183.53 L395.93 181.73 L396.45 182.4 L396.98 184.7 L397.51 184.84 L398.03 185.45 L398.56 185.1 L399.08 184.26 L399.61 184.56 L400.13 184.17 L400.66 184.74 L401.18 184.83 L401.71 184.66 L402.24 184.94 L402.76 184.43 L403.29 184.78 L403.81 184.68 L404.34 184.67 L404.86 184.56 L405.39 184.91 L405.92 185 L406.44 184.58 L406.97 184.75 L407.49 184.2 L408.02 184.78 L408.54 184.73 L409.07 185.04 L409.59 184.89 L410.12 184.41 L410.65 184.5 L411.17 184.75 L411.7 184.17 L412.22 184.57 L412.75 184.3 L413.27 184.26 L413.8 184.2 L414.32 184.84 L414.85 184.27 L415.38 184.37 L415.9 184.5 L416.43 184.93 L416.95 184.22 L417.48 184.55 L418 184.64 L418.53 184.95 L419.06 184.89 L419.58 184.93 L420.11 184.4 L420.63 184.52 L421.16 184.47 L421.68 184.95 L422.21 185.01 L422.73 184.29 L423.26 184.31 L423.79 184.36 L424.31 184.36 L424.84 184.59 L425.36 184.68 L425.89 184.39 L426.41 184.15 L426.94 184.53 L427.46 184.48 L427.99 184.66 L428.52 185.01 L429.04 184.77 L429.57 184.61 L430.09 184.71 L430.62 184.76 L431.14 184.2 L431.67 184.96 L432.2 184.85 L432.72 184.94 L433.25 184.87 L433.77 184.5 L434.3 184.51 L434.82 184.24 L435.35 184.72 L435.87 184.21 L436.4 184.21 L436.93 184.34 L437.45 184.3 L437.98 184.46 L438.5 184.2 L439.03 184.15 L439.55 184.29 L440.08 184.24 L440.6 184.48 L441.13 184.17 L441.66 184.94 L442.18 184.7 L442.71 184.28 L443.23 184.38 L443.76 184.46 L444.28 184.48 L444.81 184.26 L445.34 184.91 L445.86 185.04 L446.39 184.57 L446.91 184.59 L447.44 184.23 L447.96 184.24 L448.49 184.46 L449.01 184.39 L449.54 184.9 L450.07 184.3 L450.59 184.17 L451.12 185.01 L451.64 184.63 L452.17 184.28 L452.69 184.64 L453.22 184.17 L453.74 184.63 L454.27 185.03 L454.8 184.93 L455.32 184.78 L455.85 184.39 L456.37 184.48 L456.9 184.3 L457.42 184.84 L457.95 184.63 L458.48 184.85 L459 184.45 L459.53 184.35 L460.05 184.88 L460.58 185.04 L461.1 184.92 L461.63 184.88 L462.15 184.89 L462.68 184.82 L463.21 184.35 L463.73 184.62 L464.26 184.46 L464.78 184.01 L465.31 183.28 L465.83 183.15 L466.36 184.56 L466.88 186 L467.41 185.62 L467.94 184.63 L468.46 185 L468.99 185.04 L469.51 185.01 L470.04 184.48 L470.56 184.35 L471.09 184.35 L471.62 184.33 L472.14 184.33 L472.67 184.71 L473.19 184.96 L473.72 184.91 L474.24 184.58 L474.77 184.74 L475.29 184.87 L475.82 184.23 L476.35 184.74 L476.87 184.97 L477.4 184.85 L477.92 184.83 L478.45 184.58 L478.97 184.31 L479.5 184.86 L480.02 184.45 L480.55 184.87 L481.08 185 L481.6 184.17 L482.13 183.32 L482.65 183.92 L483.18 185.21 L483.7 185.68 L484.23 185 L484.76 184.39 L485.28 184.97 L485.81 184.86 L486.33 184.13 L486.86 184.27 L487.38 183.8 L487.91 183.75 L488.43 184.68 L488.96 185.7 L489.49 185.09 L490.01 184.45 L490.54 185.07 L491.06 184.74 L491.59 184.62 L492.11 184.99 L492.64 184.54 L493.16 184.93 L493.69 184.89 L494.22 184.34 L494.74 184.38 L495.27 184.41 L495.79 184.37 L496.32 184.68 L496.84 184.38 L497.37 184.53 L497.9 184.27 L498.42 184.97 L498.95 184.47 L499.47 184.56 L500 184.68 L500.52 184.96 L501.05 184.53 L501.57 184.98 L502.1 184.6 L502.63 184.63 L503.15 184.62 L503.68 184.17 L504.2 184.55 L504.73 184.31 L505.25 184.15 L505.78 184.87 L506.3 184.31 L506.83 184.58 L507.36 184.8 L507.88 184.65 L508.41 184.44 L508.93 184.62 L509.46 184.65 L509.98 184.86 L510.51 184.24 L511.04 184.65 L511.56 184.37 L512.09 184.39 L512.61 184.83 L513.14 184.57 L513.66 184.59 L514.19 184.71 L514.71 184.76 L515.24 184.2 L515.77 184.18 L516.29 183.87 L516.82 183.62 L517.34 183.52 L517.87 183.06 L518.39 182.95 L518.92 182.79 L519.44 183.21 L519.97 183.09 L520.5 183.44 L521.02 183.74 L521.55 183.39 L522.07 183.92 L522.6 184.5 L523.12 184.65 L523.65 184.36 L524.18 184.84 L524.7 185.68 L525.23 185.67 L525.75 185.69 L526.28 185.08 L526.8 185.16 L527.33 185 L527.85 184.99 L528.38 184.3 L528.91 184.8 L529.43 184.74 L529.96 184.28 L530.48 184.94 L531.01 185.02 L531.53 184.35 L532.06 185.01 L532.58 184.51 L533.11 184.59 L533.64 185.04 L534.16 184.9 L534.69 184.3 L535.21 184.54 L535.74 184.61 L536.26 184.46 L536.79 184.33 L537.32 184.44 L537.84 184.8 L538.37 184.17 L538.89 184.65 L539.42 184.55 L539.94 184.17 L540.47 184.45 L540.99 184.71 L541.52 184.61 L542.05 184.21 L542.57 185.04 L543.1 184.86 L543.62 185.02 L544.15 184.24 L544.67 184.39 L545.2 184.19 L545.72 184.85 L546.25 184.39 L546.78 184.27 L547.3 184.53 L547.83 184.97 L548.35 184.89 L548.88 184.38 L549.4 184.28 L549.93 184.98 L550.46 184.66 L550.98 184.78 L551.51 184.23 L552.03 184.2 L552.56 184.77 L553.08 184.53 L553.61 184.22 L554.13 184.99 L554.66 184.72 L555.19 184.87 L555.71 184.23 L556.24 184.92 L556.76 184.21 L557.29 184.93 L557.81 184.56 L558.34 184.46 L558.86 184.65 L559.39 184.98 L559.92 184.39 L560.44 184.27 L560.97 184.62 L561.49 184.36 L562.02 184.25 L562.54 184.3 L563.07 184.2 L563.6 184.33 L564.12 184.43 L564.65 184.42 L565.17 184.83 L565.7 184.41 L566.22 184.6 L566.75 184.31 L567.27 184.46 L567.8 184.17 L568.33 184.38 L568.85 184.16 L569.38 184.81 L569.9 184.65 L570.43 184.32 L570.95 184.58 L571.48 184.99 L572 184.25 L572.53 184.89 L573.06 184.54 L573.58 184.6 L574.11 184.9 L574.63 184.5 L575.16 184.61 L575.68 184.77 L576.21 185.03 L576.74 184.46 L577.26 184.9 L577.79 184.79 L578.31 184.72 L578.84 184.51 L579.36 184.46 L579.89 184.2 L580.41 184.27 L580.94 184.21 L581.47 184.82 L581.99 184.38 L582.52 184.3 L583.04 184.23 L583.57 184.91 L584.09 184.93 L584.62 184.75 L585.14 184.4 L585.67 184.37 L586.2 184.41 L586.72 184.56 L587.25 184.29 L587.77 184.55 L588.3 184.39 L588.82 185.02 L589.35 185.03 L589.88 184.64 L590.4 184.37 L590.93 185.02 L591.45 184.43 L591.98 184.47 L592.5 184.15 L593.03 184.49 L593.55 184.58 L594.08 184.6 L594.61 184.33 L595.13 184.6 L595.66 184.15 L596.18 184.39 L596.71 184.23 L597.23 184.51 L597.76 184.19 L598.28 184.17 L598.81 184.42 L599.34 184.36 L599.86 184.68 L600.39 184.63 L600.91 184.83 L601.44 184.74 L601.96 184.79 L602.49 184.94 L603.02 184.5 L603.54 184.09 L604.07 182.64 L604.59 183.68 L605.12 187.52 L605.64 186.06 L606.17 184.23 L606.69 184.9 L607.22 184.95 L607.75 184.71 L608.27 184.81 L608.8 184.88 L609.32 184.28 L609.85 184.62 L610.37 184.6 L610.9 184.9 L611.42 184.87 L611.95 184.89 L612.48 184.68 L613 184.99 L613.53 184.91 L614.05 185.19 L614.58 185.23 L615.1 185.52 L615.63 185.76 L616.16 185.68 L616.68 184.95 L617.21 185.2 L617.73 184.75 L618.26 184.74 L618.78 184.72 L619.31 184.76 L619.83 184.59 L620.36 184.15 L620.89 184.87 L621.41 184.82 L621.94 184.6 L622.46 184.63 L622.99 184.74 L623.51 184.21 L624.04 184.81 L624.56 184.38 L625.09 184.22 L625.62 184.39 L626.14 184.81 L626.67 184.33 L627.19 184.82 L627.72 185.03 L628.24 184.59 L628.77 184.49 L629.3 184.58 L629.82 184.77 L630.35 184.84 L630.87 184.71 L631.4 184.73 L631.92 184.22 L632.45 184.28 L632.97 184.38 L633.5 184.82 L634.03 184.42 L634.55 184.66 L635.08 184.16 L635.6 184.2 L636.13 184.39 L636.65 184.75 L637.18 184.77 L637.7 184.76 L638.23 184.41 L638.76 184.61 L639.28 184.57 L639.81 184.57 L640.33 184.26 L640.86 184.95 L641.38 184.33 L641.91 185.03 L642.44 184.99 L642.96 184.17 L643.49 184.56 L644.01 184.89 L644.54 185.02 L645.06 184.55 L645.59 184.39 L646.11 184.34 L646.64 185 L647.17 184.34 L647.69 184.67 L648.22 184.28 L648.74 184.62 L649.27 185.01 L649.79 184.27 L650.32 184.89 L650.84 184.61 L651.37 184.95 L651.9 184.78 L652.42 184.36 L652.95 184.96 L653.47 184.59 L654 184.17 L654.52 184.15 L655.05 184.59 L655.58 184.56 L656.1 184.42 L656.63 184.28 L657.15 184.46 L657.68 184.43 L658.2 184.91 L658.73 184.15 L659.25 184.83 L659.78 184.91 L660.31 184.26 L660.83 184.98 L661.36 184.79 L661.88 184.96 L662.41 184.41 L662.93 184.48 L663.46 184.5 L663.98 185.05 L664.51 184.68 L665.04 184.47 L665.56 184.54 L666.09 184.4 L666.61 184.19 L667.14 184.24 L667.66 184.9 L668.19 184.41 L668.72 184.99 L669.24 184.37 L669.77 184.39 L670.29 184.61 L670.82 184.32 L671.34 184.49 L671.87 185.01 L672.39 184.95 L672.92 184.88 L673.45 184.72 L673.97 184.97 L674.5 185 L675.02 184.64 L675.55 184.8 L676.07 184.19 L676.6 184.81 L677.12 184.56" fill="none" stroke="#2a2ac8" stroke-width="1.25" stroke-linejoin="round"/>
<line x1="395.9" y1="176" x2="395.9" y2="183" stroke="#8a8ae8" stroke-width="1.0"/>
<rect x="370.7" y="13.1" width="306.6" height="196" fill="none" stroke="#4a4a4a" stroke-width="1.1"/>
<line x1="370.7" y1="209.1" x2="370.7" y2="212.3" stroke="#4a4a4a" stroke-width="1"/>
<text x="371" y="227.1" text-anchor="middle" class="tk">10</text>
<line x1="392.6" y1="209.1" x2="392.6" y2="210.9" stroke="#4a4a4a" stroke-width="1"/>
<line x1="414.5" y1="209.1" x2="414.5" y2="212.3" stroke="#4a4a4a" stroke-width="1"/>
<text x="414.8" y="227.1" text-anchor="middle" class="tk">20</text>
<line x1="436.4" y1="209.1" x2="436.4" y2="210.9" stroke="#4a4a4a" stroke-width="1"/>
<line x1="458.3" y1="209.1" x2="458.3" y2="212.3" stroke="#4a4a4a" stroke-width="1"/>
<text x="458.6" y="227.1" text-anchor="middle" class="tk">30</text>
<line x1="480.2" y1="209.1" x2="480.2" y2="210.9" stroke="#4a4a4a" stroke-width="1"/>
<line x1="502.1" y1="209.1" x2="502.1" y2="212.3" stroke="#4a4a4a" stroke-width="1"/>
<text x="502.4" y="227.1" text-anchor="middle" class="tk">40</text>
<line x1="524" y1="209.1" x2="524" y2="210.9" stroke="#4a4a4a" stroke-width="1"/>
<line x1="545.9" y1="209.1" x2="545.9" y2="212.3" stroke="#4a4a4a" stroke-width="1"/>
<text x="546.2" y="227.1" text-anchor="middle" class="tk">50</text>
<line x1="567.8" y1="209.1" x2="567.8" y2="210.9" stroke="#4a4a4a" stroke-width="1"/>
<line x1="589.7" y1="209.1" x2="589.7" y2="212.3" stroke="#4a4a4a" stroke-width="1"/>
<text x="590" y="227.1" text-anchor="middle" class="tk">60</text>
<line x1="611.6" y1="209.1" x2="611.6" y2="210.9" stroke="#4a4a4a" stroke-width="1"/>
<line x1="633.5" y1="209.1" x2="633.5" y2="212.3" stroke="#4a4a4a" stroke-width="1"/>
<text x="633.8" y="227.1" text-anchor="middle" class="tk">70</text>
<line x1="655.4" y1="209.1" x2="655.4" y2="210.9" stroke="#4a4a4a" stroke-width="1"/>
<line x1="677.3" y1="209.1" x2="677.3" y2="212.3" stroke="#4a4a4a" stroke-width="1"/>
<text x="677.6" y="227.1" text-anchor="middle" class="tk">80</text>
<line x1="575" y1="31.9" x2="595" y2="31.9" stroke="#a0a0a0" stroke-width="0.9"/>
<circle cx="585.5" cy="43.2" r="1.4" fill="#f2a0a0"/>
<line x1="585.5" y1="52.8" x2="585.5" y2="58" stroke="#f0a8f0" stroke-width="1"/>
<line x1="575" y1="67.5" x2="595" y2="67.5" stroke="#8c8ce0" stroke-width="0.9"/>
<text x="600.2" y="34.7" class="lg">Observed</text>
<text x="600.2" y="46.7" class="lg">Calculated</text>
<text x="600.2" y="58.7" class="lg">Bragg position</text>
<text x="600.2" y="70.7" class="lg">Difference</text>
<text transform="translate(360.3 110.3) rotate(-90)" text-anchor="middle" class="yl" textLength="83.3" lengthAdjust="spacingAndGlyphs">Intensity (a.u.)</text>
<text x="523.5" y="247.2" class="xl" text-anchor="middle">2<tspan font-style="italic">&#952;</tspan> (&#176;)</text>
<polygon points="45.3,284.2 137.4,284.2 129.7,302.1 37.3,302.1" fill="#4848e8"/>
<polygon points="45.3,284.2 40.3,302.1 60.3,302.1" fill="#3030b8" opacity="0.45"/>
<polygon points="68.3,284.2 63.3,302.1 83.5,302.1" fill="#3030b8" opacity="0.45"/>
<polygon points="91.3,284.2 86.5,302.1 106.6,302.1" fill="#3030b8" opacity="0.45"/>
<polygon points="114.3,284.2 109.6,302.1 129.7,302.1" fill="#3030b8" opacity="0.45"/>
<circle cx="53.3" cy="292.6" r="4" fill="url(#gti)"/>
<circle cx="76.2" cy="292.6" r="4" fill="url(#gti)"/>
<circle cx="99.1" cy="292.6" r="4" fill="url(#gti)"/>
<circle cx="121.8" cy="292.6" r="4" fill="url(#gti)"/>
<circle cx="45.3" cy="284.2" r="2.5" fill="url(#gred)"/>
<circle cx="68.3" cy="284.2" r="2.5" fill="url(#gred)"/>
<circle cx="91.3" cy="284.2" r="2.5" fill="url(#gred)"/>
<circle cx="114.3" cy="284.2" r="2.5" fill="url(#gred)"/>
<circle cx="137.4" cy="284.2" r="2.5" fill="url(#gred)"/>
<circle cx="37.3" cy="302.1" r="2.5" fill="url(#gred)"/>
<circle cx="60.3" cy="302.1" r="2.5" fill="url(#gred)"/>
<circle cx="83.5" cy="302.1" r="2.5" fill="url(#gred)"/>
<circle cx="106.6" cy="302.1" r="2.5" fill="url(#gred)"/>
<circle cx="129.7" cy="302.1" r="2.5" fill="url(#gred)"/>
<polygon points="37.2,333.9 129.2,333.9 137.6,352.1 45.4,352.1" fill="#4848e8"/>
<polygon points="60.3,333.9 47.4,352.1 68.3,352.1" fill="#3030b8" opacity="0.45"/>
<polygon points="83.8,333.9 70.3,352.1 91.1,352.1" fill="#3030b8" opacity="0.45"/>
<polygon points="107,333.9 93.1,352.1 114.4,352.1" fill="#3030b8" opacity="0.45"/>
<polygon points="129.2,333.9 116.4,352.1 137.6,352.1" fill="#3030b8" opacity="0.45"/>
<circle cx="53.2" cy="342.2" r="4" fill="url(#gti)"/>
<circle cx="76.3" cy="342.2" r="4" fill="url(#gti)"/>
<circle cx="99.3" cy="342.2" r="4" fill="url(#gti)"/>
<circle cx="122.1" cy="342.2" r="4" fill="url(#gti)"/>
<circle cx="37.2" cy="333.9" r="2.5" fill="url(#gred)"/>
<circle cx="60.3" cy="333.9" r="2.5" fill="url(#gred)"/>
<circle cx="83.8" cy="333.9" r="2.5" fill="url(#gred)"/>
<circle cx="107" cy="333.9" r="2.5" fill="url(#gred)"/>
<circle cx="129.2" cy="333.9" r="2.5" fill="url(#gred)"/>
<circle cx="45.4" cy="352.1" r="2.5" fill="url(#gred)"/>
<circle cx="68.3" cy="352.1" r="2.5" fill="url(#gred)"/>
<circle cx="91.1" cy="352.1" r="2.5" fill="url(#gred)"/>
<circle cx="114.4" cy="352.1" r="2.5" fill="url(#gred)"/>
<circle cx="137.6" cy="352.1" r="2.5" fill="url(#gred)"/>
<polygon points="45.4,383.8 137.6,383.8 129.2,402.5 37.2,402.5" fill="#4848e8"/>
<polygon points="45.4,383.8 40.2,402.5 60.3,402.5" fill="#3030b8" opacity="0.45"/>
<polygon points="68.3,383.8 63.3,402.5 84,402.5" fill="#3030b8" opacity="0.45"/>
<polygon points="91.1,383.8 87,402.5 107,402.5" fill="#3030b8" opacity="0.45"/>
<polygon points="114.4,383.8 110,402.5 129.2,402.5" fill="#3030b8" opacity="0.45"/>
<circle cx="53.2" cy="393.2" r="4" fill="url(#gti)"/>
<circle cx="76.3" cy="393.2" r="4" fill="url(#gti)"/>
<circle cx="99.3" cy="393.2" r="4" fill="url(#gti)"/>
<circle cx="122.1" cy="393.2" r="4" fill="url(#gti)"/>
<circle cx="45.4" cy="383.8" r="2.5" fill="url(#gred)"/>
<circle cx="68.3" cy="383.8" r="2.5" fill="url(#gred)"/>
<circle cx="91.1" cy="383.8" r="2.5" fill="url(#gred)"/>
<circle cx="114.4" cy="383.8" r="2.5" fill="url(#gred)"/>
<circle cx="137.6" cy="383.8" r="2.5" fill="url(#gred)"/>
<circle cx="37.2" cy="402.5" r="2.5" fill="url(#gred)"/>
<circle cx="60.3" cy="402.5" r="2.5" fill="url(#gred)"/>
<circle cx="84" cy="402.5" r="2.5" fill="url(#gred)"/>
<circle cx="107" cy="402.5" r="2.5" fill="url(#gred)"/>
<circle cx="129.2" cy="402.5" r="2.5" fill="url(#gred)"/>
<circle cx="45.3" cy="317.9" r="3.7" fill="url(#gyel)"/>
<circle cx="53.3" cy="317.9" r="3.7" fill="url(#ggrn)"/>
<circle cx="67.7" cy="317.9" r="3.7" fill="url(#gyel)"/>
<circle cx="76.1" cy="317.9" r="3.7" fill="url(#ggrn)"/>
<circle cx="91" cy="317.9" r="3.7" fill="url(#gyel)"/>
<circle cx="99" cy="317.9" r="3.7" fill="url(#ggrn)"/>
<circle cx="113.9" cy="317.9" r="3.7" fill="url(#gyel)"/>
<circle cx="121.9" cy="317.9" r="3.7" fill="url(#ggrn)"/>
<circle cx="53.2" cy="367.7" r="3.7" fill="url(#ggrn)"/>
<circle cx="60.3" cy="367.7" r="3.7" fill="url(#gyel)"/>
<circle cx="76.5" cy="367.7" r="3.7" fill="url(#ggrn)"/>
<circle cx="83.8" cy="367.7" r="3.7" fill="url(#gyel)"/>
<circle cx="98.8" cy="367.7" r="3.7" fill="url(#ggrn)"/>
<circle cx="106.6" cy="367.7" r="3.7" fill="url(#gyel)"/>
<circle cx="121.7" cy="367.7" r="3.7" fill="url(#ggrn)"/>
<circle cx="129.2" cy="367.7" r="3.7" fill="url(#gyel)"/>
<line x1="140" y1="284.2" x2="147.5" y2="284.2" stroke="#8a8a8a" stroke-width="0.8" stroke-dasharray="1.2 1"/>
<text x="149.3" y="289" class="ab">A</text>
<line x1="132.3" y1="302.1" x2="147.5" y2="302.1" stroke="#8a8a8a" stroke-width="0.8" stroke-dasharray="1.2 1"/>
<text x="149.3" y="305.7" class="ab">B</text>
<line x1="131.8" y1="333.9" x2="147.5" y2="333.9" stroke="#8a8a8a" stroke-width="0.8" stroke-dasharray="1.2 1"/>
<text x="149.3" y="337.7" class="ab">B</text>
<line x1="140.2" y1="352.1" x2="147.5" y2="352.1" stroke="#8a8a8a" stroke-width="0.8" stroke-dasharray="1.2 1"/>
<text x="149.3" y="355.4" class="ab">A</text>
<line x1="140.2" y1="383.8" x2="147.5" y2="383.8" stroke="#8a8a8a" stroke-width="0.8" stroke-dasharray="1.2 1"/>
<text x="149.3" y="387.5" class="ab">A</text>
<line x1="131.8" y1="402.5" x2="147.5" y2="402.5" stroke="#8a8a8a" stroke-width="0.8" stroke-dasharray="1.2 1"/>
<text x="149.3" y="405.6" class="ab">B</text>
<line x1="28.5" y1="402" x2="28.5" y2="391" stroke="#6a6ae8" stroke-width="1"/>
<polygon points="26.9,391.5 30.1,391.5 28.5,386" fill="#4040e0"/>
<line x1="28.5" y1="402" x2="21" y2="402" stroke="#60b060" stroke-width="1"/>
<polygon points="21.5,400.4 21.5,403.6 16,402" fill="#109010"/>
<circle cx="28.5" cy="402" r="1.9" fill="url(#gred)"/>
<text x="28.6" y="383.5" class="ax" fill="#6060d0" text-anchor="middle">c</text>
<text x="10.8" y="404.6" class="ax" fill="#308030" text-anchor="middle" style="font-size:7px">b</text>
<polygon points="185.6,311.6 198.37,304 211.14,311.6 223.91,304 236.68,311.6 249.45,304 262.22,311.6 274.99,304 287.76,311.6 287.76,326.45 300.53,333.7 300.53,348.55 313.3,356.15 313.3,371 326.07,378.25 326.07,393.1 313.3,400.7 300.53,393.1 287.76,400.7 274.99,393.1 262.22,400.7 249.45,393.1 236.68,400.7 223.91,393.1 223.91,378.25 211.14,371 211.14,356.15 198.37,348.55 198.37,333.7 185.6,326.45" fill="#3c38d2" stroke="#3a36c8" stroke-width="0.8" stroke-linejoin="round"/>
<clipPath id="clipc"><polygon points="185.6,311.6 198.37,304 211.14,311.6 223.91,304 236.68,311.6 249.45,304 262.22,311.6 274.99,304 287.76,311.6 287.76,326.45 300.53,333.7 300.53,348.55 313.3,356.15 313.3,371 326.07,378.25 326.07,393.1 313.3,400.7 300.53,393.1 287.76,400.7 274.99,393.1 262.22,400.7 249.45,393.1 236.68,400.7 223.91,393.1 223.91,378.25 211.14,371 211.14,356.15 198.37,348.55 198.37,333.7 185.6,326.45"/></clipPath>
<g clip-path="url(#clipc)">
<polygon points="198.37,304 185.6,326.28 211.14,326.28" fill="#4c48ee"/>
<polygon points="211.14,326.45 198.37,348.73 223.91,348.73" fill="#4c48ee"/>
<polygon points="223.91,304 211.14,326.28 236.68,326.28" fill="#4c48ee"/>
<polygon points="223.91,348.55 211.14,370.82 236.68,370.82" fill="#4c48ee"/>
<polygon points="236.68,326.45 223.91,348.73 249.45,348.73" fill="#4c48ee"/>
<polygon points="236.68,371 223.91,393.28 249.45,393.28" fill="#4c48ee"/>
<polygon points="249.45,304 236.68,326.28 262.22,326.28" fill="#4c48ee"/>
<polygon points="249.45,348.55 236.68,370.82 262.22,370.82" fill="#4c48ee"/>
<polygon points="262.22,326.45 249.45,348.73 274.99,348.73" fill="#4c48ee"/>
<polygon points="262.22,371 249.45,393.28 274.99,393.28" fill="#4c48ee"/>
<polygon points="274.99,304 262.22,326.28 287.76,326.28" fill="#4c48ee"/>
<polygon points="274.99,348.55 262.22,370.82 287.76,370.82" fill="#4c48ee"/>
<polygon points="287.76,326.45 274.99,348.73 300.53,348.73" fill="#4c48ee"/>
<polygon points="287.76,371 274.99,393.28 300.53,393.28" fill="#4c48ee"/>
<polygon points="300.53,348.55 287.76,370.82 313.3,370.82" fill="#4c48ee"/>
<polygon points="313.3,371 300.53,393.28 326.07,393.28" fill="#4c48ee"/>
<line x1="185.6" y1="311.6" x2="185.6" y2="326.45" stroke="#2a28a8" stroke-width="1.3" opacity="0.6"/>
<line x1="185.6" y1="311.6" x2="172.83" y2="304.18" stroke="#2a28a8" stroke-width="0.9" opacity="0.45"/>
<line x1="185.6" y1="311.6" x2="198.37" y2="304.18" stroke="#2a28a8" stroke-width="0.9" opacity="0.45"/>
<line x1="198.37" y1="333.7" x2="198.37" y2="348.55" stroke="#2a28a8" stroke-width="1.3" opacity="0.6"/>
<line x1="198.37" y1="333.7" x2="185.6" y2="326.27" stroke="#2a28a8" stroke-width="0.9" opacity="0.45"/>
<line x1="198.37" y1="333.7" x2="211.14" y2="326.27" stroke="#2a28a8" stroke-width="0.9" opacity="0.45"/>
<line x1="211.14" y1="311.6" x2="211.14" y2="326.45" stroke="#2a28a8" stroke-width="1.3" opacity="0.6"/>
<line x1="211.14" y1="311.6" x2="198.37" y2="304.18" stroke="#2a28a8" stroke-width="0.9" opacity="0.45"/>
<line x1="211.14" y1="311.6" x2="223.91" y2="304.18" stroke="#2a28a8" stroke-width="0.9" opacity="0.45"/>
<line x1="211.14" y1="356.15" x2="211.14" y2="371" stroke="#2a28a8" stroke-width="1.3" opacity="0.6"/>
<line x1="211.14" y1="356.15" x2="198.37" y2="348.73" stroke="#2a28a8" stroke-width="0.9" opacity="0.45"/>
<line x1="211.14" y1="356.15" x2="223.91" y2="348.73" stroke="#2a28a8" stroke-width="0.9" opacity="0.45"/>
<line x1="223.91" y1="333.7" x2="223.91" y2="348.55" stroke="#2a28a8" stroke-width="1.3" opacity="0.6"/>
<line x1="223.91" y1="333.7" x2="211.14" y2="326.27" stroke="#2a28a8" stroke-width="0.9" opacity="0.45"/>
<line x1="223.91" y1="333.7" x2="236.68" y2="326.27" stroke="#2a28a8" stroke-width="0.9" opacity="0.45"/>
<line x1="223.91" y1="378.25" x2="223.91" y2="393.1" stroke="#2a28a8" stroke-width="1.3" opacity="0.6"/>
<line x1="223.91" y1="378.25" x2="211.14" y2="370.82" stroke="#2a28a8" stroke-width="0.9" opacity="0.45"/>
<line x1="223.91" y1="378.25" x2="236.68" y2="370.82" stroke="#2a28a8" stroke-width="0.9" opacity="0.45"/>
<line x1="236.68" y1="311.6" x2="236.68" y2="326.45" stroke="#2a28a8" stroke-width="1.3" opacity="0.6"/>
<line x1="236.68" y1="311.6" x2="223.91" y2="304.18" stroke="#2a28a8" stroke-width="0.9" opacity="0.45"/>
<line x1="236.68" y1="311.6" x2="249.45" y2="304.18" stroke="#2a28a8" stroke-width="0.9" opacity="0.45"/>
<line x1="236.68" y1="356.15" x2="236.68" y2="371" stroke="#2a28a8" stroke-width="1.3" opacity="0.6"/>
<line x1="236.68" y1="356.15" x2="223.91" y2="348.73" stroke="#2a28a8" stroke-width="0.9" opacity="0.45"/>
<line x1="236.68" y1="356.15" x2="249.45" y2="348.73" stroke="#2a28a8" stroke-width="0.9" opacity="0.45"/>
<line x1="236.68" y1="400.7" x2="236.68" y2="415.55" stroke="#2a28a8" stroke-width="1.3" opacity="0.6"/>
<line x1="236.68" y1="400.7" x2="223.91" y2="393.28" stroke="#2a28a8" stroke-width="0.9" opacity="0.45"/>
<line x1="236.68" y1="400.7" x2="249.45" y2="393.28" stroke="#2a28a8" stroke-width="0.9" opacity="0.45"/>
<line x1="249.45" y1="333.7" x2="249.45" y2="348.55" stroke="#2a28a8" stroke-width="1.3" opacity="0.6"/>
<line x1="249.45" y1="333.7" x2="236.68" y2="326.27" stroke="#2a28a8" stroke-width="0.9" opacity="0.45"/>
<line x1="249.45" y1="333.7" x2="262.22" y2="326.27" stroke="#2a28a8" stroke-width="0.9" opacity="0.45"/>
<line x1="249.45" y1="378.25" x2="249.45" y2="393.1" stroke="#2a28a8" stroke-width="1.3" opacity="0.6"/>
<line x1="249.45" y1="378.25" x2="236.68" y2="370.82" stroke="#2a28a8" stroke-width="0.9" opacity="0.45"/>
<line x1="249.45" y1="378.25" x2="262.22" y2="370.82" stroke="#2a28a8" stroke-width="0.9" opacity="0.45"/>
<line x1="262.22" y1="311.6" x2="262.22" y2="326.45" stroke="#2a28a8" stroke-width="1.3" opacity="0.6"/>
<line x1="262.22" y1="311.6" x2="249.45" y2="304.18" stroke="#2a28a8" stroke-width="0.9" opacity="0.45"/>
<line x1="262.22" y1="311.6" x2="274.99" y2="304.18" stroke="#2a28a8" stroke-width="0.9" opacity="0.45"/>
<line x1="262.22" y1="356.15" x2="262.22" y2="371" stroke="#2a28a8" stroke-width="1.3" opacity="0.6"/>
<line x1="262.22" y1="356.15" x2="249.45" y2="348.73" stroke="#2a28a8" stroke-width="0.9" opacity="0.45"/>
<line x1="262.22" y1="356.15" x2="274.99" y2="348.73" stroke="#2a28a8" stroke-width="0.9" opacity="0.45"/>
<line x1="262.22" y1="400.7" x2="262.22" y2="415.55" stroke="#2a28a8" stroke-width="1.3" opacity="0.6"/>
<line x1="262.22" y1="400.7" x2="249.45" y2="393.28" stroke="#2a28a8" stroke-width="0.9" opacity="0.45"/>
<line x1="262.22" y1="400.7" x2="274.99" y2="393.28" stroke="#2a28a8" stroke-width="0.9" opacity="0.45"/>
<line x1="274.99" y1="333.7" x2="274.99" y2="348.55" stroke="#2a28a8" stroke-width="1.3" opacity="0.6"/>
<line x1="274.99" y1="333.7" x2="262.22" y2="326.27" stroke="#2a28a8" stroke-width="0.9" opacity="0.45"/>
<line x1="274.99" y1="333.7" x2="287.76" y2="326.27" stroke="#2a28a8" stroke-width="0.9" opacity="0.45"/>
<line x1="274.99" y1="378.25" x2="274.99" y2="393.1" stroke="#2a28a8" stroke-width="1.3" opacity="0.6"/>
<line x1="274.99" y1="378.25" x2="262.22" y2="370.82" stroke="#2a28a8" stroke-width="0.9" opacity="0.45"/>
<line x1="274.99" y1="378.25" x2="287.76" y2="370.82" stroke="#2a28a8" stroke-width="0.9" opacity="0.45"/>
<line x1="287.76" y1="311.6" x2="287.76" y2="326.45" stroke="#2a28a8" stroke-width="1.3" opacity="0.6"/>
<line x1="287.76" y1="311.6" x2="274.99" y2="304.18" stroke="#2a28a8" stroke-width="0.9" opacity="0.45"/>
<line x1="287.76" y1="311.6" x2="300.53" y2="304.18" stroke="#2a28a8" stroke-width="0.9" opacity="0.45"/>
<line x1="287.76" y1="356.15" x2="287.76" y2="371" stroke="#2a28a8" stroke-width="1.3" opacity="0.6"/>
<line x1="287.76" y1="356.15" x2="274.99" y2="348.73" stroke="#2a28a8" stroke-width="0.9" opacity="0.45"/>
<line x1="287.76" y1="356.15" x2="300.53" y2="348.73" stroke="#2a28a8" stroke-width="0.9" opacity="0.45"/>
<line x1="287.76" y1="400.7" x2="287.76" y2="415.55" stroke="#2a28a8" stroke-width="1.3" opacity="0.6"/>
<line x1="287.76" y1="400.7" x2="274.99" y2="393.28" stroke="#2a28a8" stroke-width="0.9" opacity="0.45"/>
<line x1="287.76" y1="400.7" x2="300.53" y2="393.28" stroke="#2a28a8" stroke-width="0.9" opacity="0.45"/>
<line x1="300.53" y1="333.7" x2="300.53" y2="348.55" stroke="#2a28a8" stroke-width="1.3" opacity="0.6"/>
<line x1="300.53" y1="333.7" x2="287.76" y2="326.27" stroke="#2a28a8" stroke-width="0.9" opacity="0.45"/>
<line x1="300.53" y1="333.7" x2="313.3" y2="326.27" stroke="#2a28a8" stroke-width="0.9" opacity="0.45"/>
<line x1="300.53" y1="378.25" x2="300.53" y2="393.1" stroke="#2a28a8" stroke-width="1.3" opacity="0.6"/>
<line x1="300.53" y1="378.25" x2="287.76" y2="370.82" stroke="#2a28a8" stroke-width="0.9" opacity="0.45"/>
<line x1="300.53" y1="378.25" x2="313.3" y2="370.82" stroke="#2a28a8" stroke-width="0.9" opacity="0.45"/>
<line x1="313.3" y1="356.15" x2="313.3" y2="371" stroke="#2a28a8" stroke-width="1.3" opacity="0.6"/>
<line x1="313.3" y1="356.15" x2="300.53" y2="348.73" stroke="#2a28a8" stroke-width="0.9" opacity="0.45"/>
<line x1="313.3" y1="356.15" x2="326.07" y2="348.73" stroke="#2a28a8" stroke-width="0.9" opacity="0.45"/>
<line x1="313.3" y1="400.7" x2="313.3" y2="415.55" stroke="#2a28a8" stroke-width="1.3" opacity="0.6"/>
<line x1="313.3" y1="400.7" x2="300.53" y2="393.28" stroke="#2a28a8" stroke-width="0.9" opacity="0.45"/>
<line x1="313.3" y1="400.7" x2="326.07" y2="393.28" stroke="#2a28a8" stroke-width="0.9" opacity="0.45"/>
<line x1="326.07" y1="378.25" x2="326.07" y2="393.1" stroke="#2a28a8" stroke-width="1.3" opacity="0.6"/>
<line x1="326.07" y1="378.25" x2="313.3" y2="370.82" stroke="#2a28a8" stroke-width="0.9" opacity="0.45"/>
<line x1="326.07" y1="378.25" x2="338.84" y2="370.82" stroke="#2a28a8" stroke-width="0.9" opacity="0.45"/>
</g>
<circle cx="198.37" cy="304" r="3.6" fill="url(#gyel)"/>
<circle cx="223.91" cy="304" r="3.6" fill="url(#gyel)"/>
<circle cx="249.45" cy="304" r="3.6" fill="url(#gyel)"/>
<circle cx="274.99" cy="304" r="3.6" fill="url(#gyel)"/>
<circle cx="185.6" cy="326.45" r="3.6" fill="url(#gyel)"/>
<circle cx="211.14" cy="326.45" r="2.8" fill="#7070c4" opacity="0.75"/>
<circle cx="236.68" cy="326.45" r="2.8" fill="#7070c4" opacity="0.75"/>
<circle cx="262.22" cy="326.45" r="2.8" fill="#7070c4" opacity="0.75"/>
<circle cx="287.76" cy="326.45" r="2.6" fill="#7a7ac0"/>
<circle cx="289.26" cy="326.45" r="2.4" fill="url(#gyel)"/>
<circle cx="198.37" cy="348.55" r="3.6" fill="url(#gyel)"/>
<circle cx="223.91" cy="348.55" r="2.8" fill="#7070c4" opacity="0.75"/>
<circle cx="249.45" cy="348.55" r="2.8" fill="#7070c4" opacity="0.75"/>
<circle cx="274.99" cy="348.55" r="2.8" fill="#7070c4" opacity="0.75"/>
<circle cx="300.53" cy="348.55" r="2.6" fill="#7a7ac0"/>
<circle cx="302.03" cy="348.55" r="2.4" fill="url(#gyel)"/>
<circle cx="211.14" cy="371" r="3.6" fill="url(#gyel)"/>
<circle cx="236.68" cy="371" r="2.8" fill="#7070c4" opacity="0.75"/>
<circle cx="262.22" cy="371" r="2.8" fill="#7070c4" opacity="0.75"/>
<circle cx="287.76" cy="371" r="2.8" fill="#7070c4" opacity="0.75"/>
<circle cx="313.3" cy="371" r="2.6" fill="#7a7ac0"/>
<circle cx="314.8" cy="371" r="2.4" fill="url(#gyel)"/>
<circle cx="223.91" cy="393.1" r="3.6" fill="url(#gyel)"/>
<circle cx="249.45" cy="393.1" r="2.6" fill="#7a7ac0"/>
<circle cx="250.95" cy="393.1" r="2.4" fill="url(#gyel)"/>
<circle cx="274.99" cy="393.1" r="2.6" fill="#7a7ac0"/>
<circle cx="276.49" cy="393.1" r="2.4" fill="url(#gyel)"/>
<circle cx="300.53" cy="393.1" r="2.6" fill="#7a7ac0"/>
<circle cx="302.03" cy="393.1" r="2.4" fill="url(#gyel)"/>
<circle cx="326.07" cy="393.1" r="2.6" fill="#7a7ac0"/>
<circle cx="327.57" cy="393.1" r="2.4" fill="url(#gyel)"/>
<circle cx="185.6" cy="311.6" r="3.5" fill="url(#gyel)"/>
<circle cx="198.37" cy="318.85" r="4" fill="url(#ggrn)"/>
<circle cx="198.37" cy="333.7" r="3.5" fill="url(#gyel)"/>
<circle cx="211.14" cy="311.6" r="3.5" fill="url(#gyel)"/>
<circle cx="211.14" cy="341.3" r="4" fill="url(#ggrn)"/>
<circle cx="211.14" cy="356.15" r="3.5" fill="url(#gyel)"/>
<circle cx="223.91" cy="318.85" r="4" fill="url(#ggrn)"/>
<circle cx="223.91" cy="333.7" r="3.5" fill="url(#gyel)"/>
<circle cx="223.91" cy="363.4" r="4" fill="url(#ggrn)"/>
<circle cx="223.91" cy="378.25" r="3.5" fill="url(#gyel)"/>
<circle cx="236.68" cy="311.6" r="3.5" fill="url(#gyel)"/>
<circle cx="236.68" cy="341.3" r="4" fill="url(#ggrn)"/>
<circle cx="236.68" cy="356.15" r="3.5" fill="url(#gyel)"/>
<circle cx="236.68" cy="385.85" r="4" fill="url(#ggrn)"/>
<circle cx="236.68" cy="400.7" r="3.5" fill="url(#gyel)"/>
<circle cx="249.45" cy="318.85" r="4" fill="url(#ggrn)"/>
<circle cx="249.45" cy="333.7" r="3.5" fill="url(#gyel)"/>
<circle cx="249.45" cy="363.4" r="4" fill="url(#ggrn)"/>
<circle cx="249.45" cy="378.25" r="3.5" fill="url(#gyel)"/>
<circle cx="262.22" cy="311.6" r="3.5" fill="url(#gyel)"/>
<circle cx="262.22" cy="341.3" r="4" fill="url(#ggrn)"/>
<circle cx="262.22" cy="356.15" r="3.5" fill="url(#gyel)"/>
<circle cx="262.22" cy="385.85" r="4" fill="url(#ggrn)"/>
<circle cx="262.22" cy="400.7" r="3.5" fill="url(#gyel)"/>
<circle cx="274.99" cy="318.85" r="4" fill="url(#ggrn)"/>
<circle cx="274.99" cy="333.7" r="3.5" fill="url(#gyel)"/>
<circle cx="274.99" cy="363.4" r="4" fill="url(#ggrn)"/>
<circle cx="274.99" cy="378.25" r="3.5" fill="url(#gyel)"/>
<circle cx="287.76" cy="311.6" r="3.5" fill="url(#gyel)"/>
<circle cx="287.76" cy="341.3" r="4" fill="url(#ggrn)"/>
<circle cx="287.76" cy="356.15" r="3.5" fill="url(#gyel)"/>
<circle cx="287.76" cy="385.85" r="4" fill="url(#ggrn)"/>
<circle cx="287.76" cy="400.7" r="3.5" fill="url(#gyel)"/>
<circle cx="300.53" cy="333.7" r="3.5" fill="url(#gyel)"/>
<circle cx="300.53" cy="363.4" r="4" fill="url(#ggrn)"/>
<circle cx="300.53" cy="378.25" r="3.5" fill="url(#gyel)"/>
<circle cx="313.3" cy="356.15" r="3.5" fill="url(#gyel)"/>
<circle cx="313.3" cy="385.85" r="4" fill="url(#ggrn)"/>
<circle cx="313.3" cy="400.7" r="3.5" fill="url(#gyel)"/>
<circle cx="326.07" cy="378.25" r="3.5" fill="url(#gyel)"/>
<text x="177.3" y="279.5" class="pl" style="font-size:15px">c</text>
<circle cx="186.8" cy="288.3" r="5.3" fill="#f4ee12"/>
<text x="193.8" y="292.8" class="lb">Na</text>
<text x="210.6" y="289.3" class="rn">I</text>
<circle cx="224.6" cy="288.3" r="5.3" fill="#14ec14"/>
<text x="231.9" y="292.8" class="lb">Na</text>
<text x="248.2" y="289.3" class="rn">II</text>
<circle cx="263.4" cy="288.3" r="5.4" fill="#0c0cc4"/>
<text x="270.2" y="292.8" class="lb">Ti/Cr</text>
<circle cx="307.8" cy="288.3" r="4.0" fill="#e4000c"/>
<text x="314.1" y="292.8" class="lb">O</text>
<line x1="199.7" y1="387" x2="188" y2="387" stroke="#50b050" stroke-width="1"/>
<polygon points="188.5,385.4 188.5,388.6 184,387" fill="#109010"/>
<line x1="199.7" y1="387" x2="204.5" y2="395.5" stroke="#e05050" stroke-width="1"/>
<polygon points="202.6,395.6 205.6,394 206.6,399" fill="#d01010"/>
<circle cx="199.7" cy="387" r="1.8" fill="url(#gblu)"/>
<text x="179.3" y="389" class="ax" fill="#50a050" text-anchor="middle">b</text>
<text x="210.2" y="406.5" class="ax" fill="#e04040" text-anchor="middle">a</text>
<polygon points="373.5,282 457.3,282 462.7,295 378.9,295" fill="#4848ea"/>
<polygon points="390.2,282 379.9,295 395.7,295" fill="#3030b8" opacity="0.45"/>
<circle cx="384.6" cy="289" r="2.4" fill="url(#gti)"/>
<polygon points="406.9,282 396.7,295 412.4,295" fill="#3030b8" opacity="0.45"/>
<circle cx="401.3" cy="289" r="2.4" fill="url(#gti)"/>
<polygon points="423.7,282 413.4,295 429.1,295" fill="#3030b8" opacity="0.45"/>
<circle cx="418" cy="289" r="2.4" fill="url(#gti)"/>
<polygon points="440.5,282 430.1,295 446,295" fill="#3030b8" opacity="0.45"/>
<circle cx="434.85" cy="289" r="2.4" fill="url(#gti)"/>
<polygon points="457.3,282 447,295 462.7,295" fill="#3030b8" opacity="0.45"/>
<circle cx="451.6" cy="289" r="2.4" fill="url(#gti)"/>
<circle cx="373.5" cy="282" r="1.9" fill="url(#gred)"/>
<circle cx="390.2" cy="282" r="1.9" fill="url(#gred)"/>
<circle cx="406.9" cy="282" r="1.9" fill="url(#gred)"/>
<circle cx="423.7" cy="282" r="1.9" fill="url(#gred)"/>
<circle cx="440.5" cy="282" r="1.9" fill="url(#gred)"/>
<circle cx="457.3" cy="282" r="1.9" fill="url(#gred)"/>
<circle cx="378.9" cy="295" r="1.9" fill="url(#gred)"/>
<circle cx="395.7" cy="295" r="1.9" fill="url(#gred)"/>
<circle cx="412.4" cy="295" r="1.9" fill="url(#gred)"/>
<circle cx="429.1" cy="295" r="1.9" fill="url(#gred)"/>
<circle cx="446" cy="295" r="1.9" fill="url(#gred)"/>
<circle cx="462.7" cy="295" r="1.9" fill="url(#gred)"/>
<polygon points="378.6,318.7 446,318.7 451.4,331.2 384.2,331.2" fill="#4848ea"/>
<polygon points="395.4,318.7 385.2,331.2 401.1,331.2" fill="#3030b8" opacity="0.45"/>
<circle cx="389.85" cy="325.45" r="2.4" fill="url(#gti)"/>
<polygon points="412.2,318.7 402.1,331.2 417.9,331.2" fill="#3030b8" opacity="0.45"/>
<circle cx="406.65" cy="325.45" r="2.4" fill="url(#gti)"/>
<polygon points="429.1,318.7 418.9,331.2 434.6,331.2" fill="#3030b8" opacity="0.45"/>
<circle cx="423.4" cy="325.45" r="2.4" fill="url(#gti)"/>
<polygon points="446,318.7 435.6,331.2 451.4,331.2" fill="#3030b8" opacity="0.45"/>
<circle cx="440.25" cy="325.45" r="2.4" fill="url(#gti)"/>
<circle cx="378.6" cy="318.7" r="1.9" fill="url(#gred)"/>
<circle cx="395.4" cy="318.7" r="1.9" fill="url(#gred)"/>
<circle cx="412.2" cy="318.7" r="1.9" fill="url(#gred)"/>
<circle cx="429.1" cy="318.7" r="1.9" fill="url(#gred)"/>
<circle cx="446" cy="318.7" r="1.9" fill="url(#gred)"/>
<circle cx="384.2" cy="331.2" r="1.9" fill="url(#gred)"/>
<circle cx="401.1" cy="331.2" r="1.9" fill="url(#gred)"/>
<circle cx="417.9" cy="331.2" r="1.9" fill="url(#gred)"/>
<circle cx="434.6" cy="331.2" r="1.9" fill="url(#gred)"/>
<circle cx="451.4" cy="331.2" r="1.9" fill="url(#gred)"/>
<polygon points="384.2,354.8 451.4,354.8 457.4,367.9 389.6,367.9" fill="#4848ea"/>
<polygon points="401.2,354.8 390.6,367.9 406.5,367.9" fill="#3030b8" opacity="0.45"/>
<circle cx="395.35" cy="361.85" r="2.4" fill="url(#gti)"/>
<polygon points="418,354.8 407.5,367.9 423.6,367.9" fill="#3030b8" opacity="0.45"/>
<circle cx="412.4" cy="361.85" r="2.4" fill="url(#gti)"/>
<polygon points="434.7,354.8 424.6,367.9 440.4,367.9" fill="#3030b8" opacity="0.45"/>
<circle cx="429.2" cy="361.85" r="2.4" fill="url(#gti)"/>
<polygon points="451.4,354.8 441.4,367.9 457.4,367.9" fill="#3030b8" opacity="0.45"/>
<circle cx="446.05" cy="361.85" r="2.4" fill="url(#gti)"/>
<circle cx="384.2" cy="354.8" r="1.9" fill="url(#gred)"/>
<circle cx="401.2" cy="354.8" r="1.9" fill="url(#gred)"/>
<circle cx="418" cy="354.8" r="1.9" fill="url(#gred)"/>
<circle cx="434.7" cy="354.8" r="1.9" fill="url(#gred)"/>
<circle cx="451.4" cy="354.8" r="1.9" fill="url(#gred)"/>
<circle cx="389.6" cy="367.9" r="1.9" fill="url(#gred)"/>
<circle cx="406.5" cy="367.9" r="1.9" fill="url(#gred)"/>
<circle cx="423.6" cy="367.9" r="1.9" fill="url(#gred)"/>
<circle cx="440.4" cy="367.9" r="1.9" fill="url(#gred)"/>
<circle cx="457.4" cy="367.9" r="1.9" fill="url(#gred)"/>
<polygon points="373.5,391.7 457.4,391.7 462.7,404.6 378.8,404.6" fill="#4848ea"/>
<polygon points="390,391.7 379.8,404.6 395.8,404.6" fill="#3030b8" opacity="0.45"/>
<circle cx="384.65" cy="398.65" r="2.4" fill="url(#gti)"/>
<polygon points="407,391.7 396.8,404.6 412.3,404.6" fill="#3030b8" opacity="0.45"/>
<circle cx="401.15" cy="398.65" r="2.4" fill="url(#gti)"/>
<polygon points="423.7,391.7 413.3,404.6 428.9,404.6" fill="#3030b8" opacity="0.45"/>
<circle cx="417.95" cy="398.65" r="2.4" fill="url(#gti)"/>
<polygon points="440.4,391.7 429.9,404.6 446,404.6" fill="#3030b8" opacity="0.45"/>
<circle cx="434.85" cy="398.65" r="2.4" fill="url(#gti)"/>
<polygon points="457.4,391.7 447,404.6 462.7,404.6" fill="#3030b8" opacity="0.45"/>
<circle cx="451.55" cy="398.65" r="2.4" fill="url(#gti)"/>
<circle cx="373.5" cy="391.7" r="1.9" fill="url(#gred)"/>
<circle cx="390" cy="391.7" r="1.9" fill="url(#gred)"/>
<circle cx="407" cy="391.7" r="1.9" fill="url(#gred)"/>
<circle cx="423.7" cy="391.7" r="1.9" fill="url(#gred)"/>
<circle cx="440.4" cy="391.7" r="1.9" fill="url(#gred)"/>
<circle cx="457.4" cy="391.7" r="1.9" fill="url(#gred)"/>
<circle cx="378.8" cy="404.6" r="1.9" fill="url(#gred)"/>
<circle cx="395.8" cy="404.6" r="1.9" fill="url(#gred)"/>
<circle cx="412.3" cy="404.6" r="1.9" fill="url(#gred)"/>
<circle cx="428.9" cy="404.6" r="1.9" fill="url(#gred)"/>
<circle cx="446" cy="404.6" r="1.9" fill="url(#gred)"/>
<circle cx="462.7" cy="404.6" r="1.9" fill="url(#gred)"/>
<circle cx="384.2" cy="306.9" r="3" fill="url(#glim)"/>
<circle cx="390" cy="306.9" r="3" fill="url(#glim)"/>
<circle cx="401.3" cy="306.9" r="3" fill="url(#glim)"/>
<circle cx="407.1" cy="306.9" r="3" fill="url(#glim)"/>
<circle cx="418" cy="306.9" r="3" fill="url(#glim)"/>
<circle cx="423.9" cy="306.9" r="3" fill="url(#glim)"/>
<circle cx="434.6" cy="306.9" r="3" fill="url(#glim)"/>
<circle cx="440.5" cy="306.9" r="3" fill="url(#glim)"/>
<circle cx="451.4" cy="306.9" r="3" fill="url(#glim)"/>
<circle cx="457.3" cy="306.9" r="3" fill="url(#glim)"/>
<circle cx="389.6" cy="343.3" r="3" fill="url(#glim)"/>
<circle cx="395.4" cy="343.3" r="3" fill="url(#glim)"/>
<circle cx="406.4" cy="343.3" r="3" fill="url(#glim)"/>
<circle cx="412.2" cy="343.3" r="3" fill="url(#glim)"/>
<circle cx="423.4" cy="343.3" r="3" fill="url(#glim)"/>
<circle cx="429.3" cy="343.3" r="3" fill="url(#glim)"/>
<circle cx="440.5" cy="343.3" r="3" fill="url(#glim)"/>
<circle cx="446" cy="343.3" r="3" fill="url(#glim)"/>
<circle cx="378.8" cy="380" r="3" fill="url(#glim)"/>
<circle cx="384.4" cy="380" r="3" fill="url(#glim)"/>
<circle cx="395.8" cy="380" r="3" fill="url(#glim)"/>
<circle cx="401.1" cy="380" r="3" fill="url(#glim)"/>
<circle cx="412.3" cy="380" r="3" fill="url(#glim)"/>
<circle cx="417.8" cy="380" r="3" fill="url(#glim)"/>
<circle cx="429.2" cy="380" r="3" fill="url(#glim)"/>
<circle cx="435.1" cy="380" r="3" fill="url(#glim)"/>
<circle cx="445.6" cy="380" r="3" fill="url(#glim)"/>
<circle cx="451.5" cy="380" r="3" fill="url(#glim)"/>
<line x1="461.5" y1="282" x2="476.5" y2="282" stroke="#8a8a8a" stroke-width="0.8" stroke-dasharray="1.2 1"/>
<text x="486.2" y="284.9" class="ab">A</text>
<line x1="466" y1="295" x2="477" y2="295" stroke="#8a8a8a" stroke-width="0.8" stroke-dasharray="1.2 1"/>
<text x="486.4" y="299.3" class="ab">B</text>
<line x1="449" y1="318.7" x2="478.5" y2="318.7" stroke="#8a8a8a" stroke-width="0.8" stroke-dasharray="1.2 1"/>
<text x="486.4" y="322.1" class="ab">B</text>
<line x1="454.5" y1="331.3" x2="480.6" y2="331.3" stroke="#8a8a8a" stroke-width="0.8" stroke-dasharray="1.2 1"/>
<text x="486.2" y="336.2" class="ab">C</text>
<line x1="454.5" y1="354.7" x2="482.8" y2="354.7" stroke="#8a8a8a" stroke-width="0.8" stroke-dasharray="1.2 1"/>
<text x="486.2" y="359.2" class="ab">C</text>
<line x1="461" y1="368" x2="482.8" y2="368" stroke="#8a8a8a" stroke-width="0.8" stroke-dasharray="1.2 1"/>
<text x="486.6" y="371.8" class="ab">A</text>
<line x1="461" y1="391.7" x2="483" y2="391.7" stroke="#8a8a8a" stroke-width="0.8" stroke-dasharray="1.2 1"/>
<text x="486.6" y="394.9" class="ab">A</text>
<line x1="466" y1="404.6" x2="483" y2="404.6" stroke="#8a8a8a" stroke-width="0.8" stroke-dasharray="1.2 1"/>
<text x="486.6" y="408.2" class="ab">B</text>
<text x="350.4" y="279.6" class="pl">e</text>
<line x1="352.5" y1="404.7" x2="352.5" y2="396" stroke="#6a6ae8" stroke-width="1"/>
<polygon points="351,396.5 354,396.5 352.5,392" fill="#4040e0"/>
<line x1="352.5" y1="404.7" x2="359" y2="404.7" stroke="#e07070" stroke-width="1"/>
<polygon points="358.5,403.2 358.5,406.2 363,404.7" fill="#d01010"/>
<circle cx="352.5" cy="404.7" r="1.5" fill="#205020"/>
<text x="352.6" y="390" class="ax" fill="#6060d0" text-anchor="middle">c</text>
<text x="367" y="406.6" class="ax" fill="#e06060" text-anchor="middle">a</text>
<polygon points="530.6,317.2 542.56,310.4 554.52,317.2 566.48,310.4 578.44,317.2 590.4,310.4 602.36,317.2 614.32,310.4 626.28,317.2 638.24,324.25 650.2,331.05 650.2,344.9 662.16,351.95 662.16,365.8 674.12,372.6 674.12,386.45 662.16,393.5 650.2,400.3 638.24,393.5 626.28,400.3 614.32,393.5 602.36,400.3 590.4,393.5 578.44,400.3 566.48,393.5 554.52,386.45 554.52,372.6 542.56,365.8 542.56,351.95 530.6,344.9 530.6,331.05" fill="#4642e4" stroke="#3a36c8" stroke-width="0.8" stroke-linejoin="round"/>
<clipPath id="clipf"><polygon points="530.6,317.2 542.56,310.4 554.52,317.2 566.48,310.4 578.44,317.2 590.4,310.4 602.36,317.2 614.32,310.4 626.28,317.2 638.24,324.25 650.2,331.05 650.2,344.9 662.16,351.95 662.16,365.8 674.12,372.6 674.12,386.45 662.16,393.5 650.2,400.3 638.24,393.5 626.28,400.3 614.32,393.5 602.36,400.3 590.4,393.5 578.44,400.3 566.48,393.5 554.52,386.45 554.52,372.6 542.56,365.8 542.56,351.95 530.6,344.9 530.6,331.05"/></clipPath>
<g clip-path="url(#clipf)">
<polygon points="530.6,318.2 524.6,329.2 536.6,329.2" fill="#2a26a8" opacity="0.35"/>
<polygon points="542.56,339.1 536.56,350.1 548.56,350.1" fill="#2a26a8" opacity="0.35"/>
<polygon points="554.52,318.2 548.52,329.2 560.52,329.2" fill="#2a26a8" opacity="0.35"/>
<polygon points="554.52,359.75 548.52,370.75 560.52,370.75" fill="#2a26a8" opacity="0.35"/>
<polygon points="566.48,339.1 560.48,350.1 572.48,350.1" fill="#2a26a8" opacity="0.35"/>
<polygon points="566.48,380.65 560.48,391.65 572.48,391.65" fill="#2a26a8" opacity="0.35"/>
<polygon points="578.44,318.2 572.44,329.2 584.44,329.2" fill="#2a26a8" opacity="0.35"/>
<polygon points="578.44,359.75 572.44,370.75 584.44,370.75" fill="#2a26a8" opacity="0.35"/>
<polygon points="578.44,401.3 572.44,412.3 584.44,412.3" fill="#2a26a8" opacity="0.35"/>
<polygon points="590.4,339.1 584.4,350.1 596.4,350.1" fill="#2a26a8" opacity="0.35"/>
<polygon points="590.4,380.65 584.4,391.65 596.4,391.65" fill="#2a26a8" opacity="0.35"/>
<polygon points="602.36,318.2 596.36,329.2 608.36,329.2" fill="#2a26a8" opacity="0.35"/>
<polygon points="602.36,359.75 596.36,370.75 608.36,370.75" fill="#2a26a8" opacity="0.35"/>
<polygon points="602.36,401.3 596.36,412.3 608.36,412.3" fill="#2a26a8" opacity="0.35"/>
<polygon points="614.32,339.1 608.32,350.1 620.32,350.1" fill="#2a26a8" opacity="0.35"/>
<polygon points="614.32,380.65 608.32,391.65 620.32,391.65" fill="#2a26a8" opacity="0.35"/>
<polygon points="626.28,318.2 620.28,329.2 632.28,329.2" fill="#2a26a8" opacity="0.35"/>
<polygon points="626.28,359.75 620.28,370.75 632.28,370.75" fill="#2a26a8" opacity="0.35"/>
<polygon points="626.28,401.3 620.28,412.3 632.28,412.3" fill="#2a26a8" opacity="0.35"/>
<polygon points="638.24,339.1 632.24,350.1 644.24,350.1" fill="#2a26a8" opacity="0.35"/>
<polygon points="638.24,380.65 632.24,391.65 644.24,391.65" fill="#2a26a8" opacity="0.35"/>
<polygon points="650.2,359.75 644.2,370.75 656.2,370.75" fill="#2a26a8" opacity="0.35"/>
<polygon points="650.2,401.3 644.2,412.3 656.2,412.3" fill="#2a26a8" opacity="0.35"/>
<polygon points="662.16,380.65 656.16,391.65 668.16,391.65" fill="#2a26a8" opacity="0.35"/>
<line x1="530.6" y1="317.2" x2="542.56" y2="338.1" stroke="#2c28b0" stroke-width="1.2" opacity="0.55"/>
<line x1="530.6" y1="317.2" x2="554.52" y2="317.2" stroke="#6c68f0" stroke-width="1.2" opacity="0.6"/>
<line x1="542.56" y1="338.1" x2="554.52" y2="317.2" stroke="#2c28b0" stroke-width="1.2" opacity="0.55"/>
<line x1="542.56" y1="338.1" x2="554.52" y2="358.75" stroke="#2c28b0" stroke-width="1.2" opacity="0.55"/>
<line x1="542.56" y1="338.1" x2="566.48" y2="338.1" stroke="#6c68f0" stroke-width="1.2" opacity="0.6"/>
<line x1="554.52" y1="317.2" x2="566.48" y2="338.1" stroke="#2c28b0" stroke-width="1.2" opacity="0.55"/>
<line x1="554.52" y1="317.2" x2="578.44" y2="317.2" stroke="#6c68f0" stroke-width="1.2" opacity="0.6"/>
<line x1="554.52" y1="358.75" x2="566.48" y2="338.1" stroke="#2c28b0" stroke-width="1.2" opacity="0.55"/>
<line x1="554.52" y1="358.75" x2="566.48" y2="379.65" stroke="#2c28b0" stroke-width="1.2" opacity="0.55"/>
<line x1="554.52" y1="358.75" x2="578.44" y2="358.75" stroke="#6c68f0" stroke-width="1.2" opacity="0.6"/>
<line x1="566.48" y1="338.1" x2="578.44" y2="317.2" stroke="#2c28b0" stroke-width="1.2" opacity="0.55"/>
<line x1="566.48" y1="338.1" x2="578.44" y2="358.75" stroke="#2c28b0" stroke-width="1.2" opacity="0.55"/>
<line x1="566.48" y1="338.1" x2="590.4" y2="338.1" stroke="#6c68f0" stroke-width="1.2" opacity="0.6"/>
<line x1="566.48" y1="379.65" x2="578.44" y2="358.75" stroke="#2c28b0" stroke-width="1.2" opacity="0.55"/>
<line x1="566.48" y1="379.65" x2="578.44" y2="400.3" stroke="#2c28b0" stroke-width="1.2" opacity="0.55"/>
<line x1="566.48" y1="379.65" x2="590.4" y2="379.65" stroke="#6c68f0" stroke-width="1.2" opacity="0.6"/>
<line x1="578.44" y1="317.2" x2="590.4" y2="338.1" stroke="#2c28b0" stroke-width="1.2" opacity="0.55"/>
<line x1="578.44" y1="317.2" x2="602.36" y2="317.2" stroke="#6c68f0" stroke-width="1.2" opacity="0.6"/>
<line x1="578.44" y1="358.75" x2="590.4" y2="338.1" stroke="#2c28b0" stroke-width="1.2" opacity="0.55"/>
<line x1="578.44" y1="358.75" x2="590.4" y2="379.65" stroke="#2c28b0" stroke-width="1.2" opacity="0.55"/>
<line x1="578.44" y1="358.75" x2="602.36" y2="358.75" stroke="#6c68f0" stroke-width="1.2" opacity="0.6"/>
<line x1="578.44" y1="400.3" x2="590.4" y2="379.65" stroke="#2c28b0" stroke-width="1.2" opacity="0.55"/>
<line x1="578.44" y1="400.3" x2="602.36" y2="400.3" stroke="#6c68f0" stroke-width="1.2" opacity="0.6"/>
<line x1="590.4" y1="338.1" x2="602.36" y2="317.2" stroke="#2c28b0" stroke-width="1.2" opacity="0.55"/>
<line x1="590.4" y1="338.1" x2="602.36" y2="358.75" stroke="#2c28b0" stroke-width="1.2" opacity="0.55"/>
<line x1="590.4" y1="338.1" x2="614.32" y2="338.1" stroke="#6c68f0" stroke-width="1.2" opacity="0.6"/>
<line x1="590.4" y1="379.65" x2="602.36" y2="358.75" stroke="#2c28b0" stroke-width="1.2" opacity="0.55"/>
<line x1="590.4" y1="379.65" x2="602.36" y2="400.3" stroke="#2c28b0" stroke-width="1.2" opacity="0.55"/>
<line x1="590.4" y1="379.65" x2="614.32" y2="379.65" stroke="#6c68f0" stroke-width="1.2" opacity="0.6"/>
<line x1="602.36" y1="317.2" x2="614.32" y2="338.1" stroke="#2c28b0" stroke-width="1.2" opacity="0.55"/>
<line x1="602.36" y1="317.2" x2="626.28" y2="317.2" stroke="#6c68f0" stroke-width="1.2" opacity="0.6"/>
<line x1="602.36" y1="358.75" x2="614.32" y2="338.1" stroke="#2c28b0" stroke-width="1.2" opacity="0.55"/>
<line x1="602.36" y1="358.75" x2="614.32" y2="379.65" stroke="#2c28b0" stroke-width="1.2" opacity="0.55"/>
<line x1="602.36" y1="358.75" x2="626.28" y2="358.75" stroke="#6c68f0" stroke-width="1.2" opacity="0.6"/>
<line x1="602.36" y1="400.3" x2="614.32" y2="379.65" stroke="#2c28b0" stroke-width="1.2" opacity="0.55"/>
<line x1="602.36" y1="400.3" x2="626.28" y2="400.3" stroke="#6c68f0" stroke-width="1.2" opacity="0.6"/>
<line x1="614.32" y1="338.1" x2="626.28" y2="317.2" stroke="#2c28b0" stroke-width="1.2" opacity="0.55"/>
<line x1="614.32" y1="338.1" x2="626.28" y2="358.75" stroke="#2c28b0" stroke-width="1.2" opacity="0.55"/>
<line x1="614.32" y1="338.1" x2="638.24" y2="338.1" stroke="#6c68f0" stroke-width="1.2" opacity="0.6"/>
<line x1="614.32" y1="379.65" x2="626.28" y2="358.75" stroke="#2c28b0" stroke-width="1.2" opacity="0.55"/>
<line x1="614.32" y1="379.65" x2="626.28" y2="400.3" stroke="#2c28b0" stroke-width="1.2" opacity="0.55"/>
<line x1="614.32" y1="379.65" x2="638.24" y2="379.65" stroke="#6c68f0" stroke-width="1.2" opacity="0.6"/>
<line x1="626.28" y1="317.2" x2="638.24" y2="338.1" stroke="#2c28b0" stroke-width="1.2" opacity="0.55"/>
<line x1="626.28" y1="358.75" x2="638.24" y2="338.1" stroke="#2c28b0" stroke-width="1.2" opacity="0.55"/>
<line x1="626.28" y1="358.75" x2="638.24" y2="379.65" stroke="#2c28b0" stroke-width="1.2" opacity="0.55"/>
<line x1="626.28" y1="358.75" x2="650.2" y2="358.75" stroke="#6c68f0" stroke-width="1.2" opacity="0.6"/>
<line x1="626.28" y1="400.3" x2="638.24" y2="379.65" stroke="#2c28b0" stroke-width="1.2" opacity="0.55"/>
<line x1="626.28" y1="400.3" x2="650.2" y2="400.3" stroke="#6c68f0" stroke-width="1.2" opacity="0.6"/>
<line x1="638.24" y1="338.1" x2="650.2" y2="358.75" stroke="#2c28b0" stroke-width="1.2" opacity="0.55"/>
<line x1="638.24" y1="379.65" x2="650.2" y2="358.75" stroke="#2c28b0" stroke-width="1.2" opacity="0.55"/>
<line x1="638.24" y1="379.65" x2="650.2" y2="400.3" stroke="#2c28b0" stroke-width="1.2" opacity="0.55"/>
<line x1="638.24" y1="379.65" x2="662.16" y2="379.65" stroke="#6c68f0" stroke-width="1.2" opacity="0.6"/>
<line x1="650.2" y1="358.75" x2="662.16" y2="379.65" stroke="#2c28b0" stroke-width="1.2" opacity="0.55"/>
<line x1="650.2" y1="400.3" x2="662.16" y2="379.65" stroke="#2c28b0" stroke-width="1.2" opacity="0.55"/>
</g>
<circle cx="530.6" cy="317.2" r="2.7" fill="url(#glim)"/>
<circle cx="542.56" cy="338.1" r="2.7" fill="url(#glim)"/>
<circle cx="554.52" cy="317.2" r="2.7" fill="url(#glim)"/>
<circle cx="554.52" cy="358.75" r="2.7" fill="url(#glim)"/>
<circle cx="566.48" cy="338.1" r="2.8" fill="#7272c6" opacity="0.75"/>
<circle cx="566.48" cy="379.65" r="2.7" fill="url(#glim)"/>
<circle cx="578.44" cy="317.2" r="2.7" fill="url(#glim)"/>
<circle cx="578.44" cy="358.75" r="2.8" fill="#7272c6" opacity="0.75"/>
<circle cx="578.44" cy="400.3" r="3.3" fill="url(#glim)"/>
<circle cx="590.4" cy="338.1" r="2.8" fill="#7272c6" opacity="0.75"/>
<circle cx="590.4" cy="379.65" r="2.8" fill="#7272c6" opacity="0.75"/>
<circle cx="602.36" cy="317.2" r="2.7" fill="url(#glim)"/>
<circle cx="602.36" cy="358.75" r="2.8" fill="#7272c6" opacity="0.75"/>
<circle cx="602.36" cy="400.3" r="3.3" fill="url(#glim)"/>
<circle cx="614.32" cy="338.1" r="2.8" fill="#7272c6" opacity="0.75"/>
<circle cx="614.32" cy="379.65" r="2.8" fill="#7272c6" opacity="0.75"/>
<circle cx="626.28" cy="317.2" r="2.7" fill="url(#glim)"/>
<circle cx="626.28" cy="358.75" r="2.8" fill="#7272c6" opacity="0.75"/>
<circle cx="626.28" cy="400.3" r="3.3" fill="url(#glim)"/>
<circle cx="638.24" cy="338.1" r="2.7" fill="url(#glim)"/>
<circle cx="638.24" cy="379.65" r="2.8" fill="#7272c6" opacity="0.75"/>
<circle cx="650.2" cy="358.75" r="2.7" fill="url(#glim)"/>
<circle cx="650.2" cy="400.3" r="3.3" fill="url(#glim)"/>
<circle cx="662.16" cy="379.65" r="2.7" fill="url(#glim)"/>
<circle cx="530.6" cy="331.05" r="3.4" fill="url(#glim)"/>
<circle cx="530.6" cy="344.9" r="3.4" fill="url(#glim)"/>
<circle cx="542.56" cy="310.4" r="3.4" fill="url(#glim)"/>
<circle cx="542.56" cy="324.25" r="3.4" fill="url(#glim)"/>
<circle cx="542.56" cy="351.95" r="3.4" fill="url(#glim)"/>
<circle cx="542.56" cy="365.8" r="3.4" fill="url(#glim)"/>
<circle cx="554.52" cy="331.05" r="3.4" fill="url(#glim)"/>
<circle cx="554.52" cy="344.9" r="3.4" fill="url(#glim)"/>
<circle cx="554.52" cy="372.6" r="3.4" fill="url(#glim)"/>
<circle cx="554.52" cy="386.45" r="3.4" fill="url(#glim)"/>
<circle cx="566.48" cy="310.4" r="3.4" fill="url(#glim)"/>
<circle cx="566.48" cy="324.25" r="3.4" fill="url(#glim)"/>
<circle cx="566.48" cy="351.95" r="3.4" fill="url(#glim)"/>
<circle cx="566.48" cy="365.8" r="3.4" fill="url(#glim)"/>
<circle cx="566.48" cy="393.5" r="3.4" fill="url(#glim)"/>
<circle cx="578.44" cy="331.05" r="3.4" fill="url(#glim)"/>
<circle cx="578.44" cy="344.9" r="3.4" fill="url(#glim)"/>
<circle cx="578.44" cy="372.6" r="3.4" fill="url(#glim)"/>
<circle cx="578.44" cy="386.45" r="3.4" fill="url(#glim)"/>
<circle cx="590.4" cy="310.4" r="3.4" fill="url(#glim)"/>
<circle cx="590.4" cy="324.25" r="3.4" fill="url(#glim)"/>
<circle cx="590.4" cy="351.95" r="3.4" fill="url(#glim)"/>
<circle cx="590.4" cy="365.8" r="3.4" fill="url(#glim)"/>
<circle cx="590.4" cy="393.5" r="3.4" fill="url(#glim)"/>
<circle cx="602.36" cy="331.05" r="3.4" fill="url(#glim)"/>
<circle cx="602.36" cy="344.9" r="3.4" fill="url(#glim)"/>
<circle cx="602.36" cy="372.6" r="3.4" fill="url(#glim)"/>
<circle cx="602.36" cy="386.45" r="3.4" fill="url(#glim)"/>
<circle cx="614.32" cy="310.4" r="3.4" fill="url(#glim)"/>
<circle cx="614.32" cy="324.25" r="3.4" fill="url(#glim)"/>
<circle cx="614.32" cy="351.95" r="3.4" fill="url(#glim)"/>
<circle cx="614.32" cy="365.8" r="3.4" fill="url(#glim)"/>
<circle cx="614.32" cy="393.5" r="3.4" fill="url(#glim)"/>
<circle cx="626.28" cy="331.05" r="3.4" fill="url(#glim)"/>
<circle cx="626.28" cy="344.9" r="3.4" fill="url(#glim)"/>
<circle cx="626.28" cy="372.6" r="3.4" fill="url(#glim)"/>
<circle cx="626.28" cy="386.45" r="3.4" fill="url(#glim)"/>
<circle cx="638.24" cy="324.25" r="3.4" fill="url(#glim)"/>
<circle cx="638.24" cy="351.95" r="3.4" fill="url(#glim)"/>
<circle cx="638.24" cy="365.8" r="3.4" fill="url(#glim)"/>
<circle cx="638.24" cy="393.5" r="3.4" fill="url(#glim)"/>
<circle cx="650.2" cy="331.05" r="3.4" fill="url(#glim)"/>
<circle cx="650.2" cy="344.9" r="3.4" fill="url(#glim)"/>
<circle cx="650.2" cy="372.6" r="3.4" fill="url(#glim)"/>
<circle cx="650.2" cy="386.45" r="3.4" fill="url(#glim)"/>
<circle cx="662.16" cy="351.95" r="3.4" fill="url(#glim)"/>
<circle cx="662.16" cy="365.8" r="3.4" fill="url(#glim)"/>
<circle cx="662.16" cy="393.5" r="3.4" fill="url(#glim)"/>
<circle cx="674.12" cy="372.6" r="3.4" fill="url(#glim)"/>
<circle cx="674.12" cy="386.45" r="3.4" fill="url(#glim)"/>
<text x="514.4" y="279.9" class="pl">f</text>
<circle cx="547" cy="288.6" r="5.0" fill="#cdf030"/>
<text x="553.8" y="292.5" class="lf">Na</text>
<circle cx="585.5" cy="288.6" r="5.1" fill="#0c0cc4"/>
<text x="591.8" y="292.5" class="lf">Ti/Cr</text>
<circle cx="633.1" cy="288.6" r="4.0" fill="#e4000c"/>
<text x="638.6" y="292.5" class="lf">O</text>
<line x1="536.3" y1="391.2" x2="527.5" y2="391.2" stroke="#50b050" stroke-width="1"/>
<polygon points="528,389.6 528,392.8 521.6,391.2" fill="#109010"/>
<line x1="536.3" y1="391.2" x2="541" y2="399.5" stroke="#e05050" stroke-width="1"/>
<polygon points="539,399.8 542,398.2 543.6,403.5" fill="#d01010"/>
<circle cx="536.3" cy="391.2" r="1.8" fill="url(#gblu)"/>
<text x="516.4" y="393.3" class="ax" fill="#70b070" text-anchor="middle">b</text>
<text x="546.3" y="409.8" class="ax" fill="#e06060" text-anchor="middle">a</text>
</svg></body></html>
